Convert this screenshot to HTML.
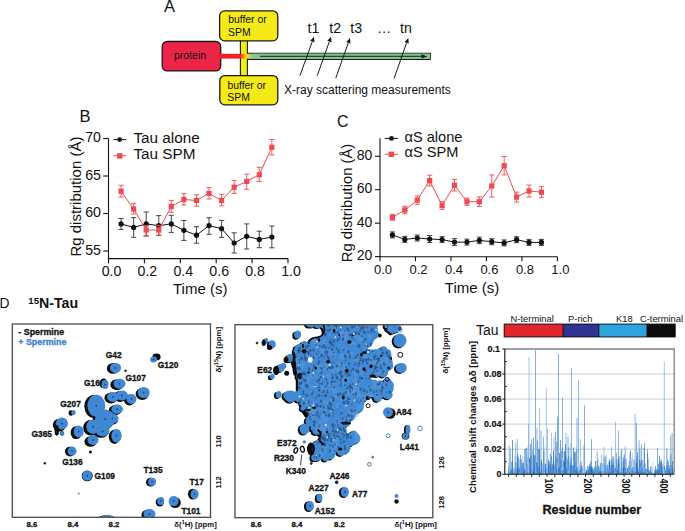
<!DOCTYPE html>
<html><head><meta charset="utf-8"><style>
html,body{margin:0;padding:0;background:#fff;}
svg{display:block;}
text{font-family:"Liberation Sans",sans-serif;}
</style></head><body>
<svg width="685" height="531" viewBox="0 0 685 531">
<rect width="685" height="531" fill="#fff"/>
<text x="164.00" y="11.70" font-size="16.5" fill="#111" text-anchor="start" >A</text>
<rect x="240.4" y="39" width="7" height="38" fill="#f3ea17" stroke="#1a1a1a" stroke-width="1.1"/>
<rect x="219.6" y="10.9" width="58.2" height="29.9" rx="5" fill="#f3ea17" stroke="#1a1a1a" stroke-width="1.3"/>
<rect x="219.8" y="75.6" width="58" height="29.2" rx="5" fill="#f3ea17" stroke="#1a1a1a" stroke-width="1.3"/>
<rect x="162.2" y="41.5" width="58.5" height="29.4" rx="5" fill="#ec2548" stroke="#1a1a1a" stroke-width="1.3"/>
<rect x="218.0" y="53.8" width="23.0" height="4.8" fill="#ee2222"/>
<defs><linearGradient id="gr" x1="0" x2="1" y1="0" y2="0"><stop offset="0" stop-color="#ee3322"/><stop offset="0.25" stop-color="#f59a1e"/><stop offset="0.5" stop-color="#f0e31a"/><stop offset="0.75" stop-color="#b8d640"/><stop offset="1" stop-color="#7cc48c"/></linearGradient></defs>
<rect x="240.8" y="53.8" width="12.5" height="4.8" fill="url(#gr)"/>
<path d="M247.6 53.2 H430.3 V59.4 H247.6" fill="none" stroke="#1a1a1a" stroke-width="1.1"/>
<rect x="253.3" y="53.8" width="176.5" height="5.1" fill="#7cc48c"/>
<line x1="260" y1="56.4" x2="423" y2="56.4" stroke="#2b4a33" stroke-width="1.1"/>
<path d="M421.5 54.2 L427.2 56.4 L421.5 58.6 Z" fill="#1a1a1a"/>
<text x="228.20" y="23.20" font-size="10.4" fill="#111" text-anchor="start" >buffer or</text>
<text x="228.10" y="35.90" font-size="10.4" fill="#111" text-anchor="start" >SPM</text>
<text x="227.40" y="88.60" font-size="10.4" fill="#111" text-anchor="start" >buffer or</text>
<text x="227.30" y="101.00" font-size="10.4" fill="#111" text-anchor="start" >SPM</text>
<text x="174.00" y="58.80" font-size="10.5" fill="#111" text-anchor="start" >protein</text>
<text x="307.60" y="33.40" font-size="14.2" fill="#111" text-anchor="start" >t1</text>
<text x="329.20" y="33.40" font-size="14.2" fill="#111" text-anchor="start" >t2</text>
<text x="350.30" y="33.40" font-size="14.2" fill="#111" text-anchor="start" >t3</text>
<text x="400.00" y="33.40" font-size="14.2" fill="#111" text-anchor="start" >tn</text>
<text x="377.00" y="33.40" font-size="14.2" fill="#111" text-anchor="start" >…</text>
<line x1="299.9" y1="75.7" x2="312.30" y2="41.50" stroke="#1a1a1a" stroke-width="1"/>
<path d="M314.00 36.80 L314.46 42.28 L310.13 40.72 Z" fill="#1a1a1a"/>
<line x1="317.2" y1="75.7" x2="329.42" y2="41.51" stroke="#1a1a1a" stroke-width="1"/>
<path d="M331.10 36.80 L331.58 42.28 L327.25 40.73 Z" fill="#1a1a1a"/>
<line x1="335.8" y1="78" x2="348.33" y2="42.71" stroke="#1a1a1a" stroke-width="1"/>
<path d="M350.00 38.00 L350.49 43.48 L346.16 41.94 Z" fill="#1a1a1a"/>
<line x1="394.1" y1="78.4" x2="406.64" y2="42.72" stroke="#1a1a1a" stroke-width="1"/>
<path d="M408.30 38.00 L408.81 43.48 L404.47 41.95 Z" fill="#1a1a1a"/>
<text x="284.00" y="94.40" font-size="12.0" fill="#111" text-anchor="start" >X-ray scattering measurements</text>
<text x="79.60" y="122.30" font-size="16.5" fill="#111" text-anchor="start" >B</text>
<path d="M108.5 138.5 V258.6 H288.0" fill="none" stroke="#111" stroke-width="1.1"/>
<line x1="103.2" y1="251.00" x2="108.5" y2="251.00" stroke="#111" stroke-width="1.1"/>
<text x="101.00" y="254.50" font-size="14.2" fill="#111" text-anchor="end" >55</text>
<line x1="103.2" y1="213.50" x2="108.5" y2="213.50" stroke="#111" stroke-width="1.1"/>
<text x="101.00" y="217.00" font-size="14.2" fill="#111" text-anchor="end" >60</text>
<line x1="103.2" y1="176.00" x2="108.5" y2="176.00" stroke="#111" stroke-width="1.1"/>
<text x="101.00" y="179.50" font-size="14.2" fill="#111" text-anchor="end" >65</text>
<line x1="103.2" y1="138.50" x2="108.5" y2="138.50" stroke="#111" stroke-width="1.1"/>
<text x="101.00" y="142.00" font-size="14.2" fill="#111" text-anchor="end" >70</text>
<line x1="108.50" y1="258.6" x2="108.50" y2="263.3" stroke="#111" stroke-width="1.1"/>
<text x="111.50" y="275.50" font-size="14.2" fill="#111" text-anchor="middle" >0.0</text>
<line x1="144.40" y1="258.6" x2="144.40" y2="263.3" stroke="#111" stroke-width="1.1"/>
<text x="147.40" y="275.50" font-size="14.2" fill="#111" text-anchor="middle" >0.2</text>
<line x1="180.30" y1="258.6" x2="180.30" y2="263.3" stroke="#111" stroke-width="1.1"/>
<text x="183.30" y="275.50" font-size="14.2" fill="#111" text-anchor="middle" >0.4</text>
<line x1="216.20" y1="258.6" x2="216.20" y2="263.3" stroke="#111" stroke-width="1.1"/>
<text x="219.20" y="275.50" font-size="14.2" fill="#111" text-anchor="middle" >0.6</text>
<line x1="252.10" y1="258.6" x2="252.10" y2="263.3" stroke="#111" stroke-width="1.1"/>
<text x="255.10" y="275.50" font-size="14.2" fill="#111" text-anchor="middle" >0.8</text>
<line x1="288.00" y1="258.6" x2="288.00" y2="263.3" stroke="#111" stroke-width="1.1"/>
<text x="291.00" y="275.50" font-size="14.2" fill="#111" text-anchor="middle" >1.0</text>
<text x="173.00" y="294.00" font-size="15" fill="#111" text-anchor="start" >Time (s)</text>
<text transform="translate(81.0,256.6) rotate(-90)" font-size="15" fill="#111">Rg distribution (Å)</text>
<polyline points="121.06,223.90 133.63,227.40 146.19,223.90 158.76,225.70 171.32,223.90 183.89,230.30 196.46,235.20 209.02,225.60 221.59,228.70 234.15,243.00 246.72,236.30 259.28,239.40 271.85,237.00" fill="none" stroke="#111" stroke-width="1.0"/>
<path d="M121.06 218.50 V229.40 M118.47 218.50 H123.66 M118.47 229.40 H123.66" stroke="#333" stroke-width="0.9" fill="none"/>
<path d="M133.63 217.60 V237.30 M131.03 217.60 H136.23 M131.03 237.30 H136.23" stroke="#333" stroke-width="0.9" fill="none"/>
<path d="M146.19 212.00 V236.00 M143.59 212.00 H148.79 M143.59 236.00 H148.79" stroke="#333" stroke-width="0.9" fill="none"/>
<path d="M158.76 215.60 V235.30 M156.16 215.60 H161.36 M156.16 235.30 H161.36" stroke="#333" stroke-width="0.9" fill="none"/>
<path d="M171.32 215.30 V232.40 M168.72 215.30 H173.92 M168.72 232.40 H173.92" stroke="#333" stroke-width="0.9" fill="none"/>
<path d="M183.89 220.50 V240.40 M181.29 220.50 H186.49 M181.29 240.40 H186.49" stroke="#333" stroke-width="0.9" fill="none"/>
<path d="M196.46 226.70 V243.20 M193.86 226.70 H199.06 M193.86 243.20 H199.06" stroke="#333" stroke-width="0.9" fill="none"/>
<path d="M209.02 217.70 V234.30 M206.42 217.70 H211.62 M206.42 234.30 H211.62" stroke="#333" stroke-width="0.9" fill="none"/>
<path d="M221.59 220.40 V237.40 M218.99 220.40 H224.19 M218.99 237.40 H224.19" stroke="#333" stroke-width="0.9" fill="none"/>
<path d="M234.15 232.80 V253.00 M231.55 232.80 H236.75 M231.55 253.00 H236.75" stroke="#333" stroke-width="0.9" fill="none"/>
<path d="M246.72 223.90 V249.00 M244.12 223.90 H249.31 M244.12 249.00 H249.31" stroke="#333" stroke-width="0.9" fill="none"/>
<path d="M259.28 231.20 V247.70 M256.68 231.20 H261.88 M256.68 247.70 H261.88" stroke="#333" stroke-width="0.9" fill="none"/>
<path d="M271.85 226.00 V247.80 M269.25 226.00 H274.45 M269.25 247.80 H274.45" stroke="#333" stroke-width="0.9" fill="none"/>
<circle cx="121.06" cy="223.90" r="2.6" fill="#111"/>
<circle cx="133.63" cy="227.40" r="2.6" fill="#111"/>
<circle cx="146.19" cy="223.90" r="2.6" fill="#111"/>
<circle cx="158.76" cy="225.70" r="2.6" fill="#111"/>
<circle cx="171.32" cy="223.90" r="2.6" fill="#111"/>
<circle cx="183.89" cy="230.30" r="2.6" fill="#111"/>
<circle cx="196.46" cy="235.20" r="2.6" fill="#111"/>
<circle cx="209.02" cy="225.60" r="2.6" fill="#111"/>
<circle cx="221.59" cy="228.70" r="2.6" fill="#111"/>
<circle cx="234.15" cy="243.00" r="2.6" fill="#111"/>
<circle cx="246.72" cy="236.30" r="2.6" fill="#111"/>
<circle cx="259.28" cy="239.40" r="2.6" fill="#111"/>
<circle cx="271.85" cy="237.00" r="2.6" fill="#111"/>
<polyline points="121.06,191.20 133.63,209.00 146.19,230.00 158.76,230.00 171.32,206.40 183.89,199.50 196.46,200.50 209.02,193.40 221.59,200.50 234.15,187.20 246.72,181.40 259.28,174.80 271.85,147.30" fill="none" stroke="#ef4a50" stroke-width="1.0"/>
<path d="M121.06 185.30 V197.10 M118.47 185.30 H123.66 M118.47 197.10 H123.66" stroke="#ef4a50" stroke-width="0.9" fill="none"/>
<path d="M133.63 203.70 V214.00 M131.03 203.70 H136.23 M131.03 214.00 H136.23" stroke="#ef4a50" stroke-width="0.9" fill="none"/>
<path d="M146.19 225.50 V236.00 M143.59 225.50 H148.79 M143.59 236.00 H148.79" stroke="#ef4a50" stroke-width="0.9" fill="none"/>
<path d="M158.76 225.50 V235.30 M156.16 225.50 H161.36 M156.16 235.30 H161.36" stroke="#ef4a50" stroke-width="0.9" fill="none"/>
<path d="M171.32 200.40 V212.30 M168.72 200.40 H173.92 M168.72 212.30 H173.92" stroke="#ef4a50" stroke-width="0.9" fill="none"/>
<path d="M183.89 193.60 V205.00 M181.29 193.60 H186.49 M181.29 205.00 H186.49" stroke="#ef4a50" stroke-width="0.9" fill="none"/>
<path d="M196.46 194.70 V206.30 M193.86 194.70 H199.06 M193.86 206.30 H199.06" stroke="#ef4a50" stroke-width="0.9" fill="none"/>
<path d="M209.02 187.60 V199.00 M206.42 187.60 H211.62 M206.42 199.00 H211.62" stroke="#ef4a50" stroke-width="0.9" fill="none"/>
<path d="M221.59 194.30 V205.90 M218.99 194.30 H224.19 M218.99 205.90 H224.19" stroke="#ef4a50" stroke-width="0.9" fill="none"/>
<path d="M234.15 180.40 V193.40 M231.55 180.40 H236.75 M231.55 193.40 H236.75" stroke="#ef4a50" stroke-width="0.9" fill="none"/>
<path d="M246.72 174.20 V189.30 M244.12 174.20 H249.31 M244.12 189.30 H249.31" stroke="#ef4a50" stroke-width="0.9" fill="none"/>
<path d="M259.28 167.30 V181.40 M256.68 167.30 H261.88 M256.68 181.40 H261.88" stroke="#ef4a50" stroke-width="0.9" fill="none"/>
<path d="M271.85 139.50 V154.90 M269.25 139.50 H274.45 M269.25 154.90 H274.45" stroke="#ef4a50" stroke-width="0.9" fill="none"/>
<rect x="118.47" y="188.60" width="5.2" height="5.2" fill="#ef4a50"/>
<rect x="131.03" y="206.40" width="5.2" height="5.2" fill="#ef4a50"/>
<rect x="143.59" y="227.40" width="5.2" height="5.2" fill="#ef4a50"/>
<rect x="156.16" y="227.40" width="5.2" height="5.2" fill="#ef4a50"/>
<rect x="168.72" y="203.80" width="5.2" height="5.2" fill="#ef4a50"/>
<rect x="181.29" y="196.90" width="5.2" height="5.2" fill="#ef4a50"/>
<rect x="193.86" y="197.90" width="5.2" height="5.2" fill="#ef4a50"/>
<rect x="206.42" y="190.80" width="5.2" height="5.2" fill="#ef4a50"/>
<rect x="218.99" y="197.90" width="5.2" height="5.2" fill="#ef4a50"/>
<rect x="231.55" y="184.60" width="5.2" height="5.2" fill="#ef4a50"/>
<rect x="244.12" y="178.80" width="5.2" height="5.2" fill="#ef4a50"/>
<rect x="256.68" y="172.20" width="5.2" height="5.2" fill="#ef4a50"/>
<rect x="269.25" y="144.70" width="5.2" height="5.2" fill="#ef4a50"/>
<line x1="113.5" y1="139.6" x2="126.2" y2="139.6" stroke="#111" stroke-width="1"/>
<circle cx="119.7" cy="139.6" r="2.4" fill="#111"/>
<line x1="113.5" y1="155.8" x2="126.2" y2="155.8" stroke="#ef4a50" stroke-width="1"/>
<rect x="117.1" y="153.2" width="5.4" height="5.4" fill="#ef4a50"/>
<text x="133.40" y="142.80" font-size="15.3" fill="#111" text-anchor="start" >Tau alone</text>
<text x="133.40" y="158.60" font-size="15.3" fill="#111" text-anchor="start" >Tau SPM</text>
<text x="337.00" y="126.90" font-size="16" fill="#111" text-anchor="start" >C</text>
<path d="M380.0 138.3 V256.8 H557.3" fill="none" stroke="#111" stroke-width="1.1"/>
<line x1="375.0" y1="256.60" x2="380.0" y2="256.60" stroke="#111" stroke-width="1.1"/>
<text x="372.40" y="260.20" font-size="14.0" fill="#111" text-anchor="end" >20</text>
<line x1="375.0" y1="223.15" x2="380.0" y2="223.15" stroke="#111" stroke-width="1.1"/>
<text x="372.40" y="226.75" font-size="14.0" fill="#111" text-anchor="end" >40</text>
<line x1="375.0" y1="189.70" x2="380.0" y2="189.70" stroke="#111" stroke-width="1.1"/>
<text x="372.40" y="193.30" font-size="14.0" fill="#111" text-anchor="end" >60</text>
<line x1="375.0" y1="156.25" x2="380.0" y2="156.25" stroke="#111" stroke-width="1.1"/>
<text x="372.40" y="159.85" font-size="14.0" fill="#111" text-anchor="end" >80</text>
<line x1="380.00" y1="256.8" x2="380.00" y2="261.3" stroke="#111" stroke-width="1.1"/>
<text x="383.00" y="274.00" font-size="13.0" fill="#111" text-anchor="middle" >0.0</text>
<line x1="415.48" y1="256.8" x2="415.48" y2="261.3" stroke="#111" stroke-width="1.1"/>
<text x="418.48" y="274.00" font-size="13.0" fill="#111" text-anchor="middle" >0.2</text>
<line x1="450.96" y1="256.8" x2="450.96" y2="261.3" stroke="#111" stroke-width="1.1"/>
<text x="453.96" y="274.00" font-size="13.0" fill="#111" text-anchor="middle" >0.4</text>
<line x1="486.44" y1="256.8" x2="486.44" y2="261.3" stroke="#111" stroke-width="1.1"/>
<text x="489.44" y="274.00" font-size="13.0" fill="#111" text-anchor="middle" >0.6</text>
<line x1="521.92" y1="256.8" x2="521.92" y2="261.3" stroke="#111" stroke-width="1.1"/>
<text x="524.92" y="274.00" font-size="13.0" fill="#111" text-anchor="middle" >0.8</text>
<line x1="557.40" y1="256.8" x2="557.40" y2="261.3" stroke="#111" stroke-width="1.1"/>
<text x="560.40" y="274.00" font-size="13.0" fill="#111" text-anchor="middle" >1.0</text>
<text x="444.80" y="292.50" font-size="15" fill="#111" text-anchor="start" >Time (s)</text>
<text transform="translate(351.6,262.2) rotate(-90)" font-size="14.8" fill="#111">Rg distribution (Å)</text>
<polyline points="392.42,234.90 404.84,239.40 417.25,238.00 429.67,239.00 442.09,239.60 454.51,242.10 466.93,242.10 479.34,240.40 491.76,241.70 504.18,242.90 516.60,239.70 529.02,242.40 541.43,242.40" fill="none" stroke="#111" stroke-width="1.0"/>
<path d="M392.42 231.90 V237.90 M389.82 231.90 H395.02 M389.82 237.90 H395.02" stroke="#333" stroke-width="0.9" fill="none"/>
<path d="M404.84 236.40 V242.40 M402.24 236.40 H407.44 M402.24 242.40 H407.44" stroke="#333" stroke-width="0.9" fill="none"/>
<path d="M417.25 235.00 V241.00 M414.65 235.00 H419.85 M414.65 241.00 H419.85" stroke="#333" stroke-width="0.9" fill="none"/>
<path d="M429.67 235.50 V242.50 M427.07 235.50 H432.27 M427.07 242.50 H432.27" stroke="#333" stroke-width="0.9" fill="none"/>
<path d="M442.09 236.60 V242.60 M439.49 236.60 H444.69 M439.49 242.60 H444.69" stroke="#333" stroke-width="0.9" fill="none"/>
<path d="M454.51 238.60 V245.60 M451.91 238.60 H457.11 M451.91 245.60 H457.11" stroke="#333" stroke-width="0.9" fill="none"/>
<path d="M466.93 239.10 V245.10 M464.33 239.10 H469.53 M464.33 245.10 H469.53" stroke="#333" stroke-width="0.9" fill="none"/>
<path d="M479.34 237.10 V243.70 M476.74 237.10 H481.94 M476.74 243.70 H481.94" stroke="#333" stroke-width="0.9" fill="none"/>
<path d="M491.76 238.70 V244.70 M489.16 238.70 H494.36 M489.16 244.70 H494.36" stroke="#333" stroke-width="0.9" fill="none"/>
<path d="M504.18 239.90 V245.90 M501.58 239.90 H506.78 M501.58 245.90 H506.78" stroke="#333" stroke-width="0.9" fill="none"/>
<path d="M516.60 236.70 V242.70 M514.00 236.70 H519.20 M514.00 242.70 H519.20" stroke="#333" stroke-width="0.9" fill="none"/>
<path d="M529.02 239.40 V245.40 M526.42 239.40 H531.62 M526.42 245.40 H531.62" stroke="#333" stroke-width="0.9" fill="none"/>
<path d="M541.43 239.40 V245.40 M538.83 239.40 H544.03 M538.83 245.40 H544.03" stroke="#333" stroke-width="0.9" fill="none"/>
<circle cx="392.42" cy="234.90" r="2.6" fill="#111"/>
<circle cx="404.84" cy="239.40" r="2.6" fill="#111"/>
<circle cx="417.25" cy="238.00" r="2.6" fill="#111"/>
<circle cx="429.67" cy="239.00" r="2.6" fill="#111"/>
<circle cx="442.09" cy="239.60" r="2.6" fill="#111"/>
<circle cx="454.51" cy="242.10" r="2.6" fill="#111"/>
<circle cx="466.93" cy="242.10" r="2.6" fill="#111"/>
<circle cx="479.34" cy="240.40" r="2.6" fill="#111"/>
<circle cx="491.76" cy="241.70" r="2.6" fill="#111"/>
<circle cx="504.18" cy="242.90" r="2.6" fill="#111"/>
<circle cx="516.60" cy="239.70" r="2.6" fill="#111"/>
<circle cx="529.02" cy="242.40" r="2.6" fill="#111"/>
<circle cx="541.43" cy="242.40" r="2.6" fill="#111"/>
<polyline points="392.42,217.30 404.84,210.00 417.25,200.10 429.67,180.60 442.09,205.50 454.51,185.20 466.93,201.70 479.34,201.70 491.76,186.00 504.18,165.70 516.60,197.10 529.02,191.00 541.43,192.20" fill="none" stroke="#ef4a50" stroke-width="1.0"/>
<path d="M392.42 214.30 V220.30 M389.82 214.30 H395.02 M389.82 220.30 H395.02" stroke="#ef4a50" stroke-width="0.9" fill="none"/>
<path d="M404.84 206.30 V213.70 M402.24 206.30 H407.44 M402.24 213.70 H407.44" stroke="#ef4a50" stroke-width="0.9" fill="none"/>
<path d="M417.25 195.90 V204.30 M414.65 195.90 H419.85 M414.65 204.30 H419.85" stroke="#ef4a50" stroke-width="0.9" fill="none"/>
<path d="M429.67 175.20 V186.00 M427.07 175.20 H432.27 M427.07 186.00 H432.27" stroke="#ef4a50" stroke-width="0.9" fill="none"/>
<path d="M442.09 201.70 V209.30 M439.49 201.70 H444.69 M439.49 209.30 H444.69" stroke="#ef4a50" stroke-width="0.9" fill="none"/>
<path d="M454.51 179.40 V191.00 M451.91 179.40 H457.11 M451.91 191.00 H457.11" stroke="#ef4a50" stroke-width="0.9" fill="none"/>
<path d="M466.93 198.10 V205.30 M464.33 198.10 H469.53 M464.33 205.30 H469.53" stroke="#ef4a50" stroke-width="0.9" fill="none"/>
<path d="M479.34 196.90 V206.50 M476.74 196.90 H481.94 M476.74 206.50 H481.94" stroke="#ef4a50" stroke-width="0.9" fill="none"/>
<path d="M491.76 175.00 V197.00 M489.16 175.00 H494.36 M489.16 197.00 H494.36" stroke="#ef4a50" stroke-width="0.9" fill="none"/>
<path d="M504.18 156.50 V174.90 M501.58 156.50 H506.78 M501.58 174.90 H506.78" stroke="#ef4a50" stroke-width="0.9" fill="none"/>
<path d="M516.60 192.10 V202.10 M514.00 192.10 H519.20 M514.00 202.10 H519.20" stroke="#ef4a50" stroke-width="0.9" fill="none"/>
<path d="M529.02 185.00 V197.00 M526.42 185.00 H531.62 M526.42 197.00 H531.62" stroke="#ef4a50" stroke-width="0.9" fill="none"/>
<path d="M541.43 186.70 V197.70 M538.83 186.70 H544.03 M538.83 197.70 H544.03" stroke="#ef4a50" stroke-width="0.9" fill="none"/>
<rect x="389.82" y="214.70" width="5.2" height="5.2" fill="#ef4a50"/>
<rect x="402.24" y="207.40" width="5.2" height="5.2" fill="#ef4a50"/>
<rect x="414.65" y="197.50" width="5.2" height="5.2" fill="#ef4a50"/>
<rect x="427.07" y="178.00" width="5.2" height="5.2" fill="#ef4a50"/>
<rect x="439.49" y="202.90" width="5.2" height="5.2" fill="#ef4a50"/>
<rect x="451.91" y="182.60" width="5.2" height="5.2" fill="#ef4a50"/>
<rect x="464.33" y="199.10" width="5.2" height="5.2" fill="#ef4a50"/>
<rect x="476.74" y="199.10" width="5.2" height="5.2" fill="#ef4a50"/>
<rect x="489.16" y="183.40" width="5.2" height="5.2" fill="#ef4a50"/>
<rect x="501.58" y="163.10" width="5.2" height="5.2" fill="#ef4a50"/>
<rect x="514.00" y="194.50" width="5.2" height="5.2" fill="#ef4a50"/>
<rect x="526.42" y="188.40" width="5.2" height="5.2" fill="#ef4a50"/>
<rect x="538.83" y="189.60" width="5.2" height="5.2" fill="#ef4a50"/>
<line x1="384.7" y1="138.4" x2="397.9" y2="138.4" stroke="#111" stroke-width="1"/>
<circle cx="391.5" cy="138.4" r="2.4" fill="#111"/>
<line x1="384.7" y1="154.3" x2="397.9" y2="154.3" stroke="#ef4a50" stroke-width="1"/>
<rect x="388.6" y="151.6" width="5.4" height="5.4" fill="#ef4a50"/>
<text x="404.50" y="141.60" font-size="14.6" fill="#111" text-anchor="start" >αS alone</text>
<text x="404.50" y="157.00" font-size="14.6" fill="#111" text-anchor="start" >αS SPM</text>
<text x="-0.60" y="307.70" font-size="13.8" fill="#111" text-anchor="start" >D</text>
<text x="28.3" y="307.7" font-size="14.2" font-weight="bold" fill="#111"><tspan font-size="9.6" dy="-4.2">15</tspan><tspan dy="4.2">N-Tau</tspan></text>
<defs><clipPath id="cl1"><rect x="12.3" y="324" width="198.2" height="193.3"/></clipPath><clipPath id="cl2"><rect x="235" y="324.7" width="197.8" height="193"/></clipPath><clipPath id="cl3"><rect x="505" y="349" width="169" height="125"/></clipPath></defs>
<g clip-path="url(#cl1)"><g fill="#0d0d0d"><ellipse cx="113.00" cy="368.40" rx="6.10" ry="5.42"/><ellipse cx="156.50" cy="356.90" rx="4.10" ry="3.42"/><ellipse cx="103.50" cy="383.40" rx="4.10" ry="4.92"/><ellipse cx="117.00" cy="384.70" rx="6.60" ry="5.42"/><ellipse cx="142.20" cy="394.00" rx="6.60" ry="5.92"/><ellipse cx="111.00" cy="398.00" rx="6.60" ry="5.42"/><ellipse cx="120.00" cy="396.50" rx="6.60" ry="5.42"/><ellipse cx="129.50" cy="400.00" rx="5.60" ry="5.42"/><ellipse cx="115.20" cy="410.20" rx="6.40" ry="5.02"/><ellipse cx="93.80" cy="406.30" rx="9.50" ry="11.42"/><ellipse cx="103.00" cy="420.30" rx="10.60" ry="10.22"/><ellipse cx="111.50" cy="419.50" rx="6.60" ry="5.42"/><ellipse cx="90.50" cy="427.70" rx="7.30" ry="7.72"/><ellipse cx="100.80" cy="432.50" rx="7.30" ry="5.32"/><ellipse cx="114.50" cy="436.80" rx="5.80" ry="7.12"/><ellipse cx="90.50" cy="441.50" rx="6.10" ry="5.32"/><ellipse cx="59.40" cy="425.10" rx="6.60" ry="6.42"/><ellipse cx="76.20" cy="432.60" rx="5.60" ry="6.42"/><ellipse cx="71.00" cy="413.10" rx="2.40" ry="2.74"/><ellipse cx="62.00" cy="433.50" rx="2.20" ry="2.14"/><ellipse cx="70.10" cy="451.60" rx="5.10" ry="4.92"/><ellipse cx="87.20" cy="475.80" rx="5.50" ry="5.42"/><ellipse cx="150.60" cy="482.20" rx="4.60" ry="4.42"/><ellipse cx="192.60" cy="494.20" rx="4.60" ry="5.42"/><ellipse cx="159.80" cy="502.10" rx="4.10" ry="4.42"/><ellipse cx="175.20" cy="502.60" rx="5.60" ry="5.42"/><ellipse cx="148.00" cy="515.00" rx="6.60" ry="5.42"/><ellipse cx="106.50" cy="518.80" rx="8.60" ry="3.62"/></g><g fill="#4289d4"><ellipse cx="115.50" cy="367.90" rx="5.5" ry="5.0"/><ellipse cx="153.50" cy="359.40" rx="3.5" ry="3.0"/><ellipse cx="105.00" cy="384.40" rx="3.5" ry="4.5"/><ellipse cx="119.50" cy="383.70" rx="6.0" ry="5.0"/><ellipse cx="143.70" cy="392.50" rx="6.0" ry="5.5"/><ellipse cx="113.00" cy="397.00" rx="6.0" ry="5.0"/><ellipse cx="122.00" cy="395.50" rx="6.0" ry="5.0"/><ellipse cx="131.50" cy="399.00" rx="5.0" ry="5.0"/><ellipse cx="117.20" cy="409.20" rx="5.8" ry="4.6"/><ellipse cx="96.30" cy="405.80" rx="8.9" ry="11.0"/><ellipse cx="105.00" cy="419.30" rx="10.0" ry="9.8"/><ellipse cx="112.50" cy="418.50" rx="6.0" ry="5.0"/><ellipse cx="93.00" cy="426.70" rx="6.7" ry="7.3"/><ellipse cx="102.80" cy="431.50" rx="6.7" ry="4.9"/><ellipse cx="116.50" cy="435.80" rx="5.2" ry="6.7"/><ellipse cx="93.00" cy="440.00" rx="5.5" ry="4.9"/><ellipse cx="61.90" cy="423.60" rx="6.0" ry="6.0"/><ellipse cx="78.70" cy="431.60" rx="5.0" ry="6.0"/><ellipse cx="73.50" cy="412.60" rx="2.2" ry="2.6"/><ellipse cx="62.00" cy="433.50" rx="2.0" ry="2.0"/><ellipse cx="72.10" cy="451.10" rx="4.5" ry="4.5"/><ellipse cx="87.20" cy="475.80" rx="4.9" ry="5.0"/><ellipse cx="152.10" cy="481.70" rx="4.0" ry="4.0"/><ellipse cx="194.60" cy="494.20" rx="4.0" ry="5.0"/><ellipse cx="160.80" cy="501.10" rx="3.5" ry="4.0"/><ellipse cx="173.70" cy="501.10" rx="5.0" ry="5.0"/><ellipse cx="149.50" cy="514.00" rx="6.0" ry="5.0"/><ellipse cx="107.50" cy="518.50" rx="8.0" ry="3.2"/></g><g fill="#1c2f4e" opacity="0.8"><ellipse cx="115.50" cy="367.90" rx="0.8" ry="1.0"/><ellipse cx="153.50" cy="359.40" rx="0.8" ry="1.0"/><ellipse cx="105.00" cy="384.40" rx="0.8" ry="1.0"/><ellipse cx="119.50" cy="383.70" rx="0.8" ry="1.0"/><ellipse cx="143.70" cy="392.50" rx="0.8" ry="1.0"/><ellipse cx="113.00" cy="397.00" rx="0.8" ry="1.0"/><ellipse cx="122.00" cy="395.50" rx="0.8" ry="1.0"/><ellipse cx="131.50" cy="399.00" rx="0.8" ry="1.0"/><ellipse cx="117.20" cy="409.20" rx="0.8" ry="1.0"/><ellipse cx="96.30" cy="405.80" rx="0.8" ry="1.0"/><ellipse cx="105.00" cy="419.30" rx="0.8" ry="1.0"/><ellipse cx="112.50" cy="418.50" rx="0.8" ry="1.0"/><ellipse cx="93.00" cy="426.70" rx="0.8" ry="1.0"/><ellipse cx="102.80" cy="431.50" rx="0.8" ry="1.0"/><ellipse cx="116.50" cy="435.80" rx="0.8" ry="1.0"/><ellipse cx="93.00" cy="440.00" rx="0.8" ry="1.0"/><ellipse cx="61.90" cy="423.60" rx="0.8" ry="1.0"/><ellipse cx="78.70" cy="431.60" rx="0.8" ry="1.0"/><ellipse cx="72.10" cy="451.10" rx="0.8" ry="1.0"/><ellipse cx="87.20" cy="475.80" rx="0.8" ry="1.0"/><ellipse cx="152.10" cy="481.70" rx="0.8" ry="1.0"/><ellipse cx="194.60" cy="494.20" rx="0.8" ry="1.0"/><ellipse cx="160.80" cy="501.10" rx="0.8" ry="1.0"/><ellipse cx="173.70" cy="501.10" rx="0.8" ry="1.0"/><ellipse cx="149.50" cy="514.00" rx="0.8" ry="1.0"/><ellipse cx="107.50" cy="518.50" rx="0.8" ry="1.0"/></g></g>
<ellipse cx="56.8" cy="430.5" rx="2.2" ry="5.2" fill="#0d0d0d"/>
<circle cx="125.5" cy="370.8" r="1.4" fill="#444"/>
<circle cx="90.4" cy="452.0" r="1.5" fill="#111"/>
<circle cx="44.8" cy="463.3" r="1.2" fill="#222"/>
<circle cx="78.7" cy="493.4" r="1.0" fill="#888"/>
<rect x="12.3" y="324" width="198.2" height="193.3" fill="none" stroke="#4a4a4a" stroke-width="1.3"/>
<text x="18.30" y="334.70" font-size="8.9" font-weight="bold" fill="#111" stroke="#111" stroke-width="0.3" text-anchor="start" >- Spermine</text>
<text x="18.30" y="345.00" font-size="8.9" font-weight="bold" fill="#3b82d0" stroke="#3b82d0" stroke-width="0.3" text-anchor="start" >+ Spermine</text>
<text x="105.80" y="357.80" font-size="8.4" font-weight="bold" fill="#111" stroke="#111" stroke-width="0.3" text-anchor="start" >G42</text>
<text x="157.80" y="368.40" font-size="8.4" font-weight="bold" fill="#111" stroke="#111" stroke-width="0.3" text-anchor="start" >G120</text>
<text x="84.00" y="385.70" font-size="8.4" font-weight="bold" fill="#111" stroke="#111" stroke-width="0.3" text-anchor="start" >G16</text>
<text x="125.40" y="381.20" font-size="8.4" font-weight="bold" fill="#111" stroke="#111" stroke-width="0.3" text-anchor="start" >G107</text>
<text x="60.30" y="406.70" font-size="8.4" font-weight="bold" fill="#111" stroke="#111" stroke-width="0.3" text-anchor="start" >G207</text>
<text x="31.50" y="436.50" font-size="8.4" font-weight="bold" fill="#111" stroke="#111" stroke-width="0.3" text-anchor="start" >G365</text>
<text x="62.20" y="464.60" font-size="8.4" font-weight="bold" fill="#111" stroke="#111" stroke-width="0.3" text-anchor="start" >G136</text>
<text x="94.50" y="478.80" font-size="8.4" font-weight="bold" fill="#111" stroke="#111" stroke-width="0.3" text-anchor="start" >G109</text>
<text x="143.50" y="473.00" font-size="8.4" font-weight="bold" fill="#111" stroke="#111" stroke-width="0.3" text-anchor="start" >T135</text>
<text x="189.40" y="484.90" font-size="8.4" font-weight="bold" fill="#111" stroke="#111" stroke-width="0.3" text-anchor="start" >T17</text>
<text x="181.40" y="513.90" font-size="8.4" font-weight="bold" fill="#111" stroke="#111" stroke-width="0.3" text-anchor="start" >T101</text>
<text x="31.80" y="527.00" font-size="7.8" font-weight="bold" fill="#111" stroke="#111" stroke-width="0.3" text-anchor="middle" >8.6</text>
<text x="73.00" y="527.00" font-size="7.8" font-weight="bold" fill="#111" stroke="#111" stroke-width="0.3" text-anchor="middle" >8.4</text>
<text x="114.00" y="527.00" font-size="7.8" font-weight="bold" fill="#111" stroke="#111" stroke-width="0.3" text-anchor="middle" >8.2</text>
<text x="174.3" y="527.0" font-size="7.8" font-weight="bold" fill="#111">δ(<tspan font-size="5.5" dy="-2.6">1</tspan><tspan dy="2.6">H) [ppm]</tspan></text>
<text transform="translate(221.0,372.5) rotate(-90)" font-size="7.8" font-weight="bold" fill="#111">δ(<tspan font-size="5.5" dy="-2.6">15</tspan><tspan dy="2.6">N) [ppm]</tspan></text>
<text transform="translate(221.0,441.3) rotate(-90)" font-size="7.6" font-weight="bold" fill="#111" text-anchor="middle">110</text>
<text transform="translate(221.0,482.3) rotate(-90)" font-size="7.6" font-weight="bold" fill="#111" text-anchor="middle">112</text>
<g clip-path="url(#cl2)"><polygon points="319.8,323.2 373.8,323.2 375.8,334.2 369.8,346.2 363.8,351.2 377.8,350.2 388.8,354.2 390.8,365.2 385.8,373.2 371.8,375.2 359.8,376.2 355.8,384.2 369.8,384.2 385.8,384.2 391.8,390.2 387.8,397.2 369.8,398.2 359.8,400.2 359.8,406.2 355.8,413.2 348.8,422.2 343.8,427.2 344.8,434.2 354.8,435.2 355.8,442.2 345.8,443.2 344.8,451.2 333.8,453.2 323.8,459.2 310.8,459.2 308.8,447.2 315.8,442.2 318.8,437.2 313.8,433.2 308.8,431.2 306.8,419.2 300.8,411.2 295.8,398.2 295.8,381.2 293.8,367.2 292.8,359.2 292.8,347.2 306.8,345.2 312.8,339.7 319.8,339.2 321.8,333.2" fill="#0d0d0d"/><polygon points="384.0,323.5 399.0,323.5 398.0,332.5 390.0,335.5 385.0,331.5" fill="#0d0d0d"/><ellipse cx="398.2" cy="341.6" rx="6.5" ry="6.8" fill="#0d0d0d"/><ellipse cx="399.4" cy="369.0" rx="5.5" ry="5.0" fill="#0d0d0d"/><ellipse cx="289.2" cy="397.7" rx="6.0" ry="6.0" fill="#0d0d0d"/><ellipse cx="302.7" cy="430.1" rx="5.0" ry="5.5" fill="#0d0d0d"/><ellipse cx="317.8" cy="450.1" rx="7.0" ry="8.0" fill="#0d0d0d"/><ellipse cx="341.2" cy="446.1" rx="4.0" ry="4.0" fill="#0d0d0d"/><ellipse cx="328.4" cy="452.1" rx="5.0" ry="5.0" fill="#0d0d0d"/><ellipse cx="295.8" cy="335.7" rx="3.5" ry="4.0" fill="#0d0d0d"/><ellipse cx="309.2" cy="325.6" rx="5.0" ry="3.0" fill="#0d0d0d"/><ellipse cx="316.2" cy="326.1" rx="4.0" ry="3.0" fill="#0d0d0d"/><ellipse cx="278.9" cy="369.1" rx="3.5" ry="4.0" fill="#0d0d0d"/><ellipse cx="288.2" cy="359.2" rx="3.5" ry="4.0" fill="#0d0d0d"/><ellipse cx="281.6" cy="367.1" rx="3.0" ry="3.0" fill="#0d0d0d"/><ellipse cx="270.4" cy="377.7" rx="2.5" ry="2.5" fill="#0d0d0d"/><ellipse cx="270.4" cy="345.3" rx="3.5" ry="4.0" fill="#0d0d0d"/><ellipse cx="264.4" cy="342.0" rx="2.0" ry="3.0" fill="#0d0d0d"/><ellipse cx="276.9" cy="395.5" rx="3.0" ry="3.5" fill="#0d0d0d"/><ellipse cx="287.5" cy="396.8" rx="6.0" ry="5.0" fill="#0d0d0d"/><ellipse cx="387.7" cy="386.8" rx="4.4" ry="4.8" fill="#0d0d0d"/><ellipse cx="374.1" cy="387.2" rx="4.2" ry="5.2" fill="#0d0d0d"/><ellipse cx="329.9" cy="453.8" rx="4.5" ry="4.2" fill="#0d0d0d"/><ellipse cx="297.5" cy="350.3" rx="4.7" ry="5.1" fill="#0d0d0d"/><ellipse cx="344.5" cy="449.3" rx="4.1" ry="5.2" fill="#0d0d0d"/><ellipse cx="314.1" cy="429.8" rx="4.5" ry="4.1" fill="#0d0d0d"/><ellipse cx="347.7" cy="325.6" rx="4.2" ry="4.3" fill="#0d0d0d"/><ellipse cx="346.2" cy="323.6" rx="3.0" ry="3.1" fill="#0d0d0d"/><ellipse cx="316.2" cy="457.1" rx="4.6" ry="4.8" fill="#0d0d0d"/><ellipse cx="385.9" cy="394.1" rx="3.8" ry="3.4" fill="#0d0d0d"/><ellipse cx="343.0" cy="425.0" rx="3.2" ry="3.2" fill="#0d0d0d"/><ellipse cx="367.6" cy="353.5" rx="2.9" ry="3.1" fill="#0d0d0d"/><ellipse cx="296.8" cy="361.1" rx="4.3" ry="4.4" fill="#0d0d0d"/><ellipse cx="328.8" cy="455.9" rx="4.6" ry="4.6" fill="#0d0d0d"/><ellipse cx="368.3" cy="325.6" rx="4.6" ry="5.4" fill="#0d0d0d"/><ellipse cx="326.6" cy="454.3" rx="3.9" ry="4.1" fill="#0d0d0d"/><ellipse cx="358.4" cy="373.9" rx="2.7" ry="2.6" fill="#0d0d0d"/><ellipse cx="365.4" cy="373.9" rx="4.3" ry="5.0" fill="#0d0d0d"/><ellipse cx="381.5" cy="373.0" rx="4.6" ry="5.6" fill="#0d0d0d"/><ellipse cx="364.5" cy="325.5" rx="2.7" ry="2.5" fill="#0d0d0d"/><ellipse cx="353.9" cy="439.5" rx="4.7" ry="5.3" fill="#0d0d0d"/><ellipse cx="367.1" cy="324.3" rx="4.3" ry="4.7" fill="#0d0d0d"/><ellipse cx="308.6" cy="345.0" rx="3.1" ry="3.5" fill="#0d0d0d"/><ellipse cx="362.3" cy="375.8" rx="3.3" ry="3.5" fill="#0d0d0d"/><ellipse cx="379.4" cy="393.6" rx="3.5" ry="4.2" fill="#0d0d0d"/><ellipse cx="317.0" cy="430.6" rx="2.8" ry="3.7" fill="#0d0d0d"/><ellipse cx="307.9" cy="422.4" rx="4.1" ry="5.2" fill="#0d0d0d"/><ellipse cx="372.9" cy="354.0" rx="2.9" ry="2.9" fill="#0d0d0d"/><ellipse cx="382.0" cy="373.0" rx="4.3" ry="5.1" fill="#0d0d0d"/><ellipse cx="351.9" cy="435.2" rx="3.1" ry="3.7" fill="#0d0d0d"/><ellipse cx="362.4" cy="397.3" rx="4.2" ry="4.4" fill="#0d0d0d"/><ellipse cx="320.3" cy="441.1" rx="2.8" ry="2.8" fill="#0d0d0d"/><ellipse cx="302.6" cy="346.3" rx="3.5" ry="4.1" fill="#0d0d0d"/><ellipse cx="365.3" cy="323.4" rx="4.3" ry="5.5" fill="#0d0d0d"/><ellipse cx="346.3" cy="423.8" rx="2.5" ry="3.0" fill="#0d0d0d"/><ellipse cx="317.1" cy="444.5" rx="4.1" ry="3.9" fill="#0d0d0d"/><ellipse cx="300.1" cy="390.7" rx="4.1" ry="4.6" fill="#0d0d0d"/><ellipse cx="357.1" cy="326.5" rx="3.4" ry="3.6" fill="#0d0d0d"/><ellipse cx="365.9" cy="386.1" rx="4.6" ry="4.7" fill="#0d0d0d"/><ellipse cx="385.5" cy="387.8" rx="4.3" ry="5.5" fill="#0d0d0d"/><ellipse cx="380.2" cy="371.3" rx="3.5" ry="3.4" fill="#0d0d0d"/><ellipse cx="311.5" cy="343.5" rx="4.2" ry="4.7" fill="#0d0d0d"/><ellipse cx="357.8" cy="374.8" rx="3.6" ry="3.5" fill="#0d0d0d"/><ellipse cx="387.8" cy="367.4" rx="3.5" ry="3.3" fill="#0d0d0d"/><ellipse cx="313.9" cy="453.6" rx="2.9" ry="2.7" fill="#0d0d0d"/><ellipse cx="294.1" cy="362.2" rx="3.4" ry="3.2" fill="#0d0d0d"/><ellipse cx="322.3" cy="342.3" rx="3.2" ry="3.5" fill="#0d0d0d"/><ellipse cx="321.0" cy="441.9" rx="3.2" ry="3.4" fill="#0d0d0d"/><ellipse cx="297.0" cy="395.5" rx="3.7" ry="3.6" fill="#0d0d0d"/><ellipse cx="364.0" cy="386.2" rx="4.8" ry="5.8" fill="#0d0d0d"/><ellipse cx="386.0" cy="324.2" rx="2.9" ry="2.6" fill="#0d0d0d"/><ellipse cx="349.1" cy="416.3" rx="4.6" ry="5.6" fill="#0d0d0d"/><ellipse cx="378.3" cy="386.4" rx="4.0" ry="5.1" fill="#0d0d0d"/><ellipse cx="367.5" cy="384.3" rx="4.7" ry="4.5" fill="#0d0d0d"/><ellipse cx="347.5" cy="323.5" rx="3.8" ry="4.3" fill="#0d0d0d"/><ellipse cx="312.8" cy="457.5" rx="2.7" ry="2.7" fill="#0d0d0d"/><ellipse cx="340.5" cy="325.9" rx="3.0" ry="3.9" fill="#0d0d0d"/><ellipse cx="354.0" cy="412.3" rx="2.8" ry="2.6" fill="#0d0d0d"/><ellipse cx="384.1" cy="396.1" rx="3.4" ry="3.2" fill="#0d0d0d"/><ellipse cx="386.1" cy="354.5" rx="3.3" ry="4.2" fill="#0d0d0d"/><ellipse cx="374.8" cy="335.6" rx="2.5" ry="3.2" fill="#0d0d0d"/><ellipse cx="312.9" cy="458.3" rx="3.5" ry="3.9" fill="#0d0d0d"/><ellipse cx="386.8" cy="395.2" rx="3.5" ry="4.0" fill="#0d0d0d"/><ellipse cx="339.8" cy="451.8" rx="3.7" ry="4.5" fill="#0d0d0d"/><ellipse cx="375.6" cy="373.6" rx="3.6" ry="4.5" fill="#0d0d0d"/><ellipse cx="344.4" cy="446.4" rx="3.0" ry="3.1" fill="#0d0d0d"/><ellipse cx="297.2" cy="395.6" rx="3.9" ry="4.1" fill="#0d0d0d"/><ellipse cx="305.5" cy="346.0" rx="2.6" ry="2.8" fill="#0d0d0d"/><ellipse cx="310.9" cy="419.1" rx="3.3" ry="3.1" fill="#0d0d0d"/><ellipse cx="311.4" cy="448.5" rx="4.1" ry="4.0" fill="#0d0d0d"/><ellipse cx="360.1" cy="403.1" rx="2.7" ry="3.1" fill="#0d0d0d"/><ellipse cx="372.5" cy="387.9" rx="3.7" ry="4.7" fill="#0d0d0d"/><ellipse cx="344.4" cy="437.7" rx="3.0" ry="2.8" fill="#0d0d0d"/><ellipse cx="363.1" cy="398.7" rx="3.2" ry="4.0" fill="#0d0d0d"/><ellipse cx="376.1" cy="397.1" rx="4.8" ry="5.9" fill="#0d0d0d"/><ellipse cx="309.4" cy="419.6" rx="3.8" ry="4.0" fill="#0d0d0d"/><ellipse cx="339.6" cy="452.0" rx="4.5" ry="5.0" fill="#0d0d0d"/><ellipse cx="324.9" cy="328.6" rx="3.1" ry="3.2" fill="#0d0d0d"/><ellipse cx="382.7" cy="387.7" rx="3.5" ry="3.5" fill="#0d0d0d"/><ellipse cx="362.0" cy="351.6" rx="3.6" ry="4.6" fill="#0d0d0d"/><ellipse cx="355.4" cy="380.7" rx="4.3" ry="4.4" fill="#0d0d0d"/><ellipse cx="323.9" cy="325.8" rx="2.9" ry="3.3" fill="#0d0d0d"/><ellipse cx="322.3" cy="325.4" rx="3.8" ry="4.5" fill="#0d0d0d"/><ellipse cx="365.6" cy="375.4" rx="3.5" ry="4.6" fill="#0d0d0d"/><ellipse cx="367.4" cy="375.0" rx="4.4" ry="4.7" fill="#0d0d0d"/><ellipse cx="357.8" cy="399.8" rx="3.4" ry="3.7" fill="#0d0d0d"/><ellipse cx="346.4" cy="323.3" rx="3.2" ry="3.8" fill="#0d0d0d"/><ellipse cx="383.7" cy="387.8" rx="3.0" ry="3.1" fill="#0d0d0d"/><ellipse cx="308.6" cy="345.2" rx="2.7" ry="2.6" fill="#0d0d0d"/><ellipse cx="298.4" cy="350.1" rx="4.4" ry="4.7" fill="#0d0d0d"/><ellipse cx="381.7" cy="352.1" rx="4.6" ry="4.7" fill="#0d0d0d"/><ellipse cx="313.5" cy="455.3" rx="3.0" ry="3.8" fill="#0d0d0d"/><ellipse cx="295.1" cy="364.7" rx="3.7" ry="4.0" fill="#0d0d0d"/><ellipse cx="386.1" cy="326.8" rx="3.4" ry="3.2" fill="#0d0d0d"/><ellipse cx="362.5" cy="384.1" rx="4.2" ry="5.1" fill="#0d0d0d"/><ellipse cx="352.8" cy="323.2" rx="3.0" ry="3.5" fill="#0d0d0d"/><ellipse cx="321.5" cy="455.5" rx="4.0" ry="4.3" fill="#0d0d0d"/><ellipse cx="372.3" cy="329.6" rx="3.6" ry="3.9" fill="#0d0d0d"/><ellipse cx="334.5" cy="325.5" rx="4.3" ry="4.4" fill="#0d0d0d"/><ellipse cx="308.2" cy="421.4" rx="4.0" ry="3.7" fill="#0d0d0d"/><ellipse cx="362.1" cy="352.1" rx="4.8" ry="4.6" fill="#0d0d0d"/><ellipse cx="356.6" cy="408.0" rx="4.7" ry="4.8" fill="#0d0d0d"/><ellipse cx="371.9" cy="325.2" rx="3.1" ry="3.3" fill="#0d0d0d"/><ellipse cx="363.0" cy="375.6" rx="3.0" ry="3.5" fill="#0d0d0d"/><ellipse cx="372.8" cy="323.6" rx="4.3" ry="5.0" fill="#0d0d0d"/><ellipse cx="385.8" cy="384.7" rx="4.6" ry="5.6" fill="#0d0d0d"/><ellipse cx="312.4" cy="446.9" rx="2.6" ry="3.3" fill="#0d0d0d"/><ellipse cx="348.5" cy="437.5" rx="3.3" ry="3.1" fill="#0d0d0d"/><ellipse cx="301.3" cy="409.4" rx="2.6" ry="2.4" fill="#0d0d0d"/><ellipse cx="356.4" cy="399.4" rx="3.5" ry="3.2" fill="#0d0d0d"/><ellipse cx="295.2" cy="352.9" rx="3.5" ry="4.1" fill="#0d0d0d"/><ellipse cx="349.5" cy="442.1" rx="4.4" ry="5.2" fill="#0d0d0d"/><ellipse cx="299.6" cy="397.9" rx="3.0" ry="3.6" fill="#0d0d0d"/><ellipse cx="324.1" cy="457.6" rx="3.9" ry="5.0" fill="#0d0d0d"/><ellipse cx="357.0" cy="409.4" rx="4.7" ry="4.2" fill="#0d0d0d"/><ellipse cx="386.6" cy="395.9" rx="4.3" ry="4.4" fill="#0d0d0d"/><ellipse cx="357.9" cy="406.2" rx="4.2" ry="5.3" fill="#0d0d0d"/><ellipse cx="313.5" cy="432.5" rx="2.7" ry="3.0" fill="#0d0d0d"/><ellipse cx="385.9" cy="324.3" rx="3.1" ry="4.0" fill="#0d0d0d"/><ellipse cx="297.5" cy="377.1" rx="2.9" ry="3.4" fill="#0d0d0d"/><ellipse cx="326.6" cy="455.5" rx="3.3" ry="3.6" fill="#0d0d0d"/><ellipse cx="373.7" cy="354.2" rx="2.9" ry="3.6" fill="#0d0d0d"/><ellipse cx="369.5" cy="372.8" rx="3.3" ry="3.1" fill="#0d0d0d"/><ellipse cx="296.9" cy="399.0" rx="3.9" ry="4.4" fill="#0d0d0d"/><ellipse cx="348.9" cy="438.8" rx="3.8" ry="3.6" fill="#0d0d0d"/><ellipse cx="315.0" cy="431.3" rx="3.5" ry="4.6" fill="#0d0d0d"/><ellipse cx="379.0" cy="371.9" rx="2.7" ry="3.5" fill="#0d0d0d"/><ellipse cx="318.8" cy="340.5" rx="3.3" ry="4.0" fill="#0d0d0d"/><ellipse cx="312.0" cy="450.5" rx="3.2" ry="4.0" fill="#0d0d0d"/><ellipse cx="372.6" cy="384.3" rx="3.1" ry="3.6" fill="#0d0d0d"/><polygon points="322,322 376,322 378,333 372,345 366,350 380,349 391,353 393,364 388,372 374,374 362,375 358,383 372,383 388,383 394,389 390,396 372,397 362,399 362,405 358,412 351,421 346,426 347,433 357,434 358,441 348,442 347,450 336,452 326,458 313,458 311,446 318,441 321,436 316,432 311,430 309,418 303,410 298,397 298,380 296,366 295,358 295,346 309,344 315,338.5 322,338 324,332" fill="#4289d4"/><polygon points="386,322 401,322 400,331 392,334 387,330" fill="#4289d4"/><ellipse cx="400.0" cy="340.5" rx="6.5" ry="6.8" fill="#4289d4"/><ellipse cx="401.2" cy="367.9" rx="5.5" ry="5.0" fill="#4289d4"/><ellipse cx="291.0" cy="396.6" rx="6.0" ry="6.0" fill="#4289d4"/><ellipse cx="304.5" cy="429.0" rx="5.0" ry="5.5" fill="#4289d4"/><ellipse cx="319.6" cy="449.0" rx="7.0" ry="8.0" fill="#4289d4"/><ellipse cx="343.0" cy="445.0" rx="4.0" ry="4.0" fill="#4289d4"/><ellipse cx="330.2" cy="451.0" rx="5.0" ry="5.0" fill="#4289d4"/><ellipse cx="297.6" cy="334.6" rx="3.5" ry="4.0" fill="#4289d4"/><ellipse cx="311.0" cy="324.5" rx="5.0" ry="3.0" fill="#4289d4"/><ellipse cx="318.0" cy="325.0" rx="4.0" ry="3.0" fill="#4289d4"/><ellipse cx="280.7" cy="368.0" rx="3.5" ry="4.0" fill="#4289d4"/><ellipse cx="290.0" cy="358.1" rx="3.5" ry="4.0" fill="#4289d4"/><ellipse cx="283.4" cy="366.0" rx="3.0" ry="3.0" fill="#4289d4"/><ellipse cx="272.2" cy="376.6" rx="2.5" ry="2.5" fill="#4289d4"/><ellipse cx="272.2" cy="344.2" rx="3.5" ry="4.0" fill="#4289d4"/><ellipse cx="266.2" cy="340.9" rx="2.0" ry="3.0" fill="#4289d4"/><ellipse cx="278.7" cy="394.4" rx="3.0" ry="3.5" fill="#4289d4"/><ellipse cx="289.3" cy="395.7" rx="6.0" ry="5.0" fill="#4289d4"/><ellipse cx="389.5" cy="385.7" rx="4.4" ry="4.8" fill="#4289d4"/><ellipse cx="375.9" cy="386.1" rx="4.2" ry="5.2" fill="#4289d4"/><ellipse cx="331.7" cy="452.7" rx="4.5" ry="4.2" fill="#4289d4"/><ellipse cx="299.3" cy="349.2" rx="4.7" ry="5.1" fill="#4289d4"/><ellipse cx="346.3" cy="448.2" rx="4.1" ry="5.2" fill="#4289d4"/><ellipse cx="315.9" cy="428.7" rx="4.5" ry="4.1" fill="#4289d4"/><ellipse cx="349.5" cy="324.5" rx="4.2" ry="4.3" fill="#4289d4"/><ellipse cx="348.0" cy="322.5" rx="3.0" ry="3.1" fill="#4289d4"/><ellipse cx="318.0" cy="456.0" rx="4.6" ry="4.8" fill="#4289d4"/><ellipse cx="387.7" cy="393.0" rx="3.8" ry="3.4" fill="#4289d4"/><ellipse cx="344.8" cy="423.9" rx="3.2" ry="3.2" fill="#4289d4"/><ellipse cx="369.4" cy="352.4" rx="2.9" ry="3.1" fill="#4289d4"/><ellipse cx="298.6" cy="360.0" rx="4.3" ry="4.4" fill="#4289d4"/><ellipse cx="330.6" cy="454.8" rx="4.6" ry="4.6" fill="#4289d4"/><ellipse cx="370.1" cy="324.5" rx="4.6" ry="5.4" fill="#4289d4"/><ellipse cx="328.4" cy="453.2" rx="3.9" ry="4.1" fill="#4289d4"/><ellipse cx="360.2" cy="372.8" rx="2.7" ry="2.6" fill="#4289d4"/><ellipse cx="367.2" cy="372.8" rx="4.3" ry="5.0" fill="#4289d4"/><ellipse cx="383.3" cy="371.9" rx="4.6" ry="5.6" fill="#4289d4"/><ellipse cx="366.3" cy="324.4" rx="2.7" ry="2.5" fill="#4289d4"/><ellipse cx="355.7" cy="438.4" rx="4.7" ry="5.3" fill="#4289d4"/><ellipse cx="368.9" cy="323.2" rx="4.3" ry="4.7" fill="#4289d4"/><ellipse cx="310.4" cy="343.9" rx="3.1" ry="3.5" fill="#4289d4"/><ellipse cx="364.1" cy="374.7" rx="3.3" ry="3.5" fill="#4289d4"/><ellipse cx="381.2" cy="392.5" rx="3.5" ry="4.2" fill="#4289d4"/><ellipse cx="318.8" cy="429.5" rx="2.8" ry="3.7" fill="#4289d4"/><ellipse cx="309.7" cy="421.3" rx="4.1" ry="5.2" fill="#4289d4"/><ellipse cx="374.7" cy="352.9" rx="2.9" ry="2.9" fill="#4289d4"/><ellipse cx="383.8" cy="371.9" rx="4.3" ry="5.1" fill="#4289d4"/><ellipse cx="353.7" cy="434.1" rx="3.1" ry="3.7" fill="#4289d4"/><ellipse cx="364.2" cy="396.2" rx="4.2" ry="4.4" fill="#4289d4"/><ellipse cx="322.1" cy="440.0" rx="2.8" ry="2.8" fill="#4289d4"/><ellipse cx="304.4" cy="345.2" rx="3.5" ry="4.1" fill="#4289d4"/><ellipse cx="367.1" cy="322.3" rx="4.3" ry="5.5" fill="#4289d4"/><ellipse cx="348.1" cy="422.7" rx="2.5" ry="3.0" fill="#4289d4"/><ellipse cx="318.9" cy="443.4" rx="4.1" ry="3.9" fill="#4289d4"/><ellipse cx="301.9" cy="389.6" rx="4.1" ry="4.6" fill="#4289d4"/><ellipse cx="358.9" cy="325.4" rx="3.4" ry="3.6" fill="#4289d4"/><ellipse cx="367.7" cy="385.0" rx="4.6" ry="4.7" fill="#4289d4"/><ellipse cx="387.3" cy="386.7" rx="4.3" ry="5.5" fill="#4289d4"/><ellipse cx="382.0" cy="370.2" rx="3.5" ry="3.4" fill="#4289d4"/><ellipse cx="313.3" cy="342.4" rx="4.2" ry="4.7" fill="#4289d4"/><ellipse cx="359.6" cy="373.7" rx="3.6" ry="3.5" fill="#4289d4"/><ellipse cx="389.6" cy="366.3" rx="3.5" ry="3.3" fill="#4289d4"/><ellipse cx="315.7" cy="452.5" rx="2.9" ry="2.7" fill="#4289d4"/><ellipse cx="295.9" cy="361.1" rx="3.4" ry="3.2" fill="#4289d4"/><ellipse cx="324.1" cy="341.2" rx="3.2" ry="3.5" fill="#4289d4"/><ellipse cx="322.8" cy="440.8" rx="3.2" ry="3.4" fill="#4289d4"/><ellipse cx="298.8" cy="394.4" rx="3.7" ry="3.6" fill="#4289d4"/><ellipse cx="365.8" cy="385.1" rx="4.8" ry="5.8" fill="#4289d4"/><ellipse cx="387.8" cy="323.1" rx="2.9" ry="2.6" fill="#4289d4"/><ellipse cx="350.9" cy="415.2" rx="4.6" ry="5.6" fill="#4289d4"/><ellipse cx="380.1" cy="385.3" rx="4.0" ry="5.1" fill="#4289d4"/><ellipse cx="369.3" cy="383.2" rx="4.7" ry="4.5" fill="#4289d4"/><ellipse cx="349.3" cy="322.4" rx="3.8" ry="4.3" fill="#4289d4"/><ellipse cx="314.6" cy="456.4" rx="2.7" ry="2.7" fill="#4289d4"/><ellipse cx="342.3" cy="324.8" rx="3.0" ry="3.9" fill="#4289d4"/><ellipse cx="355.8" cy="411.2" rx="2.8" ry="2.6" fill="#4289d4"/><ellipse cx="385.9" cy="395.0" rx="3.4" ry="3.2" fill="#4289d4"/><ellipse cx="387.9" cy="353.4" rx="3.3" ry="4.2" fill="#4289d4"/><ellipse cx="376.6" cy="334.5" rx="2.5" ry="3.2" fill="#4289d4"/><ellipse cx="314.7" cy="457.2" rx="3.5" ry="3.9" fill="#4289d4"/><ellipse cx="388.6" cy="394.1" rx="3.5" ry="4.0" fill="#4289d4"/><ellipse cx="341.6" cy="450.7" rx="3.7" ry="4.5" fill="#4289d4"/><ellipse cx="377.4" cy="372.5" rx="3.6" ry="4.5" fill="#4289d4"/><ellipse cx="346.2" cy="445.3" rx="3.0" ry="3.1" fill="#4289d4"/><ellipse cx="299.0" cy="394.5" rx="3.9" ry="4.1" fill="#4289d4"/><ellipse cx="307.3" cy="344.9" rx="2.6" ry="2.8" fill="#4289d4"/><ellipse cx="312.7" cy="418.0" rx="3.3" ry="3.1" fill="#4289d4"/><ellipse cx="313.2" cy="447.4" rx="4.1" ry="4.0" fill="#4289d4"/><ellipse cx="361.9" cy="402.0" rx="2.7" ry="3.1" fill="#4289d4"/><ellipse cx="374.3" cy="386.8" rx="3.7" ry="4.7" fill="#4289d4"/><ellipse cx="346.2" cy="436.6" rx="3.0" ry="2.8" fill="#4289d4"/><ellipse cx="364.9" cy="397.6" rx="3.2" ry="4.0" fill="#4289d4"/><ellipse cx="377.9" cy="396.0" rx="4.8" ry="5.9" fill="#4289d4"/><ellipse cx="311.2" cy="418.5" rx="3.8" ry="4.0" fill="#4289d4"/><ellipse cx="341.4" cy="450.9" rx="4.5" ry="5.0" fill="#4289d4"/><ellipse cx="326.7" cy="327.5" rx="3.1" ry="3.2" fill="#4289d4"/><ellipse cx="384.5" cy="386.6" rx="3.5" ry="3.5" fill="#4289d4"/><ellipse cx="363.8" cy="350.5" rx="3.6" ry="4.6" fill="#4289d4"/><ellipse cx="357.2" cy="379.6" rx="4.3" ry="4.4" fill="#4289d4"/><ellipse cx="325.7" cy="324.7" rx="2.9" ry="3.3" fill="#4289d4"/><ellipse cx="324.1" cy="324.3" rx="3.8" ry="4.5" fill="#4289d4"/><ellipse cx="367.4" cy="374.3" rx="3.5" ry="4.6" fill="#4289d4"/><ellipse cx="369.2" cy="373.9" rx="4.4" ry="4.7" fill="#4289d4"/><ellipse cx="359.6" cy="398.7" rx="3.4" ry="3.7" fill="#4289d4"/><ellipse cx="348.2" cy="322.2" rx="3.2" ry="3.8" fill="#4289d4"/><ellipse cx="385.5" cy="386.7" rx="3.0" ry="3.1" fill="#4289d4"/><ellipse cx="310.4" cy="344.1" rx="2.7" ry="2.6" fill="#4289d4"/><ellipse cx="300.2" cy="349.0" rx="4.4" ry="4.7" fill="#4289d4"/><ellipse cx="383.5" cy="351.0" rx="4.6" ry="4.7" fill="#4289d4"/><ellipse cx="315.3" cy="454.2" rx="3.0" ry="3.8" fill="#4289d4"/><ellipse cx="296.9" cy="363.6" rx="3.7" ry="4.0" fill="#4289d4"/><ellipse cx="387.9" cy="325.7" rx="3.4" ry="3.2" fill="#4289d4"/><ellipse cx="364.3" cy="383.0" rx="4.2" ry="5.1" fill="#4289d4"/><ellipse cx="354.6" cy="322.1" rx="3.0" ry="3.5" fill="#4289d4"/><ellipse cx="323.3" cy="454.4" rx="4.0" ry="4.3" fill="#4289d4"/><ellipse cx="374.1" cy="328.5" rx="3.6" ry="3.9" fill="#4289d4"/><ellipse cx="336.3" cy="324.4" rx="4.3" ry="4.4" fill="#4289d4"/><ellipse cx="310.0" cy="420.3" rx="4.0" ry="3.7" fill="#4289d4"/><ellipse cx="363.9" cy="351.0" rx="4.8" ry="4.6" fill="#4289d4"/><ellipse cx="358.4" cy="406.9" rx="4.7" ry="4.8" fill="#4289d4"/><ellipse cx="373.7" cy="324.1" rx="3.1" ry="3.3" fill="#4289d4"/><ellipse cx="364.8" cy="374.5" rx="3.0" ry="3.5" fill="#4289d4"/><ellipse cx="374.6" cy="322.5" rx="4.3" ry="5.0" fill="#4289d4"/><ellipse cx="387.6" cy="383.6" rx="4.6" ry="5.6" fill="#4289d4"/><ellipse cx="314.2" cy="445.8" rx="2.6" ry="3.3" fill="#4289d4"/><ellipse cx="350.3" cy="436.4" rx="3.3" ry="3.1" fill="#4289d4"/><ellipse cx="303.1" cy="408.3" rx="2.6" ry="2.4" fill="#4289d4"/><ellipse cx="358.2" cy="398.3" rx="3.5" ry="3.2" fill="#4289d4"/><ellipse cx="297.0" cy="351.8" rx="3.5" ry="4.1" fill="#4289d4"/><ellipse cx="351.3" cy="441.0" rx="4.4" ry="5.2" fill="#4289d4"/><ellipse cx="301.4" cy="396.8" rx="3.0" ry="3.6" fill="#4289d4"/><ellipse cx="325.9" cy="456.5" rx="3.9" ry="5.0" fill="#4289d4"/><ellipse cx="358.8" cy="408.3" rx="4.7" ry="4.2" fill="#4289d4"/><ellipse cx="388.4" cy="394.8" rx="4.3" ry="4.4" fill="#4289d4"/><ellipse cx="359.7" cy="405.1" rx="4.2" ry="5.3" fill="#4289d4"/><ellipse cx="315.3" cy="431.4" rx="2.7" ry="3.0" fill="#4289d4"/><ellipse cx="387.7" cy="323.2" rx="3.1" ry="4.0" fill="#4289d4"/><ellipse cx="299.3" cy="376.0" rx="2.9" ry="3.4" fill="#4289d4"/><ellipse cx="328.4" cy="454.4" rx="3.3" ry="3.6" fill="#4289d4"/><ellipse cx="375.5" cy="353.1" rx="2.9" ry="3.6" fill="#4289d4"/><ellipse cx="371.3" cy="371.7" rx="3.3" ry="3.1" fill="#4289d4"/><ellipse cx="298.7" cy="397.9" rx="3.9" ry="4.4" fill="#4289d4"/><ellipse cx="350.7" cy="437.7" rx="3.8" ry="3.6" fill="#4289d4"/><ellipse cx="316.8" cy="430.2" rx="3.5" ry="4.6" fill="#4289d4"/><ellipse cx="380.8" cy="370.8" rx="2.7" ry="3.5" fill="#4289d4"/><ellipse cx="320.6" cy="339.4" rx="3.3" ry="4.0" fill="#4289d4"/><ellipse cx="313.8" cy="449.4" rx="3.2" ry="4.0" fill="#4289d4"/><ellipse cx="374.4" cy="383.2" rx="3.1" ry="3.6" fill="#4289d4"/><ellipse cx="263.6" cy="342.9" rx="2" ry="3" fill="#0d0d0d"/><ellipse cx="269.5" cy="347.5" rx="2.5" ry="2.5" fill="#0d0d0d"/><ellipse cx="276.1" cy="370.6" rx="3" ry="4.5" fill="#0d0d0d"/><ellipse cx="286" cy="360" rx="2.5" ry="3" fill="#0d0d0d"/><ellipse cx="286.7" cy="373.3" rx="2.5" ry="2.5" fill="#0d0d0d"/><ellipse cx="299.9" cy="375.9" rx="3" ry="3" fill="#0d0d0d"/><ellipse cx="257" cy="342.9" rx="1" ry="1" fill="#0d0d0d"/><ellipse cx="294.2" cy="364" rx="1.8" ry="12" fill="#0d0d0d"/><ellipse cx="304.2" cy="351.3" rx="2.3" ry="2.3" fill="#0d0d0d"/><ellipse cx="399.8" cy="328.8" rx="2" ry="2" fill="#0d0d0d"/><ellipse cx="379.9" cy="335.6" rx="1.8" ry="2" fill="#0d0d0d"/><ellipse cx="386.2" cy="330" rx="2" ry="2" fill="#0d0d0d"/><ellipse cx="306" cy="413" rx="2.5" ry="4" fill="#0d0d0d"/><ellipse cx="311" cy="449" rx="4" ry="6.5" fill="#0d0d0d"/><ellipse cx="346" cy="423" rx="5" ry="1.6" fill="#0d0d0d"/><ellipse cx="368" cy="398" rx="2.5" ry="2" fill="#0d0d0d"/><ellipse cx="372.5" cy="376" rx="3" ry="1.5" fill="#0d0d0d"/></g>
<g clip-path="url(#cl2)"><g fill="#0d0d0d"><ellipse cx="390.00" cy="413.30" rx="5.60" ry="5.42"/><ellipse cx="405.50" cy="436.20" rx="3.80" ry="3.42"/><ellipse cx="406.50" cy="429.90" rx="2.60" ry="4.74"/><ellipse cx="318.40" cy="498.70" rx="3.60" ry="4.42"/><ellipse cx="343.40" cy="492.60" rx="4.60" ry="5.42"/><ellipse cx="308.50" cy="506.60" rx="4.60" ry="5.42"/><ellipse cx="396.50" cy="501.50" rx="2.20" ry="2.14"/></g><g fill="#4289d4"><ellipse cx="388.00" cy="412.30" rx="5" ry="5"/><ellipse cx="405.50" cy="436.20" rx="3.2" ry="3.0"/><ellipse cx="408.00" cy="429.40" rx="2.4" ry="4.6"/><ellipse cx="319.40" cy="497.70" rx="3" ry="4"/><ellipse cx="344.90" cy="492.10" rx="4" ry="5"/><ellipse cx="310.00" cy="506.10" rx="4" ry="5"/><ellipse cx="396.50" cy="496.00" rx="2" ry="2"/></g><g fill="#1c2f4e" opacity="0.8"><ellipse cx="388.00" cy="412.30" rx="0.8" ry="1.0"/><ellipse cx="405.50" cy="436.20" rx="0.8" ry="1.0"/><ellipse cx="344.90" cy="492.10" rx="0.8" ry="1.0"/><ellipse cx="310.00" cy="506.10" rx="0.8" ry="1.0"/></g></g>
<g clip-path="url(#cl2)"><g fill="#5d9fe2" opacity="0.45"><ellipse cx="317.4" cy="356.3" rx="2.7" ry="2.4"/><ellipse cx="345.9" cy="406.2" rx="1.5" ry="3.2"/><ellipse cx="355.1" cy="414.6" rx="3.2" ry="3.2"/><ellipse cx="369.5" cy="395.7" rx="1.9" ry="3.1"/><ellipse cx="341.2" cy="382.9" rx="2.7" ry="2.4"/><ellipse cx="352.3" cy="402.7" rx="2.1" ry="3.0"/><ellipse cx="379.5" cy="351.0" rx="3.4" ry="2.0"/><ellipse cx="379.9" cy="363.8" rx="2.5" ry="2.4"/><ellipse cx="307.7" cy="411.4" rx="2.1" ry="1.6"/><ellipse cx="324.5" cy="357.5" rx="2.4" ry="1.8"/><ellipse cx="329.1" cy="351.9" rx="1.9" ry="2.7"/><ellipse cx="342.1" cy="392.6" rx="2.3" ry="1.9"/><ellipse cx="324.2" cy="393.0" rx="3.5" ry="2.9"/><ellipse cx="308.1" cy="360.1" rx="1.9" ry="3.3"/><ellipse cx="323.2" cy="416.4" rx="2.0" ry="2.5"/><ellipse cx="324.7" cy="425.9" rx="2.7" ry="2.7"/><ellipse cx="370.0" cy="360.3" rx="2.9" ry="2.4"/><ellipse cx="315.2" cy="425.6" rx="2.2" ry="2.8"/><ellipse cx="377.3" cy="383.3" rx="2.8" ry="2.2"/><ellipse cx="312.4" cy="374.6" rx="3.0" ry="2.1"/><ellipse cx="302.7" cy="376.4" rx="2.0" ry="1.8"/><ellipse cx="348.5" cy="420.8" rx="1.8" ry="1.7"/><ellipse cx="360.7" cy="339.3" rx="2.8" ry="2.3"/><ellipse cx="312.4" cy="387.1" rx="2.0" ry="2.0"/><ellipse cx="348.1" cy="393.1" rx="2.8" ry="2.6"/><ellipse cx="307.2" cy="356.3" rx="2.9" ry="1.8"/><ellipse cx="324.6" cy="428.5" rx="2.0" ry="2.2"/><ellipse cx="322.0" cy="429.5" rx="2.3" ry="1.5"/><ellipse cx="365.0" cy="349.8" rx="2.3" ry="2.9"/><ellipse cx="298.0" cy="360.2" rx="3.5" ry="2.4"/><ellipse cx="347.1" cy="391.8" rx="1.8" ry="2.4"/><ellipse cx="351.2" cy="400.1" rx="2.0" ry="2.4"/><ellipse cx="344.7" cy="337.8" rx="3.4" ry="2.6"/><ellipse cx="374.8" cy="361.1" rx="3.3" ry="2.0"/><ellipse cx="372.0" cy="360.6" rx="2.7" ry="2.8"/><ellipse cx="341.8" cy="333.0" rx="2.5" ry="3.2"/><ellipse cx="383.0" cy="390.3" rx="1.9" ry="2.8"/><ellipse cx="325.6" cy="386.8" rx="2.8" ry="1.7"/><ellipse cx="315.3" cy="377.9" rx="1.8" ry="2.4"/><ellipse cx="380.9" cy="387.5" rx="3.0" ry="2.1"/><ellipse cx="314.3" cy="427.5" rx="2.0" ry="1.8"/><ellipse cx="347.7" cy="333.8" rx="2.3" ry="3.3"/><ellipse cx="365.2" cy="356.1" rx="2.7" ry="2.2"/><ellipse cx="302.6" cy="385.0" rx="1.5" ry="2.7"/><ellipse cx="329.6" cy="375.6" rx="3.2" ry="2.4"/><ellipse cx="350.6" cy="354.2" rx="2.9" ry="2.5"/><ellipse cx="327.8" cy="427.8" rx="1.9" ry="3.1"/><ellipse cx="342.3" cy="356.6" rx="3.5" ry="3.2"/><ellipse cx="378.9" cy="361.6" rx="2.1" ry="2.9"/><ellipse cx="389.1" cy="363.2" rx="1.9" ry="1.7"/><ellipse cx="338.8" cy="364.8" rx="3.0" ry="2.5"/><ellipse cx="361.5" cy="369.8" rx="2.7" ry="3.2"/><ellipse cx="367.1" cy="325.4" rx="2.6" ry="3.1"/><ellipse cx="352.2" cy="391.2" rx="2.5" ry="3.4"/><ellipse cx="336.8" cy="369.5" rx="3.2" ry="2.3"/><ellipse cx="345.8" cy="378.9" rx="3.3" ry="2.2"/><ellipse cx="322.1" cy="349.7" rx="1.9" ry="3.2"/><ellipse cx="352.3" cy="343.2" rx="3.5" ry="2.1"/><ellipse cx="342.8" cy="398.9" rx="3.3" ry="1.7"/><ellipse cx="334.6" cy="438.7" rx="3.3" ry="2.6"/><ellipse cx="313.1" cy="391.9" rx="2.5" ry="2.2"/><ellipse cx="302.9" cy="400.8" rx="2.9" ry="2.3"/><ellipse cx="386.7" cy="359.1" rx="2.1" ry="2.8"/><ellipse cx="318.7" cy="442.7" rx="1.9" ry="1.7"/><ellipse cx="324.0" cy="342.3" rx="1.7" ry="3.2"/><ellipse cx="376.9" cy="395.5" rx="1.9" ry="3.0"/><ellipse cx="335.0" cy="366.5" rx="1.9" ry="1.7"/><ellipse cx="347.7" cy="380.6" rx="1.5" ry="1.7"/><ellipse cx="318.3" cy="429.3" rx="3.3" ry="3.5"/><ellipse cx="383.2" cy="370.9" rx="3.1" ry="3.4"/><ellipse cx="374.3" cy="387.5" rx="2.5" ry="1.8"/><ellipse cx="356.0" cy="440.7" rx="1.8" ry="1.7"/><ellipse cx="335.5" cy="437.7" rx="3.5" ry="1.7"/><ellipse cx="310.4" cy="411.2" rx="1.9" ry="2.7"/><ellipse cx="322.7" cy="387.8" rx="2.1" ry="2.1"/><ellipse cx="375.5" cy="383.1" rx="3.2" ry="2.9"/><ellipse cx="371.1" cy="358.3" rx="1.8" ry="2.6"/><ellipse cx="320.7" cy="454.4" rx="2.1" ry="2.9"/><ellipse cx="325.8" cy="402.4" rx="2.4" ry="2.3"/><ellipse cx="345.6" cy="363.8" rx="2.0" ry="2.0"/><ellipse cx="332.4" cy="372.7" rx="2.0" ry="3.2"/><ellipse cx="355.2" cy="374.3" rx="1.8" ry="2.7"/><ellipse cx="343.3" cy="379.7" rx="2.1" ry="2.0"/><ellipse cx="357.3" cy="410.6" rx="3.2" ry="2.0"/><ellipse cx="332.2" cy="414.9" rx="1.6" ry="3.0"/><ellipse cx="318.8" cy="380.1" rx="3.1" ry="3.2"/><ellipse cx="338.0" cy="405.2" rx="2.6" ry="2.6"/><ellipse cx="310.4" cy="415.4" rx="2.1" ry="2.8"/><ellipse cx="321.6" cy="453.2" rx="2.1" ry="1.6"/><ellipse cx="369.9" cy="336.5" rx="2.5" ry="2.2"/><ellipse cx="357.7" cy="385.0" rx="2.3" ry="2.1"/><ellipse cx="349.2" cy="417.9" rx="2.3" ry="3.1"/><ellipse cx="312.1" cy="417.1" rx="2.9" ry="3.3"/><ellipse cx="364.7" cy="326.1" rx="2.2" ry="1.8"/><ellipse cx="323.8" cy="366.9" rx="3.0" ry="3.2"/><ellipse cx="373.1" cy="363.6" rx="3.4" ry="1.8"/><ellipse cx="318.0" cy="342.7" rx="3.3" ry="1.5"/><ellipse cx="325.7" cy="408.1" rx="3.0" ry="2.7"/><ellipse cx="344.5" cy="380.9" rx="1.6" ry="2.6"/><ellipse cx="356.2" cy="434.0" rx="2.3" ry="2.5"/><ellipse cx="380.3" cy="361.6" rx="3.0" ry="3.3"/><ellipse cx="319.4" cy="366.6" rx="3.2" ry="1.9"/><ellipse cx="343.4" cy="367.6" rx="2.2" ry="3.3"/><ellipse cx="325.1" cy="446.0" rx="3.1" ry="2.6"/><ellipse cx="361.8" cy="398.3" rx="2.1" ry="3.2"/><ellipse cx="333.7" cy="383.0" rx="1.8" ry="2.5"/><ellipse cx="332.8" cy="353.6" rx="2.9" ry="2.7"/><ellipse cx="329.6" cy="384.1" rx="1.8" ry="2.9"/><ellipse cx="307.5" cy="380.7" rx="1.9" ry="3.2"/><ellipse cx="348.8" cy="354.9" rx="2.4" ry="1.6"/><ellipse cx="363.3" cy="397.8" rx="2.8" ry="2.7"/><ellipse cx="360.0" cy="406.7" rx="3.3" ry="2.8"/><ellipse cx="320.5" cy="425.7" rx="2.8" ry="2.0"/><ellipse cx="367.0" cy="392.1" rx="1.7" ry="3.0"/><ellipse cx="334.8" cy="390.1" rx="3.4" ry="3.0"/><ellipse cx="356.0" cy="380.2" rx="3.0" ry="2.3"/><ellipse cx="324.0" cy="432.1" rx="1.9" ry="2.1"/><ellipse cx="337.4" cy="420.8" rx="2.1" ry="3.3"/><ellipse cx="361.7" cy="372.1" rx="1.6" ry="3.1"/><ellipse cx="332.4" cy="450.0" rx="1.7" ry="3.3"/><ellipse cx="349.0" cy="412.8" rx="1.7" ry="2.7"/><ellipse cx="300.8" cy="403.4" rx="2.4" ry="1.6"/><ellipse cx="374.4" cy="357.5" rx="1.7" ry="1.6"/><ellipse cx="327.3" cy="390.6" rx="2.8" ry="3.4"/><ellipse cx="334.9" cy="397.1" rx="3.2" ry="2.7"/><ellipse cx="307.5" cy="402.9" rx="2.3" ry="1.9"/><ellipse cx="314.3" cy="341.4" rx="1.9" ry="3.0"/><ellipse cx="356.0" cy="387.2" rx="2.6" ry="2.2"/><ellipse cx="339.0" cy="421.6" rx="1.5" ry="2.7"/><ellipse cx="317.2" cy="383.2" rx="2.1" ry="2.4"/><ellipse cx="357.8" cy="336.9" rx="3.0" ry="1.7"/><ellipse cx="357.6" cy="438.4" rx="2.8" ry="3.3"/><ellipse cx="398.5" cy="326.6" rx="1.8" ry="2.6"/><ellipse cx="320.2" cy="422.3" rx="2.5" ry="1.6"/><ellipse cx="358.2" cy="390.9" rx="2.2" ry="1.6"/><ellipse cx="356.3" cy="359.3" rx="3.4" ry="2.0"/><ellipse cx="335.4" cy="328.9" rx="2.3" ry="2.6"/><ellipse cx="318.3" cy="369.8" rx="2.0" ry="2.7"/><ellipse cx="325.4" cy="420.8" rx="2.4" ry="1.6"/><ellipse cx="328.3" cy="379.7" rx="2.6" ry="1.6"/><ellipse cx="386.1" cy="384.2" rx="2.7" ry="1.7"/><ellipse cx="325.5" cy="418.3" rx="3.2" ry="3.3"/><ellipse cx="387.7" cy="325.0" rx="3.4" ry="3.3"/><ellipse cx="308.6" cy="406.6" rx="3.0" ry="2.3"/><ellipse cx="314.7" cy="404.2" rx="1.9" ry="2.9"/><ellipse cx="377.4" cy="372.7" rx="2.3" ry="1.9"/><ellipse cx="302.2" cy="363.6" rx="3.1" ry="1.8"/><ellipse cx="399.3" cy="330.4" rx="3.4" ry="3.1"/><ellipse cx="334.7" cy="424.5" rx="2.3" ry="1.8"/><ellipse cx="333.4" cy="356.9" rx="1.7" ry="1.7"/><ellipse cx="328.1" cy="367.7" rx="2.9" ry="2.7"/><ellipse cx="339.1" cy="376.4" rx="1.6" ry="1.5"/><ellipse cx="389.2" cy="328.2" rx="2.3" ry="3.5"/><ellipse cx="310.7" cy="377.2" rx="2.6" ry="2.9"/><ellipse cx="328.2" cy="375.7" rx="2.7" ry="2.4"/><ellipse cx="322.0" cy="408.3" rx="2.8" ry="1.9"/><ellipse cx="301.7" cy="365.5" rx="2.5" ry="3.5"/><ellipse cx="332.2" cy="400.5" rx="3.2" ry="2.1"/><ellipse cx="324.2" cy="451.5" rx="2.2" ry="2.3"/><ellipse cx="331.5" cy="451.7" rx="1.5" ry="2.5"/><ellipse cx="339.7" cy="422.7" rx="1.6" ry="2.7"/><ellipse cx="357.8" cy="394.8" rx="3.2" ry="3.2"/><ellipse cx="337.2" cy="447.7" rx="3.4" ry="2.9"/><ellipse cx="337.2" cy="442.2" rx="1.6" ry="2.6"/><ellipse cx="313.4" cy="367.9" rx="2.3" ry="2.5"/><ellipse cx="312.8" cy="411.6" rx="3.2" ry="2.9"/></g><g fill="#1b2c4a" opacity="0.5"><ellipse cx="371.0" cy="331.6" rx="0.8" ry="1.3"/><ellipse cx="324.1" cy="412.2" rx="1.3" ry="1.1"/><ellipse cx="320.4" cy="367.9" rx="0.7" ry="1.1"/><ellipse cx="377.2" cy="371.0" rx="0.9" ry="1.2"/><ellipse cx="343.2" cy="335.3" rx="0.5" ry="1.2"/><ellipse cx="365.7" cy="344.7" rx="0.7" ry="1.1"/><ellipse cx="364.2" cy="327.0" rx="0.9" ry="1.5"/><ellipse cx="360.3" cy="360.4" rx="1.1" ry="0.8"/><ellipse cx="350.5" cy="391.3" rx="0.7" ry="1.7"/><ellipse cx="332.4" cy="349.8" rx="1.0" ry="1.2"/><ellipse cx="332.6" cy="367.2" rx="1.0" ry="1.4"/><ellipse cx="303.8" cy="403.1" rx="1.4" ry="1.8"/><ellipse cx="327.5" cy="351.9" rx="1.0" ry="1.1"/><ellipse cx="362.8" cy="361.2" rx="1.0" ry="1.3"/><ellipse cx="326.2" cy="386.4" rx="0.7" ry="1.7"/><ellipse cx="328.1" cy="407.8" rx="1.2" ry="1.2"/><ellipse cx="297.7" cy="365.9" rx="0.7" ry="1.4"/><ellipse cx="324.3" cy="357.2" rx="0.8" ry="1.3"/><ellipse cx="301.7" cy="358.2" rx="1.3" ry="1.5"/><ellipse cx="330.6" cy="408.2" rx="1.2" ry="1.1"/><ellipse cx="333.1" cy="400.1" rx="1.0" ry="1.7"/><ellipse cx="352.3" cy="327.1" rx="1.2" ry="1.7"/><ellipse cx="373.7" cy="392.1" rx="0.6" ry="1.4"/><ellipse cx="365.5" cy="371.0" rx="1.2" ry="1.8"/><ellipse cx="335.3" cy="425.2" rx="0.7" ry="0.7"/><ellipse cx="378.6" cy="360.5" rx="1.3" ry="1.9"/><ellipse cx="357.2" cy="325.3" rx="1.1" ry="1.2"/><ellipse cx="370.9" cy="344.3" rx="1.1" ry="1.8"/><ellipse cx="314.0" cy="422.0" rx="1.1" ry="1.7"/><ellipse cx="345.7" cy="392.0" rx="0.7" ry="0.9"/><ellipse cx="353.1" cy="394.5" rx="1.1" ry="0.8"/><ellipse cx="336.4" cy="327.5" rx="0.6" ry="1.8"/><ellipse cx="333.8" cy="435.1" rx="0.8" ry="1.7"/><ellipse cx="363.1" cy="360.1" rx="1.1" ry="1.8"/><ellipse cx="325.2" cy="347.3" rx="1.0" ry="1.3"/><ellipse cx="349.9" cy="387.2" rx="0.9" ry="1.2"/><ellipse cx="334.9" cy="451.2" rx="0.6" ry="0.8"/><ellipse cx="328.2" cy="348.0" rx="0.6" ry="1.1"/><ellipse cx="383.6" cy="371.2" rx="1.0" ry="1.6"/><ellipse cx="327.4" cy="392.7" rx="1.3" ry="1.1"/><ellipse cx="362.9" cy="341.7" rx="1.1" ry="0.8"/><ellipse cx="344.0" cy="402.6" rx="1.2" ry="1.7"/><ellipse cx="306.8" cy="395.5" rx="1.1" ry="1.7"/><ellipse cx="319.1" cy="361.2" rx="0.7" ry="1.0"/><ellipse cx="325.7" cy="395.4" rx="1.2" ry="1.8"/><ellipse cx="361.1" cy="349.4" rx="0.5" ry="1.0"/><ellipse cx="330.7" cy="347.5" rx="0.8" ry="1.0"/><ellipse cx="322.4" cy="347.1" rx="1.1" ry="1.5"/><ellipse cx="318.4" cy="363.1" rx="1.3" ry="1.6"/><ellipse cx="333.6" cy="427.7" rx="0.8" ry="1.2"/><ellipse cx="305.8" cy="347.8" rx="0.9" ry="1.7"/><ellipse cx="326.2" cy="353.8" rx="0.7" ry="1.4"/><ellipse cx="352.6" cy="389.5" rx="0.6" ry="1.8"/><ellipse cx="374.5" cy="358.7" rx="1.1" ry="1.5"/><ellipse cx="318.8" cy="357.5" rx="0.6" ry="1.7"/><ellipse cx="341.3" cy="430.1" rx="1.2" ry="1.0"/><ellipse cx="355.4" cy="325.5" rx="0.5" ry="1.2"/><ellipse cx="313.5" cy="356.8" rx="0.6" ry="1.0"/><ellipse cx="341.7" cy="327.3" rx="1.2" ry="1.5"/><ellipse cx="299.5" cy="348.0" rx="1.3" ry="1.3"/><ellipse cx="321.9" cy="355.7" rx="1.2" ry="1.1"/><ellipse cx="329.2" cy="415.3" rx="1.3" ry="1.5"/><ellipse cx="350.2" cy="390.5" rx="0.6" ry="1.1"/><ellipse cx="295.7" cy="356.6" rx="1.2" ry="1.0"/><ellipse cx="321.3" cy="355.4" rx="1.0" ry="1.5"/><ellipse cx="328.7" cy="358.4" rx="1.0" ry="1.6"/><ellipse cx="308.3" cy="352.1" rx="1.3" ry="1.4"/><ellipse cx="346.4" cy="373.4" rx="0.9" ry="1.6"/><ellipse cx="333.2" cy="400.7" rx="1.2" ry="1.1"/><ellipse cx="333.8" cy="433.5" rx="0.5" ry="1.2"/><ellipse cx="342.9" cy="339.1" rx="1.2" ry="1.8"/><ellipse cx="302.1" cy="373.0" rx="0.5" ry="1.6"/><ellipse cx="343.5" cy="350.1" rx="0.9" ry="1.0"/><ellipse cx="378.0" cy="359.3" rx="1.2" ry="1.8"/><ellipse cx="351.2" cy="370.8" rx="0.5" ry="1.8"/><ellipse cx="339.2" cy="373.5" rx="0.8" ry="1.0"/><ellipse cx="317.4" cy="412.3" rx="0.8" ry="1.4"/><ellipse cx="384.1" cy="364.6" rx="1.4" ry="0.7"/><ellipse cx="333.2" cy="356.4" rx="0.8" ry="0.9"/><ellipse cx="345.0" cy="448.8" rx="0.9" ry="1.8"/><ellipse cx="360.2" cy="331.1" rx="1.0" ry="1.1"/><ellipse cx="329.9" cy="445.1" rx="0.7" ry="1.2"/><ellipse cx="355.9" cy="357.7" rx="0.7" ry="1.1"/><ellipse cx="320.8" cy="406.5" rx="1.2" ry="1.4"/><ellipse cx="341.8" cy="433.3" rx="0.6" ry="0.8"/><ellipse cx="301.0" cy="399.8" rx="0.9" ry="1.6"/><ellipse cx="325.8" cy="351.9" rx="1.2" ry="1.1"/><ellipse cx="345.8" cy="405.0" rx="0.6" ry="1.2"/><ellipse cx="333.5" cy="413.5" rx="0.8" ry="1.1"/><ellipse cx="326.1" cy="334.0" rx="1.2" ry="1.1"/><ellipse cx="327.6" cy="439.9" rx="0.9" ry="1.4"/><ellipse cx="358.6" cy="346.4" rx="0.6" ry="1.7"/><ellipse cx="381.2" cy="368.6" rx="1.2" ry="1.3"/><ellipse cx="332.7" cy="431.3" rx="0.8" ry="1.0"/><ellipse cx="337.0" cy="420.5" rx="0.6" ry="1.7"/><ellipse cx="332.3" cy="381.5" rx="1.3" ry="0.7"/><ellipse cx="356.6" cy="332.7" rx="0.6" ry="1.8"/><ellipse cx="356.5" cy="371.3" rx="0.9" ry="1.6"/><ellipse cx="338.0" cy="425.5" rx="0.8" ry="1.3"/><ellipse cx="321.4" cy="432.1" rx="0.8" ry="1.3"/><ellipse cx="381.4" cy="393.5" rx="0.5" ry="1.5"/><ellipse cx="369.4" cy="386.5" rx="0.7" ry="1.1"/><ellipse cx="340.0" cy="406.0" rx="0.8" ry="1.0"/><ellipse cx="351.1" cy="387.6" rx="1.3" ry="1.5"/><ellipse cx="324.1" cy="366.7" rx="0.5" ry="1.4"/><ellipse cx="329.3" cy="362.3" rx="0.9" ry="0.8"/><ellipse cx="336.9" cy="365.9" rx="1.3" ry="1.5"/><ellipse cx="381.5" cy="368.2" rx="0.5" ry="1.4"/><ellipse cx="324.1" cy="345.2" rx="1.2" ry="1.0"/><ellipse cx="335.3" cy="444.2" rx="0.6" ry="0.7"/><ellipse cx="337.9" cy="395.1" rx="0.7" ry="1.3"/><ellipse cx="342.2" cy="376.0" rx="1.4" ry="1.1"/><ellipse cx="334.3" cy="387.4" rx="1.4" ry="0.9"/><ellipse cx="318.7" cy="426.9" rx="0.6" ry="1.1"/><ellipse cx="345.1" cy="384.9" rx="0.8" ry="1.0"/><ellipse cx="313.3" cy="391.9" rx="0.7" ry="1.8"/><ellipse cx="352.2" cy="337.0" rx="1.0" ry="1.8"/><ellipse cx="355.5" cy="364.4" rx="0.9" ry="1.2"/><ellipse cx="310.0" cy="416.5" rx="0.9" ry="1.3"/><ellipse cx="308.6" cy="353.5" rx="0.7" ry="1.7"/><ellipse cx="370.5" cy="345.8" rx="0.6" ry="1.8"/><ellipse cx="347.2" cy="371.7" rx="1.3" ry="1.8"/><ellipse cx="345.1" cy="424.1" rx="0.6" ry="1.6"/><ellipse cx="312.6" cy="369.8" rx="0.7" ry="1.5"/><ellipse cx="339.2" cy="338.8" rx="0.8" ry="1.7"/><ellipse cx="342.7" cy="418.5" rx="0.8" ry="1.3"/><ellipse cx="353.9" cy="340.5" rx="0.5" ry="1.1"/><ellipse cx="358.3" cy="381.2" rx="0.7" ry="1.9"/><ellipse cx="369.5" cy="354.3" rx="0.5" ry="0.7"/><ellipse cx="308.9" cy="369.1" rx="0.7" ry="1.5"/><ellipse cx="340.7" cy="385.3" rx="1.0" ry="1.2"/><ellipse cx="304.5" cy="354.9" rx="0.8" ry="1.4"/><ellipse cx="332.4" cy="410.3" rx="1.2" ry="1.2"/><ellipse cx="362.1" cy="327.5" rx="1.3" ry="1.6"/><ellipse cx="363.3" cy="329.9" rx="0.6" ry="1.7"/><ellipse cx="341.3" cy="366.3" rx="0.7" ry="1.1"/><ellipse cx="383.9" cy="363.2" rx="1.2" ry="0.8"/><ellipse cx="336.4" cy="326.0" rx="0.9" ry="0.8"/><ellipse cx="347.3" cy="435.1" rx="1.1" ry="1.3"/><ellipse cx="364.0" cy="390.6" rx="1.3" ry="1.5"/><ellipse cx="318.8" cy="380.4" rx="1.0" ry="1.3"/><ellipse cx="338.1" cy="449.8" rx="0.8" ry="1.4"/><ellipse cx="334.5" cy="400.1" rx="0.7" ry="0.7"/><ellipse cx="336.0" cy="432.2" rx="1.0" ry="1.4"/><ellipse cx="363.5" cy="324.5" rx="1.2" ry="1.3"/><ellipse cx="328.0" cy="416.9" rx="0.5" ry="0.9"/><ellipse cx="382.5" cy="388.0" rx="1.3" ry="1.8"/><ellipse cx="327.1" cy="429.3" rx="0.5" ry="1.3"/><ellipse cx="303.3" cy="391.7" rx="0.8" ry="1.8"/><ellipse cx="355.7" cy="393.7" rx="0.9" ry="1.8"/><ellipse cx="331.4" cy="438.5" rx="1.2" ry="0.9"/><ellipse cx="372.6" cy="351.3" rx="0.8" ry="1.0"/><ellipse cx="298.7" cy="352.6" rx="1.0" ry="1.1"/><ellipse cx="349.8" cy="420.9" rx="0.9" ry="1.2"/><ellipse cx="344.6" cy="441.5" rx="1.1" ry="0.8"/><ellipse cx="346.0" cy="392.6" rx="0.7" ry="1.8"/><ellipse cx="331.7" cy="344.2" rx="1.1" ry="1.8"/><ellipse cx="340.5" cy="380.1" rx="1.1" ry="1.0"/><ellipse cx="322.0" cy="368.5" rx="0.9" ry="1.4"/><ellipse cx="361.6" cy="354.4" rx="1.3" ry="0.7"/><ellipse cx="359.6" cy="345.4" rx="0.9" ry="1.7"/><ellipse cx="358.6" cy="371.5" rx="0.8" ry="1.8"/><ellipse cx="342.9" cy="434.8" rx="0.8" ry="1.0"/><ellipse cx="360.4" cy="360.1" rx="1.0" ry="0.7"/><ellipse cx="329.4" cy="434.0" rx="1.2" ry="0.8"/><ellipse cx="338.4" cy="447.0" rx="1.3" ry="1.3"/><ellipse cx="389.6" cy="358.3" rx="1.0" ry="1.2"/><ellipse cx="373.6" cy="357.0" rx="0.9" ry="1.1"/><ellipse cx="318.1" cy="351.6" rx="0.8" ry="0.8"/><ellipse cx="299.2" cy="368.7" rx="1.4" ry="0.7"/><ellipse cx="346.0" cy="427.3" rx="1.1" ry="0.7"/><ellipse cx="332.1" cy="381.9" rx="1.4" ry="1.2"/><ellipse cx="312.2" cy="448.8" rx="1.3" ry="1.2"/><ellipse cx="347.4" cy="328.7" rx="1.3" ry="1.2"/><ellipse cx="328.7" cy="409.1" rx="1.3" ry="0.8"/><ellipse cx="367.2" cy="327.4" rx="1.3" ry="1.0"/><ellipse cx="387.6" cy="327.5" rx="0.5" ry="1.6"/><ellipse cx="305.9" cy="385.4" rx="1.2" ry="1.2"/><ellipse cx="386.9" cy="352.8" rx="1.4" ry="1.9"/><ellipse cx="316.6" cy="404.7" rx="1.3" ry="1.1"/><ellipse cx="308.4" cy="414.7" rx="1.3" ry="1.3"/><ellipse cx="299.2" cy="387.8" rx="1.2" ry="1.7"/><ellipse cx="325.2" cy="334.5" rx="1.1" ry="1.8"/><ellipse cx="334.7" cy="435.8" rx="1.2" ry="0.9"/><ellipse cx="327.9" cy="363.0" rx="0.6" ry="1.2"/><ellipse cx="327.5" cy="356.4" rx="0.6" ry="1.7"/><ellipse cx="340.6" cy="329.6" rx="0.9" ry="0.9"/><ellipse cx="360.4" cy="358.5" rx="0.8" ry="1.0"/><ellipse cx="340.5" cy="384.3" rx="0.6" ry="1.8"/><ellipse cx="319.8" cy="346.2" rx="0.7" ry="0.9"/><ellipse cx="316.2" cy="346.2" rx="0.7" ry="1.9"/><ellipse cx="376.3" cy="366.8" rx="0.5" ry="1.8"/><ellipse cx="299.5" cy="383.6" rx="1.1" ry="1.2"/><ellipse cx="382.9" cy="352.7" rx="1.4" ry="1.3"/><ellipse cx="314.8" cy="425.9" rx="0.7" ry="1.7"/><ellipse cx="320.8" cy="377.2" rx="1.1" ry="1.2"/><ellipse cx="341.1" cy="413.4" rx="0.6" ry="1.3"/><ellipse cx="389.2" cy="356.0" rx="1.3" ry="0.9"/><ellipse cx="345.3" cy="360.2" rx="0.5" ry="1.5"/><ellipse cx="375.5" cy="366.2" rx="1.2" ry="1.5"/><ellipse cx="300.6" cy="383.6" rx="1.0" ry="1.6"/><ellipse cx="368.0" cy="332.1" rx="0.9" ry="0.9"/><ellipse cx="333.5" cy="352.6" rx="1.2" ry="0.8"/><ellipse cx="348.9" cy="363.8" rx="0.9" ry="1.5"/><ellipse cx="377.0" cy="367.8" rx="1.3" ry="0.7"/><ellipse cx="336.9" cy="436.3" rx="0.9" ry="1.1"/><ellipse cx="323.8" cy="391.6" rx="1.3" ry="1.3"/><ellipse cx="322.9" cy="438.3" rx="1.3" ry="1.6"/><ellipse cx="321.0" cy="401.1" rx="0.9" ry="1.8"/><ellipse cx="343.9" cy="401.9" rx="0.6" ry="1.3"/><ellipse cx="366.1" cy="350.3" rx="0.9" ry="1.8"/><ellipse cx="357.0" cy="370.6" rx="0.7" ry="1.5"/><ellipse cx="354.1" cy="358.4" rx="1.0" ry="0.7"/><ellipse cx="374.9" cy="367.8" rx="0.9" ry="1.8"/><ellipse cx="329.9" cy="330.0" rx="1.0" ry="1.4"/><ellipse cx="316.7" cy="414.5" rx="0.9" ry="1.0"/><ellipse cx="313.9" cy="429.1" rx="0.7" ry="0.8"/><ellipse cx="326.5" cy="379.5" rx="0.9" ry="1.4"/><ellipse cx="338.3" cy="350.0" rx="1.1" ry="1.0"/><ellipse cx="310.5" cy="350.5" rx="1.1" ry="1.6"/><ellipse cx="359.2" cy="363.6" rx="1.1" ry="1.8"/><ellipse cx="300.1" cy="401.6" rx="0.8" ry="1.3"/><ellipse cx="337.5" cy="340.5" rx="0.7" ry="1.8"/><ellipse cx="343.2" cy="437.5" rx="0.7" ry="0.8"/><ellipse cx="319.1" cy="390.0" rx="1.1" ry="1.6"/><ellipse cx="344.4" cy="330.7" rx="0.6" ry="0.9"/><ellipse cx="330.3" cy="367.2" rx="1.1" ry="1.0"/><ellipse cx="340.8" cy="375.1" rx="0.6" ry="1.6"/><ellipse cx="362.8" cy="362.0" rx="0.6" ry="1.8"/><ellipse cx="335.9" cy="374.8" rx="0.8" ry="0.9"/><ellipse cx="324.9" cy="387.1" rx="0.6" ry="0.8"/><ellipse cx="317.0" cy="338.5" rx="1.0" ry="1.2"/><ellipse cx="307.5" cy="387.2" rx="1.0" ry="0.9"/><ellipse cx="324.0" cy="407.6" rx="1.1" ry="1.3"/><ellipse cx="338.9" cy="437.1" rx="0.9" ry="1.3"/><ellipse cx="307.2" cy="384.9" rx="0.7" ry="0.9"/><ellipse cx="333.2" cy="445.9" rx="0.7" ry="1.3"/><ellipse cx="306.2" cy="346.2" rx="0.6" ry="0.9"/><ellipse cx="347.6" cy="343.3" rx="0.6" ry="1.1"/><ellipse cx="357.9" cy="355.0" rx="0.7" ry="1.7"/><ellipse cx="359.0" cy="334.0" rx="1.1" ry="1.4"/><ellipse cx="341.2" cy="382.3" rx="0.8" ry="1.0"/><ellipse cx="358.9" cy="347.7" rx="0.5" ry="0.9"/><ellipse cx="361.2" cy="328.3" rx="1.1" ry="1.4"/><ellipse cx="305.3" cy="380.5" rx="1.2" ry="1.7"/><ellipse cx="316.5" cy="456.9" rx="0.6" ry="1.6"/><ellipse cx="330.0" cy="451.0" rx="0.9" ry="1.8"/><ellipse cx="372.3" cy="373.8" rx="1.0" ry="1.3"/><ellipse cx="382.1" cy="391.1" rx="0.9" ry="1.7"/><ellipse cx="337.5" cy="422.2" rx="0.5" ry="1.5"/><ellipse cx="320.0" cy="441.6" rx="0.8" ry="1.7"/><ellipse cx="330.2" cy="329.4" rx="0.6" ry="1.0"/><ellipse cx="349.2" cy="399.2" rx="1.4" ry="0.9"/><ellipse cx="305.7" cy="359.9" rx="1.3" ry="0.9"/><ellipse cx="331.4" cy="340.0" rx="0.7" ry="0.8"/><ellipse cx="349.8" cy="356.0" rx="0.9" ry="1.9"/><ellipse cx="360.8" cy="400.2" rx="0.9" ry="1.0"/><ellipse cx="305.4" cy="357.6" rx="1.3" ry="1.6"/><ellipse cx="330.3" cy="339.0" rx="0.5" ry="1.2"/><ellipse cx="332.2" cy="374.5" rx="0.7" ry="1.4"/><ellipse cx="308.7" cy="403.0" rx="0.7" ry="1.8"/><ellipse cx="386.3" cy="384.7" rx="1.1" ry="1.6"/><ellipse cx="331.7" cy="411.0" rx="1.1" ry="1.4"/><ellipse cx="296.4" cy="368.2" rx="1.1" ry="1.1"/><ellipse cx="301.2" cy="358.8" rx="1.2" ry="1.8"/><ellipse cx="378.7" cy="358.7" rx="1.3" ry="1.7"/><ellipse cx="347.2" cy="401.8" rx="0.9" ry="1.7"/><ellipse cx="351.9" cy="416.2" rx="1.0" ry="1.3"/><ellipse cx="347.1" cy="388.3" rx="1.1" ry="1.1"/><ellipse cx="344.9" cy="435.6" rx="0.8" ry="1.2"/><ellipse cx="324.9" cy="395.1" rx="0.7" ry="1.9"/><ellipse cx="316.7" cy="354.4" rx="1.1" ry="0.9"/><ellipse cx="333.8" cy="340.9" rx="1.3" ry="1.5"/><ellipse cx="300.1" cy="350.1" rx="0.5" ry="1.7"/><ellipse cx="351.9" cy="411.1" rx="1.1" ry="1.0"/><ellipse cx="349.6" cy="387.2" rx="0.9" ry="0.9"/><ellipse cx="330.9" cy="440.2" rx="1.1" ry="1.9"/><ellipse cx="334.7" cy="381.9" rx="0.9" ry="1.2"/><ellipse cx="349.0" cy="415.7" rx="0.9" ry="1.7"/><ellipse cx="333.1" cy="426.5" rx="1.0" ry="0.9"/><ellipse cx="375.0" cy="368.5" rx="1.0" ry="1.6"/><ellipse cx="367.3" cy="363.1" rx="1.1" ry="1.1"/><ellipse cx="331.9" cy="342.8" rx="0.6" ry="1.1"/><ellipse cx="341.6" cy="377.6" rx="0.9" ry="1.3"/><ellipse cx="310.6" cy="355.1" rx="0.5" ry="1.3"/><ellipse cx="343.5" cy="428.7" rx="0.9" ry="1.8"/><ellipse cx="301.7" cy="383.0" rx="0.9" ry="1.4"/><ellipse cx="305.6" cy="359.3" rx="0.6" ry="0.8"/><ellipse cx="368.4" cy="359.2" rx="1.1" ry="1.7"/><ellipse cx="319.3" cy="387.3" rx="1.1" ry="0.9"/><ellipse cx="316.1" cy="398.0" rx="0.6" ry="1.4"/><ellipse cx="355.2" cy="410.3" rx="1.0" ry="1.2"/><ellipse cx="389.8" cy="392.3" rx="0.9" ry="1.7"/><ellipse cx="376.5" cy="391.5" rx="0.7" ry="1.1"/><ellipse cx="348.9" cy="375.0" rx="0.6" ry="1.2"/><ellipse cx="326.2" cy="395.8" rx="1.0" ry="0.8"/><ellipse cx="380.5" cy="365.3" rx="0.6" ry="1.9"/><ellipse cx="329.9" cy="342.2" rx="1.4" ry="1.7"/><ellipse cx="340.7" cy="372.1" rx="1.1" ry="1.7"/><ellipse cx="343.5" cy="441.4" rx="0.8" ry="1.2"/><ellipse cx="314.4" cy="456.6" rx="0.5" ry="1.5"/><ellipse cx="322.9" cy="451.2" rx="0.6" ry="1.9"/><ellipse cx="324.8" cy="439.7" rx="1.3" ry="1.9"/><ellipse cx="344.6" cy="446.2" rx="0.7" ry="1.3"/><ellipse cx="358.8" cy="325.3" rx="0.8" ry="1.7"/><ellipse cx="340.9" cy="373.0" rx="0.9" ry="1.5"/><ellipse cx="361.3" cy="388.5" rx="0.9" ry="0.7"/><ellipse cx="347.2" cy="376.1" rx="0.6" ry="1.1"/><ellipse cx="317.1" cy="381.4" rx="0.8" ry="1.9"/><ellipse cx="330.5" cy="368.5" rx="1.1" ry="0.9"/><ellipse cx="352.6" cy="334.6" rx="0.5" ry="1.4"/><ellipse cx="303.8" cy="373.0" rx="1.3" ry="1.4"/><ellipse cx="337.9" cy="332.5" rx="1.3" ry="1.6"/><ellipse cx="359.5" cy="402.6" rx="0.5" ry="0.9"/><ellipse cx="328.3" cy="325.9" rx="0.8" ry="1.2"/><ellipse cx="339.6" cy="428.5" rx="1.3" ry="1.4"/><ellipse cx="336.4" cy="348.3" rx="0.5" ry="1.5"/><ellipse cx="304.8" cy="374.4" rx="1.4" ry="1.0"/><ellipse cx="354.1" cy="326.7" rx="0.9" ry="0.7"/><ellipse cx="343.9" cy="393.8" rx="1.0" ry="1.9"/><ellipse cx="298.9" cy="359.9" rx="1.0" ry="0.9"/><ellipse cx="340.7" cy="393.5" rx="0.8" ry="1.3"/><ellipse cx="358.5" cy="366.2" rx="0.8" ry="0.9"/><ellipse cx="319.2" cy="379.9" rx="1.2" ry="1.8"/><ellipse cx="366.9" cy="391.7" rx="1.0" ry="1.6"/><ellipse cx="348.8" cy="402.7" rx="0.7" ry="1.4"/><ellipse cx="390.3" cy="361.7" rx="0.8" ry="0.8"/><ellipse cx="326.0" cy="415.5" rx="0.9" ry="1.3"/><ellipse cx="342.8" cy="395.2" rx="1.1" ry="1.4"/><ellipse cx="328.9" cy="367.4" rx="1.0" ry="1.2"/><ellipse cx="348.4" cy="414.5" rx="1.1" ry="0.8"/><ellipse cx="327.6" cy="383.3" rx="0.8" ry="1.7"/><ellipse cx="328.0" cy="406.2" rx="0.6" ry="1.7"/><ellipse cx="377.0" cy="363.1" rx="1.2" ry="1.0"/><ellipse cx="309.1" cy="368.8" rx="1.1" ry="1.6"/><ellipse cx="382.1" cy="386.3" rx="0.6" ry="1.7"/><ellipse cx="356.7" cy="393.6" rx="0.5" ry="0.9"/><ellipse cx="299.4" cy="368.2" rx="1.0" ry="1.9"/><ellipse cx="348.2" cy="435.0" rx="0.9" ry="1.9"/><ellipse cx="307.2" cy="359.0" rx="0.9" ry="1.6"/><ellipse cx="346.5" cy="434.6" rx="1.0" ry="1.1"/><ellipse cx="323.4" cy="437.8" rx="1.3" ry="1.8"/><ellipse cx="382.2" cy="355.3" rx="1.3" ry="0.7"/><ellipse cx="310.5" cy="419.0" rx="1.1" ry="1.2"/><ellipse cx="303.5" cy="394.3" rx="1.4" ry="1.0"/><ellipse cx="352.0" cy="404.1" rx="0.8" ry="1.7"/><ellipse cx="345.8" cy="356.8" rx="1.0" ry="0.8"/><ellipse cx="355.5" cy="324.8" rx="0.7" ry="1.8"/><ellipse cx="327.0" cy="362.0" rx="0.9" ry="1.5"/><ellipse cx="346.0" cy="356.7" rx="1.0" ry="0.8"/><ellipse cx="313.2" cy="349.4" rx="0.5" ry="1.3"/><ellipse cx="352.7" cy="384.0" rx="0.7" ry="1.1"/><ellipse cx="307.0" cy="407.8" rx="1.4" ry="1.1"/><ellipse cx="377.4" cy="359.2" rx="0.9" ry="1.3"/><ellipse cx="334.5" cy="325.4" rx="0.9" ry="1.8"/><ellipse cx="350.9" cy="437.4" rx="1.1" ry="1.4"/><ellipse cx="344.9" cy="356.1" rx="1.2" ry="1.7"/><ellipse cx="307.6" cy="386.3" rx="0.8" ry="1.3"/><ellipse cx="309.3" cy="346.1" rx="1.2" ry="0.8"/><ellipse cx="317.6" cy="405.9" rx="1.3" ry="1.0"/><ellipse cx="338.7" cy="394.5" rx="1.3" ry="1.6"/><ellipse cx="321.2" cy="372.7" rx="1.4" ry="0.9"/><ellipse cx="338.5" cy="352.0" rx="1.0" ry="1.0"/><ellipse cx="319.6" cy="455.4" rx="1.0" ry="1.8"/><ellipse cx="327.9" cy="324.3" rx="0.6" ry="0.8"/><ellipse cx="312.9" cy="375.7" rx="0.6" ry="1.0"/><ellipse cx="357.8" cy="345.7" rx="0.7" ry="1.3"/><ellipse cx="332.4" cy="416.0" rx="0.6" ry="1.4"/><ellipse cx="357.0" cy="401.5" rx="0.5" ry="1.1"/><ellipse cx="322.4" cy="392.2" rx="1.3" ry="0.8"/><ellipse cx="322.4" cy="383.3" rx="0.6" ry="1.7"/><ellipse cx="299.8" cy="362.4" rx="0.5" ry="1.2"/><ellipse cx="355.8" cy="324.3" rx="0.8" ry="1.9"/><ellipse cx="372.2" cy="329.4" rx="1.3" ry="1.7"/><ellipse cx="313.2" cy="415.3" rx="1.3" ry="0.9"/><ellipse cx="365.8" cy="352.7" rx="1.0" ry="1.9"/><ellipse cx="363.1" cy="398.2" rx="0.8" ry="1.1"/><ellipse cx="321.6" cy="437.2" rx="0.8" ry="0.7"/><ellipse cx="348.4" cy="352.1" rx="1.2" ry="1.8"/><ellipse cx="348.6" cy="330.5" rx="1.2" ry="1.2"/><ellipse cx="346.2" cy="417.1" rx="0.7" ry="1.0"/><ellipse cx="332.2" cy="378.0" rx="1.0" ry="1.4"/><ellipse cx="344.6" cy="431.0" rx="1.3" ry="1.4"/><ellipse cx="318.8" cy="416.7" rx="0.7" ry="1.9"/><ellipse cx="332.9" cy="430.4" rx="0.8" ry="1.2"/><ellipse cx="349.7" cy="374.5" rx="0.9" ry="1.2"/><ellipse cx="365.2" cy="339.3" rx="1.2" ry="1.5"/><ellipse cx="332.9" cy="424.8" rx="1.4" ry="1.5"/><ellipse cx="319.8" cy="425.1" rx="0.7" ry="0.9"/><ellipse cx="311.9" cy="393.6" rx="1.3" ry="1.1"/><ellipse cx="360.3" cy="389.5" rx="0.7" ry="1.7"/><ellipse cx="373.9" cy="331.6" rx="0.8" ry="0.9"/><ellipse cx="327.5" cy="390.6" rx="1.0" ry="1.4"/><ellipse cx="333.0" cy="376.9" rx="0.5" ry="1.5"/><ellipse cx="322.0" cy="395.4" rx="0.8" ry="1.3"/><ellipse cx="313.9" cy="366.7" rx="1.2" ry="1.0"/><ellipse cx="334.9" cy="438.5" rx="1.2" ry="1.0"/><ellipse cx="377.9" cy="384.3" rx="1.3" ry="1.2"/><ellipse cx="380.2" cy="390.4" rx="0.8" ry="1.0"/><ellipse cx="322.3" cy="449.0" rx="1.0" ry="0.8"/><ellipse cx="349.7" cy="334.8" rx="1.3" ry="1.7"/><ellipse cx="300.8" cy="358.8" rx="0.5" ry="1.2"/><ellipse cx="350.6" cy="419.9" rx="1.0" ry="1.4"/><ellipse cx="348.3" cy="398.7" rx="1.0" ry="1.2"/><ellipse cx="340.7" cy="439.7" rx="0.8" ry="1.1"/><ellipse cx="355.9" cy="357.1" rx="0.8" ry="1.8"/><ellipse cx="362.0" cy="336.2" rx="0.9" ry="1.0"/><ellipse cx="303.3" cy="379.5" rx="0.6" ry="1.1"/><ellipse cx="368.4" cy="350.7" rx="1.3" ry="1.0"/><ellipse cx="316.8" cy="406.3" rx="1.4" ry="0.8"/><ellipse cx="315.3" cy="422.6" rx="1.1" ry="1.1"/><ellipse cx="327.9" cy="330.4" rx="1.4" ry="1.0"/><ellipse cx="298.5" cy="377.0" rx="0.7" ry="1.1"/><ellipse cx="387.1" cy="392.1" rx="0.7" ry="0.8"/><ellipse cx="331.5" cy="396.8" rx="1.1" ry="0.7"/><ellipse cx="350.9" cy="410.5" rx="0.7" ry="1.0"/><ellipse cx="349.3" cy="386.5" rx="0.9" ry="1.6"/><ellipse cx="315.5" cy="379.1" rx="0.5" ry="0.8"/><ellipse cx="387.5" cy="325.4" rx="1.1" ry="1.8"/><ellipse cx="345.3" cy="363.1" rx="0.7" ry="0.8"/><ellipse cx="310.1" cy="405.8" rx="0.8" ry="0.9"/><ellipse cx="340.6" cy="429.2" rx="0.9" ry="1.0"/><ellipse cx="328.8" cy="436.8" rx="1.1" ry="1.7"/><ellipse cx="353.2" cy="369.1" rx="1.1" ry="1.5"/><ellipse cx="331.3" cy="409.7" rx="0.6" ry="1.1"/><ellipse cx="300.5" cy="350.9" rx="1.0" ry="1.2"/><ellipse cx="307.9" cy="345.8" rx="1.1" ry="1.6"/><ellipse cx="334.2" cy="398.4" rx="0.8" ry="1.2"/><ellipse cx="338.0" cy="432.8" rx="0.6" ry="1.6"/><ellipse cx="367.0" cy="324.3" rx="1.3" ry="1.5"/><ellipse cx="341.0" cy="442.7" rx="1.2" ry="1.0"/><ellipse cx="313.6" cy="350.6" rx="1.3" ry="0.8"/><ellipse cx="304.6" cy="373.4" rx="0.7" ry="1.7"/><ellipse cx="331.4" cy="384.3" rx="0.5" ry="1.9"/><ellipse cx="336.8" cy="325.9" rx="1.2" ry="1.2"/><ellipse cx="350.4" cy="385.4" rx="0.9" ry="1.2"/><ellipse cx="375.3" cy="356.3" rx="1.2" ry="1.6"/><ellipse cx="314.4" cy="385.4" rx="0.5" ry="0.9"/><ellipse cx="346.7" cy="420.7" rx="0.9" ry="1.7"/><ellipse cx="343.4" cy="424.3" rx="0.7" ry="1.2"/><ellipse cx="332.7" cy="382.2" rx="0.5" ry="0.9"/><ellipse cx="370.5" cy="390.2" rx="1.2" ry="1.0"/><ellipse cx="364.5" cy="332.3" rx="1.3" ry="1.6"/><ellipse cx="327.3" cy="369.2" rx="0.8" ry="1.3"/><ellipse cx="357.1" cy="385.3" rx="0.9" ry="0.8"/><ellipse cx="316.4" cy="414.9" rx="1.1" ry="0.8"/><ellipse cx="341.1" cy="423.1" rx="0.7" ry="1.5"/><ellipse cx="341.9" cy="363.5" rx="0.7" ry="1.6"/><ellipse cx="337.1" cy="377.3" rx="1.3" ry="1.9"/><ellipse cx="329.6" cy="402.8" rx="1.1" ry="1.0"/><ellipse cx="311.4" cy="413.6" rx="0.5" ry="0.8"/><ellipse cx="347.1" cy="437.7" rx="1.3" ry="1.2"/><ellipse cx="318.8" cy="395.5" rx="1.1" ry="1.4"/><ellipse cx="319.7" cy="383.7" rx="1.2" ry="0.9"/><ellipse cx="388.0" cy="356.4" rx="1.4" ry="1.0"/><ellipse cx="370.8" cy="360.1" rx="1.0" ry="1.2"/><ellipse cx="328.4" cy="435.9" rx="1.3" ry="1.6"/><ellipse cx="379.7" cy="383.7" rx="0.8" ry="1.4"/><ellipse cx="367.6" cy="345.2" rx="0.8" ry="1.9"/><ellipse cx="366.2" cy="360.1" rx="1.3" ry="1.4"/><ellipse cx="355.8" cy="396.1" rx="0.5" ry="1.3"/><ellipse cx="318.1" cy="443.1" rx="0.8" ry="1.8"/><ellipse cx="382.6" cy="372.8" rx="0.8" ry="1.7"/><ellipse cx="359.9" cy="377.4" rx="0.7" ry="1.5"/><ellipse cx="314.7" cy="404.7" rx="0.5" ry="0.8"/><ellipse cx="313.9" cy="425.1" rx="1.3" ry="1.7"/><ellipse cx="372.1" cy="365.5" rx="1.1" ry="1.2"/><ellipse cx="346.2" cy="367.1" rx="0.9" ry="1.1"/><ellipse cx="342.3" cy="412.8" rx="0.7" ry="0.8"/><ellipse cx="313.8" cy="357.7" rx="0.9" ry="1.3"/><ellipse cx="325.0" cy="444.9" rx="1.3" ry="1.8"/><ellipse cx="381.4" cy="349.7" rx="1.2" ry="1.3"/><ellipse cx="323.9" cy="435.2" rx="0.7" ry="0.8"/><ellipse cx="333.0" cy="362.6" rx="0.7" ry="1.1"/><ellipse cx="309.0" cy="401.6" rx="0.6" ry="1.5"/><ellipse cx="327.6" cy="432.3" rx="1.4" ry="0.8"/><ellipse cx="377.0" cy="394.9" rx="1.4" ry="1.2"/><ellipse cx="332.9" cy="397.8" rx="0.8" ry="1.5"/><ellipse cx="313.9" cy="365.9" rx="0.6" ry="1.8"/><ellipse cx="373.6" cy="371.8" rx="1.0" ry="0.7"/><ellipse cx="334.5" cy="332.4" rx="1.3" ry="1.6"/><ellipse cx="333.8" cy="345.6" rx="1.0" ry="1.0"/><ellipse cx="349.8" cy="357.3" rx="0.6" ry="1.6"/><ellipse cx="388.8" cy="367.7" rx="1.3" ry="1.2"/><ellipse cx="330.8" cy="404.5" rx="1.4" ry="1.9"/><ellipse cx="375.0" cy="369.6" rx="0.7" ry="0.9"/><ellipse cx="348.3" cy="415.5" rx="0.9" ry="1.1"/><ellipse cx="333.1" cy="447.2" rx="0.5" ry="1.4"/><ellipse cx="356.2" cy="333.3" rx="1.2" ry="1.0"/><ellipse cx="335.0" cy="431.0" rx="0.6" ry="1.8"/></g><g fill="#0a0a0a"><ellipse cx="371.0" cy="366.4" rx="1.6" ry="1.8"/><ellipse cx="345.7" cy="380.3" rx="1.4" ry="1.7"/><ellipse cx="349.4" cy="342.0" rx="2.1" ry="1.7"/><ellipse cx="352.8" cy="335.0" rx="1.7" ry="0.9"/><ellipse cx="364.0" cy="369.1" rx="1.6" ry="1.9"/><ellipse cx="361.5" cy="354.8" rx="1.3" ry="2.0"/><ellipse cx="346.8" cy="370.7" rx="1.9" ry="1.9"/><ellipse cx="328.3" cy="361.6" rx="2.1" ry="1.5"/><ellipse cx="340.3" cy="449.1" rx="2.0" ry="1.5"/><ellipse cx="391.2" cy="358.4" rx="0.8" ry="1.5"/><ellipse cx="388.5" cy="368.0" rx="1.2" ry="1.3"/><ellipse cx="319.1" cy="340.0" rx="1.1" ry="2.0"/><ellipse cx="298.3" cy="350.5" rx="0.8" ry="1.0"/><ellipse cx="339.2" cy="335.1" rx="0.8" ry="1.3"/><ellipse cx="327.0" cy="431.9" rx="0.8" ry="1.5"/><ellipse cx="308.5" cy="372.6" rx="1.3" ry="1.0"/><ellipse cx="334.1" cy="330.6" rx="1.3" ry="1.8"/><ellipse cx="381.0" cy="355.9" rx="0.9" ry="1.1"/><ellipse cx="343.3" cy="397.6" rx="1.4" ry="1.9"/><ellipse cx="308.8" cy="410.0" rx="2.0" ry="1.1"/><ellipse cx="315.7" cy="368.2" rx="1.2" ry="1.6"/><ellipse cx="303.0" cy="346.1" rx="1.1" ry="2.0"/><ellipse cx="314.1" cy="407.7" rx="1.9" ry="1.2"/><ellipse cx="364.4" cy="352.6" rx="2.2" ry="1.3"/><ellipse cx="322.7" cy="444.3" rx="1.8" ry="1.1"/></g><g fill="#eef3fa" opacity="0.9"><ellipse cx="335.2" cy="337.1" rx="0.7" ry="1.0"/><ellipse cx="354.0" cy="390.5" rx="0.7" ry="0.6"/><ellipse cx="354.7" cy="400.2" rx="0.6" ry="1.0"/><ellipse cx="353.6" cy="334.0" rx="0.9" ry="1.0"/><ellipse cx="366.3" cy="344.2" rx="1.0" ry="0.6"/><ellipse cx="346.0" cy="405.6" rx="1.2" ry="0.6"/><ellipse cx="313.4" cy="372.8" rx="0.8" ry="1.1"/><ellipse cx="337.6" cy="429.6" rx="0.8" ry="0.9"/><ellipse cx="316.3" cy="455.5" rx="0.7" ry="0.6"/><ellipse cx="333.7" cy="439.9" rx="0.8" ry="0.6"/><ellipse cx="325.8" cy="424.9" rx="1.0" ry="1.0"/><ellipse cx="372.0" cy="396.2" rx="0.5" ry="0.6"/><ellipse cx="299.6" cy="396.6" rx="1.0" ry="1.1"/><ellipse cx="376.0" cy="329.9" rx="0.8" ry="0.7"/><ellipse cx="316.8" cy="347.0" rx="1.1" ry="0.8"/><ellipse cx="315.0" cy="386.4" rx="1.3" ry="0.5"/><ellipse cx="323.5" cy="376.3" rx="0.7" ry="0.9"/><ellipse cx="298.4" cy="365.2" rx="0.9" ry="0.7"/><ellipse cx="309.1" cy="407.7" rx="1.1" ry="0.8"/><ellipse cx="368.1" cy="351.9" rx="1.1" ry="1.0"/><ellipse cx="341.0" cy="327.5" rx="1.2" ry="1.1"/><ellipse cx="356.1" cy="384.2" rx="0.7" ry="0.9"/><ellipse cx="327.4" cy="437.2" rx="0.6" ry="1.1"/><ellipse cx="329.6" cy="365.1" rx="1.2" ry="1.0"/><ellipse cx="303.1" cy="398.8" rx="0.8" ry="0.7"/><ellipse cx="316.9" cy="341.4" rx="0.9" ry="0.6"/><ellipse cx="313.4" cy="405.4" rx="1.0" ry="1.1"/><ellipse cx="357.0" cy="326.1" rx="0.9" ry="0.7"/><ellipse cx="331.2" cy="411.1" rx="1.2" ry="0.7"/></g></g>
<circle cx="420.1" cy="428.4" r="2.3" fill="none" stroke="#3f86d2" stroke-width="1"/>
<circle cx="388.2" cy="435.7" r="2.0" fill="none" stroke="#3f86d2" stroke-width="1"/>
<circle cx="372.7" cy="457.2" r="1.0" fill="#777" stroke="#777" stroke-width="1"/>
<circle cx="369.4" cy="464.3" r="1.8" fill="none" stroke="#666" stroke-width="1"/>
<circle cx="336.6" cy="482.3" r="1.3" fill="#111" stroke="#111" stroke-width="1"/>
<circle cx="257" cy="343" r="0.9" fill="#333" stroke="#333" stroke-width="1"/>
<circle cx="400.3" cy="354.8" r="2.5" fill="none" stroke="#111" stroke-width="1"/>
<circle cx="368.2" cy="405.7" r="2" fill="none" stroke="#111" stroke-width="1"/>
<circle cx="387" cy="379.3" r="2" fill="none" stroke="#111" stroke-width="1"/>
<circle cx="311.3" cy="463.5" r="0.9" fill="#222" stroke="#222" stroke-width="1"/>
<circle cx="304.3" cy="441.9" r="1.2" fill="#4289d4" stroke="#4289d4" stroke-width="1"/>
<path d="M308.5 344 Q309 338.5 315 337.5 Q322 337.5 323.8 333 Q325.5 328 323 324.5" fill="none" stroke="#0d0d0d" stroke-width="1.6" clip-path="url(#cl2)"/>
<ellipse cx="310.2" cy="359.8" rx="2.4" ry="2.8" fill="#f2f6fb"/>
<path d="M317.5 430 Q322 432 320 437 Q318 442 324 444" fill="none" stroke="#0d0d0d" stroke-width="2"/>
<ellipse cx="295.8" cy="450.4" rx="1.7" ry="2.7" transform="rotate(20 295.8 450.4)" fill="none" stroke="#111" stroke-width="1.4"/>
<ellipse cx="302.4" cy="449.2" rx="1.9" ry="3.0" transform="rotate(-15 302.4 449.2)" fill="none" stroke="#111" stroke-width="1.4"/>
<line x1="301.8" y1="454.6" x2="300.5" y2="465" stroke="#111" stroke-width="0.8"/>
<rect x="235" y="324.7" width="197.8" height="193" fill="none" stroke="#4a4a4a" stroke-width="1.3"/>
<text x="257.30" y="372.70" font-size="8.4" font-weight="bold" fill="#111" stroke="#111" stroke-width="0.3" text-anchor="start" >E62</text>
<text x="396.00" y="415.10" font-size="8.4" font-weight="bold" fill="#111" stroke="#111" stroke-width="0.3" text-anchor="start" >A84</text>
<text x="399.80" y="450.30" font-size="8.4" font-weight="bold" fill="#111" stroke="#111" stroke-width="0.3" text-anchor="start" >L441</text>
<text x="277.10" y="445.60" font-size="8.4" font-weight="bold" fill="#111" stroke="#111" stroke-width="0.3" text-anchor="start" >E372</text>
<text x="273.90" y="460.60" font-size="8.4" font-weight="bold" fill="#111" stroke="#111" stroke-width="0.3" text-anchor="start" >R230</text>
<text x="285.80" y="474.20" font-size="8.4" font-weight="bold" fill="#111" stroke="#111" stroke-width="0.3" text-anchor="start" >K340</text>
<text x="329.50" y="478.60" font-size="8.4" font-weight="bold" fill="#111" stroke="#111" stroke-width="0.3" text-anchor="start" >A246</text>
<text x="308.60" y="491.40" font-size="8.4" font-weight="bold" fill="#111" stroke="#111" stroke-width="0.3" text-anchor="start" >A227</text>
<text x="352.00" y="496.90" font-size="8.4" font-weight="bold" fill="#111" stroke="#111" stroke-width="0.3" text-anchor="start" >A77</text>
<text x="314.80" y="514.00" font-size="8.4" font-weight="bold" fill="#111" stroke="#111" stroke-width="0.3" text-anchor="start" >A152</text>
<text x="256.20" y="527.00" font-size="7.8" font-weight="bold" fill="#111" stroke="#111" stroke-width="0.3" text-anchor="middle" >8.6</text>
<text x="297.00" y="527.00" font-size="7.8" font-weight="bold" fill="#111" stroke="#111" stroke-width="0.3" text-anchor="middle" >8.4</text>
<text x="339.50" y="527.00" font-size="7.8" font-weight="bold" fill="#111" stroke="#111" stroke-width="0.3" text-anchor="middle" >8.2</text>
<text x="394.5" y="527.0" font-size="7.8" font-weight="bold" fill="#111">δ(<tspan font-size="5.5" dy="-2.6">1</tspan><tspan dy="2.6">H) [ppm]</tspan></text>
<text transform="translate(447.5,373.5) rotate(-90)" font-size="7.8" font-weight="bold" fill="#111">δ(<tspan font-size="5.5" dy="-2.6">15</tspan><tspan dy="2.6">N) [ppm]</tspan></text>
<text transform="translate(443.8,462.5) rotate(-90)" font-size="7.6" font-weight="bold" fill="#111" text-anchor="middle">126</text>
<text transform="translate(443.8,502.3) rotate(-90)" font-size="7.6" font-weight="bold" fill="#111" text-anchor="middle">128</text>
<text x="476.00" y="334.50" font-size="14.0" fill="#111" text-anchor="start" >Tau</text>
<rect x="503.7" y="323.6" width="172" height="13.8" fill="#0b0b0b"/>
<rect x="504.6" y="324.5" width="58.0" height="12" fill="#e0282c"/>
<rect x="563.5" y="324.5" width="35.0" height="12" fill="#2e3490"/>
<rect x="599.3" y="324.5" width="47.2" height="12" fill="#2ea3dd"/>
<text x="510.60" y="321.60" font-size="9.4" fill="#111" text-anchor="start" >N-terminal</text>
<text x="568.00" y="321.60" font-size="9.4" fill="#111" text-anchor="start" >P-rich</text>
<text x="616.10" y="321.60" font-size="9.4" fill="#111" text-anchor="start" >K18</text>
<text x="639.90" y="321.60" font-size="9.4" fill="#111" text-anchor="start" >C-terminal</text>
<line x1="504.8" y1="449.16" x2="674.2" y2="449.16" stroke="#b8b8b8" stroke-width="0.7"/>
<line x1="504.8" y1="424.12" x2="674.2" y2="424.12" stroke="#b8b8b8" stroke-width="0.7"/>
<line x1="504.8" y1="399.08" x2="674.2" y2="399.08" stroke="#b8b8b8" stroke-width="0.7"/>
<line x1="504.8" y1="374.04" x2="674.2" y2="374.04" stroke="#b8b8b8" stroke-width="0.7"/>
<g clip-path="url(#cl3)"><rect x="528.65" y="357.14" width="0.7" height="117.06" fill="#7aaee0"/><rect x="535.25" y="350.25" width="0.7" height="123.95" fill="#4a8ed4"/><rect x="539.25" y="407.84" width="0.7" height="66.36" fill="#7aaee0"/><rect x="545.85" y="387.81" width="0.7" height="86.39" fill="#7aaee0"/><rect x="558.25" y="354.01" width="0.7" height="120.19" fill="#4a8ed4"/><rect x="562.15" y="397.83" width="0.7" height="76.37" fill="#4a8ed4"/><rect x="570.95" y="367.78" width="0.7" height="106.42" fill="#5a9ad8"/><rect x="578.05" y="380.30" width="0.7" height="93.90" fill="#5a9ad8"/><rect x="584.15" y="405.34" width="0.7" height="68.86" fill="#4a8ed4"/><rect x="528.15" y="424.12" width="0.7" height="50.08" fill="#7aaee0"/><rect x="576.65" y="417.86" width="0.7" height="56.34" fill="#4a8ed4"/><rect x="557.15" y="416.61" width="0.7" height="57.59" fill="#4a8ed4"/><rect x="508.85" y="445.40" width="0.7" height="28.80" fill="#5a9ad8"/><rect x="516.85" y="439.14" width="0.7" height="35.06" fill="#5a9ad8"/><rect x="663.85" y="361.52" width="0.7" height="112.68" fill="#7aaee0"/><rect x="615.05" y="421.62" width="0.7" height="52.58" fill="#7aaee0"/><rect x="618.15" y="430.38" width="0.7" height="43.82" fill="#5a9ad8"/><rect x="634.75" y="414.10" width="0.7" height="60.10" fill="#5a9ad8"/><rect x="636.15" y="422.87" width="0.7" height="51.33" fill="#4a8ed4"/><rect x="591.25" y="439.14" width="0.7" height="35.06" fill="#4a8ed4"/><rect x="638.75" y="440.40" width="0.7" height="33.80" fill="#4a8ed4"/><rect x="671.75" y="432.88" width="0.7" height="41.32" fill="#5a9ad8"/><rect x="596.75" y="451.66" width="0.7" height="22.54" fill="#4a8ed4"/><rect x="603.65" y="446.66" width="0.7" height="27.54" fill="#7aaee0"/><rect x="611.05" y="446.66" width="0.7" height="27.54" fill="#7aaee0"/><rect x="624.75" y="446.66" width="0.7" height="27.54" fill="#4a8ed4"/><rect x="630.05" y="450.41" width="0.7" height="23.79" fill="#4a8ed4"/><rect x="641.35" y="444.15" width="0.7" height="30.05" fill="#4a8ed4"/><rect x="644.05" y="442.90" width="0.7" height="31.30" fill="#4a8ed4"/><rect x="647.15" y="449.16" width="0.7" height="25.04" fill="#5a9ad8"/><rect x="657.25" y="447.91" width="0.7" height="26.29" fill="#4a8ed4"/><rect x="670.45" y="435.39" width="0.7" height="38.81" fill="#5a9ad8"/><rect x="510.15" y="449.16" width="0.7" height="25.04" fill="#4a8ed4"/><rect x="515.45" y="442.90" width="0.7" height="31.30" fill="#5a9ad8"/><rect x="519.45" y="459.18" width="0.7" height="15.02" fill="#5a9ad8"/><rect x="524.65" y="449.16" width="0.7" height="25.04" fill="#5a9ad8"/><rect x="531.35" y="439.14" width="0.7" height="35.06" fill="#5a9ad8"/><rect x="536.65" y="427.88" width="0.7" height="46.32" fill="#5a9ad8"/><rect x="540.65" y="430.38" width="0.7" height="43.82" fill="#4a8ed4"/><rect x="543.15" y="436.64" width="0.7" height="37.56" fill="#5a9ad8"/><rect x="547.15" y="429.13" width="0.7" height="45.07" fill="#7aaee0"/><rect x="551.15" y="432.88" width="0.7" height="41.32" fill="#7aaee0"/><rect x="553.65" y="436.64" width="0.7" height="37.56" fill="#7aaee0"/><rect x="555.05" y="431.63" width="0.7" height="42.57" fill="#4a8ed4"/><rect x="565.65" y="432.88" width="0.7" height="41.32" fill="#5a9ad8"/><rect x="567.65" y="436.64" width="0.7" height="37.56" fill="#4a8ed4"/><rect x="570.65" y="442.90" width="0.7" height="31.30" fill="#5a9ad8"/><rect x="576.15" y="449.16" width="0.7" height="25.04" fill="#4a8ed4"/><rect x="580.15" y="439.14" width="0.7" height="35.06" fill="#7aaee0"/><rect x="508.25" y="467.46" width="0.7" height="6.74" fill="#a9c9ec"/><rect x="508.49" y="470.96" width="0.7" height="3.24" fill="#1f66b4"/><rect x="508.78" y="462.81" width="0.7" height="11.39" fill="#3a80cc"/><rect x="508.75" y="465.39" width="0.7" height="8.81" fill="#1f66b4"/><rect x="508.96" y="473.75" width="0.7" height="0.45" fill="#2f78c4"/><rect x="509.18" y="462.56" width="0.7" height="11.64" fill="#a9c9ec"/><rect x="509.28" y="474.09" width="0.7" height="0.11" fill="#3a80cc"/><rect x="509.45" y="472.74" width="0.7" height="1.46" fill="#2f78c4"/><rect x="509.78" y="449.79" width="0.7" height="24.41" fill="#a9c9ec"/><rect x="509.96" y="469.01" width="0.7" height="5.19" fill="#4a8fd4"/><rect x="510.26" y="472.25" width="0.7" height="1.95" fill="#2f78c4"/><rect x="510.31" y="474.11" width="0.7" height="0.09" fill="#a9c9ec"/><rect x="510.64" y="473.42" width="0.7" height="0.78" fill="#4a8fd4"/><rect x="510.81" y="474.13" width="0.7" height="0.07" fill="#a9c9ec"/><rect x="511.03" y="472.99" width="0.7" height="1.21" fill="#1f66b4"/><rect x="511.04" y="469.78" width="0.7" height="4.42" fill="#3a80cc"/><rect x="511.41" y="470.83" width="0.7" height="3.37" fill="#a9c9ec"/><rect x="511.41" y="470.81" width="0.7" height="3.39" fill="#4a8fd4"/><rect x="511.57" y="461.80" width="0.7" height="12.40" fill="#1f66b4"/><rect x="511.85" y="460.78" width="0.7" height="13.42" fill="#4a8fd4"/><rect x="512.01" y="440.16" width="0.7" height="34.04" fill="#1f66b4"/><rect x="512.34" y="473.54" width="0.7" height="0.66" fill="#4a8fd4"/><rect x="512.40" y="472.34" width="0.7" height="1.86" fill="#1f66b4"/><rect x="512.63" y="472.02" width="0.7" height="2.18" fill="#2f78c4"/><rect x="512.74" y="472.75" width="0.7" height="1.45" fill="#3a80cc"/><rect x="512.99" y="468.49" width="0.7" height="5.71" fill="#7db0e2"/><rect x="513.29" y="473.35" width="0.7" height="0.85" fill="#1f66b4"/><rect x="513.44" y="468.89" width="0.7" height="5.31" fill="#a9c9ec"/><rect x="513.54" y="473.16" width="0.7" height="1.04" fill="#4a8fd4"/><rect x="513.93" y="472.42" width="0.7" height="1.78" fill="#4a8fd4"/><rect x="513.92" y="468.04" width="0.7" height="6.16" fill="#1f66b4"/><rect x="514.13" y="455.58" width="0.7" height="18.62" fill="#a9c9ec"/><rect x="514.44" y="470.80" width="0.7" height="3.40" fill="#2f78c4"/><rect x="514.49" y="469.74" width="0.7" height="4.46" fill="#7db0e2"/><rect x="514.72" y="466.63" width="0.7" height="7.57" fill="#7db0e2"/><rect x="514.96" y="459.59" width="0.7" height="14.61" fill="#a9c9ec"/><rect x="515.12" y="473.00" width="0.7" height="1.20" fill="#3a80cc"/><rect x="515.52" y="473.36" width="0.7" height="0.84" fill="#a9c9ec"/><rect x="515.58" y="462.32" width="0.7" height="11.88" fill="#1f66b4"/><rect x="515.63" y="472.72" width="0.7" height="1.48" fill="#4a8fd4"/><rect x="516.02" y="473.75" width="0.7" height="0.45" fill="#a9c9ec"/><rect x="516.13" y="473.81" width="0.7" height="0.39" fill="#4a8fd4"/><rect x="516.27" y="469.50" width="0.7" height="4.70" fill="#4a8fd4"/><rect x="516.41" y="473.27" width="0.7" height="0.93" fill="#a9c9ec"/><rect x="516.86" y="467.56" width="0.7" height="6.64" fill="#3a80cc"/><rect x="516.92" y="455.98" width="0.7" height="18.22" fill="#1f66b4"/><rect x="516.97" y="474.09" width="0.7" height="0.11" fill="#7db0e2"/><rect x="517.36" y="453.77" width="0.7" height="20.43" fill="#2f78c4"/><rect x="517.52" y="473.72" width="0.7" height="0.48" fill="#2f78c4"/><rect x="517.75" y="471.82" width="0.7" height="2.38" fill="#2f78c4"/><rect x="517.75" y="469.29" width="0.7" height="4.91" fill="#3a80cc"/><rect x="517.93" y="457.11" width="0.7" height="17.09" fill="#3a80cc"/><rect x="518.32" y="464.41" width="0.7" height="9.79" fill="#7db0e2"/><rect x="518.41" y="467.02" width="0.7" height="7.18" fill="#2f78c4"/><rect x="518.76" y="470.85" width="0.7" height="3.35" fill="#2f78c4"/><rect x="518.95" y="468.92" width="0.7" height="5.28" fill="#1f66b4"/><rect x="519.08" y="471.24" width="0.7" height="2.96" fill="#2f78c4"/><rect x="519.26" y="473.68" width="0.7" height="0.52" fill="#3a80cc"/><rect x="519.30" y="472.35" width="0.7" height="1.85" fill="#a9c9ec"/><rect x="519.68" y="471.15" width="0.7" height="3.05" fill="#3a80cc"/><rect x="519.86" y="470.40" width="0.7" height="3.80" fill="#a9c9ec"/><rect x="520.09" y="473.66" width="0.7" height="0.54" fill="#1f66b4"/><rect x="520.04" y="468.49" width="0.7" height="5.71" fill="#a9c9ec"/><rect x="520.23" y="454.60" width="0.7" height="19.60" fill="#2f78c4"/><rect x="520.57" y="468.28" width="0.7" height="5.92" fill="#a9c9ec"/><rect x="520.69" y="474.13" width="0.7" height="0.07" fill="#7db0e2"/><rect x="520.85" y="468.32" width="0.7" height="5.88" fill="#1f66b4"/><rect x="521.05" y="459.54" width="0.7" height="14.66" fill="#3a80cc"/><rect x="521.47" y="469.92" width="0.7" height="4.28" fill="#4a8fd4"/><rect x="521.48" y="467.39" width="0.7" height="6.81" fill="#4a8fd4"/><rect x="521.77" y="464.09" width="0.7" height="10.11" fill="#4a8fd4"/><rect x="522.03" y="471.19" width="0.7" height="3.01" fill="#1f66b4"/><rect x="522.24" y="472.74" width="0.7" height="1.46" fill="#4a8fd4"/><rect x="522.30" y="462.93" width="0.7" height="11.27" fill="#2f78c4"/><rect x="522.56" y="455.60" width="0.7" height="18.60" fill="#7db0e2"/><rect x="522.78" y="473.46" width="0.7" height="0.74" fill="#a9c9ec"/><rect x="522.81" y="472.70" width="0.7" height="1.50" fill="#a9c9ec"/><rect x="523.04" y="469.64" width="0.7" height="4.56" fill="#3a80cc"/><rect x="523.21" y="462.85" width="0.7" height="11.35" fill="#1f66b4"/><rect x="523.44" y="473.72" width="0.7" height="0.48" fill="#2f78c4"/><rect x="523.58" y="468.39" width="0.7" height="5.81" fill="#3a80cc"/><rect x="523.91" y="468.95" width="0.7" height="5.25" fill="#7db0e2"/><rect x="524.08" y="469.04" width="0.7" height="5.16" fill="#3a80cc"/><rect x="524.12" y="470.43" width="0.7" height="3.77" fill="#2f78c4"/><rect x="524.50" y="472.28" width="0.7" height="1.92" fill="#4a8fd4"/><rect x="524.70" y="448.52" width="0.7" height="25.68" fill="#2f78c4"/><rect x="524.79" y="468.03" width="0.7" height="6.17" fill="#3a80cc"/><rect x="525.04" y="471.34" width="0.7" height="2.86" fill="#2f78c4"/><rect x="525.25" y="472.82" width="0.7" height="1.38" fill="#a9c9ec"/><rect x="525.31" y="466.42" width="0.7" height="7.78" fill="#a9c9ec"/><rect x="525.59" y="473.84" width="0.7" height="0.36" fill="#4a8fd4"/><rect x="525.70" y="470.08" width="0.7" height="4.12" fill="#3a80cc"/><rect x="526.09" y="467.47" width="0.7" height="6.73" fill="#4a8fd4"/><rect x="526.12" y="458.97" width="0.7" height="15.23" fill="#4a8fd4"/><rect x="526.22" y="448.03" width="0.7" height="26.17" fill="#3a80cc"/><rect x="526.50" y="468.39" width="0.7" height="5.81" fill="#4a8fd4"/><rect x="526.77" y="450.84" width="0.7" height="23.36" fill="#a9c9ec"/><rect x="526.94" y="463.94" width="0.7" height="10.26" fill="#1f66b4"/><rect x="527.20" y="446.19" width="0.7" height="28.01" fill="#a9c9ec"/><rect x="527.26" y="472.47" width="0.7" height="1.73" fill="#3a80cc"/><rect x="527.63" y="472.92" width="0.7" height="1.28" fill="#4a8fd4"/><rect x="527.81" y="457.07" width="0.7" height="17.13" fill="#1f66b4"/><rect x="528.03" y="448.08" width="0.7" height="26.12" fill="#7db0e2"/><rect x="528.20" y="455.41" width="0.7" height="18.79" fill="#7db0e2"/><rect x="528.27" y="473.83" width="0.7" height="0.37" fill="#7db0e2"/><rect x="528.48" y="460.01" width="0.7" height="14.19" fill="#a9c9ec"/><rect x="528.78" y="471.81" width="0.7" height="2.39" fill="#2f78c4"/><rect x="528.83" y="473.85" width="0.7" height="0.35" fill="#1f66b4"/><rect x="528.99" y="459.15" width="0.7" height="15.05" fill="#4a8fd4"/><rect x="529.22" y="458.41" width="0.7" height="15.79" fill="#1f66b4"/><rect x="529.53" y="462.86" width="0.7" height="11.34" fill="#a9c9ec"/><rect x="529.64" y="462.87" width="0.7" height="11.33" fill="#4a8fd4"/><rect x="529.79" y="466.26" width="0.7" height="7.94" fill="#3a80cc"/><rect x="530.02" y="472.46" width="0.7" height="1.74" fill="#1f66b4"/><rect x="530.30" y="466.23" width="0.7" height="7.97" fill="#7db0e2"/><rect x="530.44" y="444.16" width="0.7" height="30.04" fill="#1f66b4"/><rect x="530.49" y="455.74" width="0.7" height="18.46" fill="#1f66b4"/><rect x="530.78" y="465.94" width="0.7" height="8.26" fill="#4a8fd4"/><rect x="530.94" y="473.02" width="0.7" height="1.18" fill="#2f78c4"/><rect x="531.19" y="473.93" width="0.7" height="0.27" fill="#2f78c4"/><rect x="531.35" y="469.23" width="0.7" height="4.97" fill="#1f66b4"/><rect x="531.43" y="473.25" width="0.7" height="0.95" fill="#4a8fd4"/><rect x="531.60" y="466.69" width="0.7" height="7.51" fill="#a9c9ec"/><rect x="532.05" y="458.56" width="0.7" height="15.64" fill="#a9c9ec"/><rect x="532.05" y="467.98" width="0.7" height="6.22" fill="#4a8fd4"/><rect x="532.26" y="451.77" width="0.7" height="22.43" fill="#a9c9ec"/><rect x="532.51" y="473.08" width="0.7" height="1.12" fill="#a9c9ec"/><rect x="532.73" y="449.03" width="0.7" height="25.17" fill="#4a8fd4"/><rect x="532.95" y="437.48" width="0.7" height="36.72" fill="#2f78c4"/><rect x="532.99" y="471.70" width="0.7" height="2.50" fill="#3a80cc"/><rect x="533.21" y="461.72" width="0.7" height="12.48" fill="#4a8fd4"/><rect x="533.50" y="473.12" width="0.7" height="1.08" fill="#3a80cc"/><rect x="533.68" y="455.67" width="0.7" height="18.53" fill="#1f66b4"/><rect x="533.78" y="472.06" width="0.7" height="2.14" fill="#1f66b4"/><rect x="534.16" y="473.97" width="0.7" height="0.23" fill="#3a80cc"/><rect x="534.21" y="466.89" width="0.7" height="7.31" fill="#4a8fd4"/><rect x="534.44" y="454.85" width="0.7" height="19.35" fill="#1f66b4"/><rect x="534.66" y="466.88" width="0.7" height="7.32" fill="#1f66b4"/><rect x="534.85" y="455.34" width="0.7" height="18.86" fill="#4a8fd4"/><rect x="535.13" y="464.61" width="0.7" height="9.59" fill="#7db0e2"/><rect x="535.32" y="470.52" width="0.7" height="3.68" fill="#7db0e2"/><rect x="535.51" y="472.10" width="0.7" height="2.10" fill="#4a8fd4"/><rect x="535.70" y="472.80" width="0.7" height="1.40" fill="#4a8fd4"/><rect x="535.67" y="473.30" width="0.7" height="0.90" fill="#a9c9ec"/><rect x="535.85" y="456.88" width="0.7" height="17.32" fill="#a9c9ec"/><rect x="536.18" y="462.36" width="0.7" height="11.84" fill="#4a8fd4"/><rect x="536.33" y="462.98" width="0.7" height="11.22" fill="#2f78c4"/><rect x="536.43" y="466.01" width="0.7" height="8.19" fill="#7db0e2"/><rect x="536.86" y="440.69" width="0.7" height="33.51" fill="#2f78c4"/><rect x="536.99" y="464.43" width="0.7" height="9.77" fill="#7db0e2"/><rect x="537.13" y="462.97" width="0.7" height="11.23" fill="#4a8fd4"/><rect x="537.41" y="467.82" width="0.7" height="6.38" fill="#2f78c4"/><rect x="537.37" y="466.42" width="0.7" height="7.78" fill="#1f66b4"/><rect x="537.82" y="467.83" width="0.7" height="6.37" fill="#4a8fd4"/><rect x="537.80" y="471.99" width="0.7" height="2.21" fill="#4a8fd4"/><rect x="538.23" y="448.82" width="0.7" height="25.38" fill="#2f78c4"/><rect x="538.30" y="472.80" width="0.7" height="1.40" fill="#3a80cc"/><rect x="538.46" y="460.16" width="0.7" height="14.04" fill="#7db0e2"/><rect x="538.63" y="468.81" width="0.7" height="5.39" fill="#7db0e2"/><rect x="538.84" y="465.29" width="0.7" height="8.91" fill="#2f78c4"/><rect x="539.09" y="473.80" width="0.7" height="0.40" fill="#4a8fd4"/><rect x="539.15" y="468.33" width="0.7" height="5.87" fill="#3a80cc"/><rect x="539.40" y="449.46" width="0.7" height="24.74" fill="#1f66b4"/><rect x="539.53" y="467.23" width="0.7" height="6.97" fill="#2f78c4"/><rect x="539.77" y="473.34" width="0.7" height="0.86" fill="#3a80cc"/><rect x="540.13" y="450.97" width="0.7" height="23.23" fill="#a9c9ec"/><rect x="540.23" y="472.14" width="0.7" height="2.06" fill="#1f66b4"/><rect x="540.54" y="458.35" width="0.7" height="15.85" fill="#7db0e2"/><rect x="540.52" y="473.00" width="0.7" height="1.20" fill="#3a80cc"/><rect x="540.87" y="457.85" width="0.7" height="16.35" fill="#a9c9ec"/><rect x="540.86" y="470.32" width="0.7" height="3.88" fill="#1f66b4"/><rect x="541.23" y="460.05" width="0.7" height="14.15" fill="#4a8fd4"/><rect x="541.33" y="461.76" width="0.7" height="12.44" fill="#2f78c4"/><rect x="541.64" y="470.72" width="0.7" height="3.48" fill="#2f78c4"/><rect x="541.60" y="469.94" width="0.7" height="4.26" fill="#3a80cc"/><rect x="542.06" y="473.71" width="0.7" height="0.49" fill="#7db0e2"/><rect x="542.26" y="463.56" width="0.7" height="10.64" fill="#7db0e2"/><rect x="542.24" y="469.14" width="0.7" height="5.06" fill="#4a8fd4"/><rect x="542.52" y="469.41" width="0.7" height="4.79" fill="#a9c9ec"/><rect x="542.75" y="462.48" width="0.7" height="11.72" fill="#a9c9ec"/><rect x="543.04" y="473.98" width="0.7" height="0.22" fill="#1f66b4"/><rect x="542.97" y="471.57" width="0.7" height="2.63" fill="#a9c9ec"/><rect x="543.26" y="473.70" width="0.7" height="0.50" fill="#4a8fd4"/><rect x="543.52" y="474.09" width="0.7" height="0.11" fill="#7db0e2"/><rect x="543.60" y="451.29" width="0.7" height="22.91" fill="#1f66b4"/><rect x="543.87" y="468.99" width="0.7" height="5.21" fill="#1f66b4"/><rect x="544.08" y="463.02" width="0.7" height="11.18" fill="#3a80cc"/><rect x="544.12" y="465.37" width="0.7" height="8.83" fill="#2f78c4"/><rect x="544.41" y="447.12" width="0.7" height="27.08" fill="#a9c9ec"/><rect x="544.62" y="472.40" width="0.7" height="1.80" fill="#a9c9ec"/><rect x="544.84" y="465.39" width="0.7" height="8.81" fill="#a9c9ec"/><rect x="545.15" y="468.90" width="0.7" height="5.30" fill="#1f66b4"/><rect x="545.18" y="470.57" width="0.7" height="3.63" fill="#1f66b4"/><rect x="545.34" y="463.87" width="0.7" height="10.33" fill="#1f66b4"/><rect x="545.72" y="463.63" width="0.7" height="10.57" fill="#3a80cc"/><rect x="545.73" y="474.06" width="0.7" height="0.14" fill="#4a8fd4"/><rect x="546.01" y="464.47" width="0.7" height="9.73" fill="#a9c9ec"/><rect x="546.25" y="469.40" width="0.7" height="4.80" fill="#7db0e2"/><rect x="546.44" y="473.70" width="0.7" height="0.50" fill="#3a80cc"/><rect x="546.69" y="473.46" width="0.7" height="0.74" fill="#4a8fd4"/><rect x="546.73" y="467.90" width="0.7" height="6.30" fill="#4a8fd4"/><rect x="546.81" y="473.19" width="0.7" height="1.01" fill="#3a80cc"/><rect x="547.26" y="472.69" width="0.7" height="1.51" fill="#4a8fd4"/><rect x="547.36" y="473.01" width="0.7" height="1.19" fill="#1f66b4"/><rect x="547.50" y="472.98" width="0.7" height="1.22" fill="#2f78c4"/><rect x="547.67" y="472.57" width="0.7" height="1.63" fill="#7db0e2"/><rect x="547.89" y="463.50" width="0.7" height="10.70" fill="#a9c9ec"/><rect x="548.13" y="464.30" width="0.7" height="9.90" fill="#3a80cc"/><rect x="548.27" y="459.60" width="0.7" height="14.60" fill="#1f66b4"/><rect x="548.58" y="472.77" width="0.7" height="1.43" fill="#7db0e2"/><rect x="548.75" y="471.56" width="0.7" height="2.64" fill="#2f78c4"/><rect x="548.87" y="470.62" width="0.7" height="3.58" fill="#1f66b4"/><rect x="549.10" y="469.88" width="0.7" height="4.32" fill="#7db0e2"/><rect x="549.29" y="461.67" width="0.7" height="12.53" fill="#3a80cc"/><rect x="549.47" y="464.47" width="0.7" height="9.73" fill="#4a8fd4"/><rect x="549.54" y="471.42" width="0.7" height="2.78" fill="#3a80cc"/><rect x="549.95" y="453.73" width="0.7" height="20.47" fill="#2f78c4"/><rect x="550.06" y="474.11" width="0.7" height="0.09" fill="#7db0e2"/><rect x="550.19" y="464.73" width="0.7" height="9.47" fill="#2f78c4"/><rect x="550.32" y="471.04" width="0.7" height="3.16" fill="#2f78c4"/><rect x="550.72" y="472.50" width="0.7" height="1.70" fill="#4a8fd4"/><rect x="550.83" y="469.67" width="0.7" height="4.53" fill="#a9c9ec"/><rect x="550.94" y="470.19" width="0.7" height="4.01" fill="#a9c9ec"/><rect x="551.25" y="456.51" width="0.7" height="17.69" fill="#2f78c4"/><rect x="551.46" y="468.45" width="0.7" height="5.75" fill="#1f66b4"/><rect x="551.66" y="459.98" width="0.7" height="14.22" fill="#a9c9ec"/><rect x="551.73" y="471.30" width="0.7" height="2.90" fill="#4a8fd4"/><rect x="551.91" y="463.91" width="0.7" height="10.29" fill="#1f66b4"/><rect x="552.09" y="466.48" width="0.7" height="7.72" fill="#3a80cc"/><rect x="552.43" y="472.23" width="0.7" height="1.97" fill="#3a80cc"/><rect x="552.49" y="473.21" width="0.7" height="0.99" fill="#7db0e2"/><rect x="552.59" y="473.36" width="0.7" height="0.84" fill="#1f66b4"/><rect x="552.93" y="457.81" width="0.7" height="16.39" fill="#a9c9ec"/><rect x="553.04" y="459.70" width="0.7" height="14.50" fill="#2f78c4"/><rect x="553.24" y="450.76" width="0.7" height="23.44" fill="#1f66b4"/><rect x="553.36" y="470.69" width="0.7" height="3.51" fill="#3a80cc"/><rect x="553.76" y="470.34" width="0.7" height="3.86" fill="#4a8fd4"/><rect x="553.79" y="463.81" width="0.7" height="10.39" fill="#7db0e2"/><rect x="554.02" y="472.99" width="0.7" height="1.21" fill="#3a80cc"/><rect x="554.24" y="465.44" width="0.7" height="8.76" fill="#3a80cc"/><rect x="554.57" y="468.61" width="0.7" height="5.59" fill="#7db0e2"/><rect x="554.63" y="471.77" width="0.7" height="2.43" fill="#3a80cc"/><rect x="554.95" y="471.43" width="0.7" height="2.77" fill="#7db0e2"/><rect x="555.13" y="473.96" width="0.7" height="0.24" fill="#3a80cc"/><rect x="555.19" y="469.44" width="0.7" height="4.76" fill="#4a8fd4"/><rect x="555.48" y="469.74" width="0.7" height="4.46" fill="#a9c9ec"/><rect x="555.62" y="456.64" width="0.7" height="17.56" fill="#1f66b4"/><rect x="555.70" y="473.29" width="0.7" height="0.91" fill="#a9c9ec"/><rect x="556.10" y="470.99" width="0.7" height="3.21" fill="#2f78c4"/><rect x="556.10" y="473.62" width="0.7" height="0.58" fill="#4a8fd4"/><rect x="556.40" y="441.27" width="0.7" height="32.93" fill="#3a80cc"/><rect x="556.67" y="468.87" width="0.7" height="5.33" fill="#1f66b4"/><rect x="556.77" y="459.15" width="0.7" height="15.05" fill="#2f78c4"/><rect x="556.90" y="471.10" width="0.7" height="3.10" fill="#2f78c4"/><rect x="557.26" y="473.34" width="0.7" height="0.86" fill="#3a80cc"/><rect x="557.38" y="473.21" width="0.7" height="0.99" fill="#3a80cc"/><rect x="557.51" y="462.11" width="0.7" height="12.09" fill="#a9c9ec"/><rect x="557.80" y="467.05" width="0.7" height="7.15" fill="#a9c9ec"/><rect x="557.88" y="470.20" width="0.7" height="4.00" fill="#7db0e2"/><rect x="558.16" y="467.60" width="0.7" height="6.60" fill="#1f66b4"/><rect x="558.39" y="473.47" width="0.7" height="0.73" fill="#1f66b4"/><rect x="558.62" y="469.07" width="0.7" height="5.13" fill="#3a80cc"/><rect x="558.64" y="474.16" width="0.7" height="0.04" fill="#a9c9ec"/><rect x="558.98" y="452.90" width="0.7" height="21.30" fill="#1f66b4"/><rect x="559.11" y="467.00" width="0.7" height="7.20" fill="#3a80cc"/><rect x="559.12" y="473.07" width="0.7" height="1.13" fill="#a9c9ec"/><rect x="559.58" y="471.46" width="0.7" height="2.74" fill="#4a8fd4"/><rect x="559.79" y="469.63" width="0.7" height="4.57" fill="#4a8fd4"/><rect x="559.79" y="469.41" width="0.7" height="4.79" fill="#1f66b4"/><rect x="559.97" y="440.25" width="0.7" height="33.95" fill="#2f78c4"/><rect x="560.22" y="461.47" width="0.7" height="12.73" fill="#7db0e2"/><rect x="560.46" y="459.69" width="0.7" height="14.51" fill="#4a8fd4"/><rect x="560.73" y="460.63" width="0.7" height="13.57" fill="#2f78c4"/><rect x="560.83" y="450.91" width="0.7" height="23.29" fill="#2f78c4"/><rect x="560.94" y="472.06" width="0.7" height="2.14" fill="#7db0e2"/><rect x="561.10" y="471.60" width="0.7" height="2.60" fill="#3a80cc"/><rect x="561.37" y="467.31" width="0.7" height="6.89" fill="#a9c9ec"/><rect x="561.48" y="471.00" width="0.7" height="3.20" fill="#4a8fd4"/><rect x="561.89" y="447.32" width="0.7" height="26.88" fill="#3a80cc"/><rect x="561.97" y="457.71" width="0.7" height="16.49" fill="#a9c9ec"/><rect x="562.26" y="467.77" width="0.7" height="6.43" fill="#a9c9ec"/><rect x="562.47" y="470.14" width="0.7" height="4.06" fill="#1f66b4"/><rect x="562.62" y="473.26" width="0.7" height="0.94" fill="#4a8fd4"/><rect x="562.70" y="471.82" width="0.7" height="2.38" fill="#4a8fd4"/><rect x="563.01" y="469.48" width="0.7" height="4.72" fill="#1f66b4"/><rect x="563.20" y="459.76" width="0.7" height="14.44" fill="#2f78c4"/><rect x="563.35" y="471.57" width="0.7" height="2.63" fill="#2f78c4"/><rect x="563.61" y="451.34" width="0.7" height="22.86" fill="#a9c9ec"/><rect x="563.78" y="462.08" width="0.7" height="12.12" fill="#1f66b4"/><rect x="563.99" y="468.98" width="0.7" height="5.22" fill="#7db0e2"/><rect x="563.97" y="451.04" width="0.7" height="23.16" fill="#1f66b4"/><rect x="564.16" y="461.07" width="0.7" height="13.13" fill="#1f66b4"/><rect x="564.39" y="466.78" width="0.7" height="7.42" fill="#4a8fd4"/><rect x="564.67" y="472.29" width="0.7" height="1.91" fill="#4a8fd4"/><rect x="564.94" y="456.04" width="0.7" height="18.16" fill="#4a8fd4"/><rect x="564.91" y="471.15" width="0.7" height="3.05" fill="#3a80cc"/><rect x="565.24" y="452.81" width="0.7" height="21.39" fill="#3a80cc"/><rect x="565.41" y="444.00" width="0.7" height="30.20" fill="#1f66b4"/><rect x="565.63" y="467.36" width="0.7" height="6.84" fill="#2f78c4"/><rect x="565.89" y="468.97" width="0.7" height="5.23" fill="#3a80cc"/><rect x="565.88" y="457.21" width="0.7" height="16.99" fill="#4a8fd4"/><rect x="566.05" y="469.03" width="0.7" height="5.17" fill="#a9c9ec"/><rect x="566.28" y="456.89" width="0.7" height="17.31" fill="#7db0e2"/><rect x="566.52" y="469.15" width="0.7" height="5.05" fill="#1f66b4"/><rect x="566.71" y="468.09" width="0.7" height="6.11" fill="#3a80cc"/><rect x="566.83" y="473.45" width="0.7" height="0.75" fill="#4a8fd4"/><rect x="567.04" y="469.34" width="0.7" height="4.86" fill="#a9c9ec"/><rect x="567.42" y="459.31" width="0.7" height="14.89" fill="#2f78c4"/><rect x="567.59" y="474.08" width="0.7" height="0.12" fill="#a9c9ec"/><rect x="567.80" y="467.94" width="0.7" height="6.26" fill="#7db0e2"/><rect x="567.94" y="468.26" width="0.7" height="5.94" fill="#2f78c4"/><rect x="568.22" y="456.14" width="0.7" height="18.06" fill="#3a80cc"/><rect x="568.22" y="464.91" width="0.7" height="9.29" fill="#7db0e2"/><rect x="568.54" y="447.31" width="0.7" height="26.89" fill="#3a80cc"/><rect x="568.63" y="470.21" width="0.7" height="3.99" fill="#a9c9ec"/><rect x="568.90" y="473.32" width="0.7" height="0.88" fill="#4a8fd4"/><rect x="568.99" y="461.44" width="0.7" height="12.76" fill="#7db0e2"/><rect x="569.22" y="471.10" width="0.7" height="3.10" fill="#a9c9ec"/><rect x="569.53" y="470.29" width="0.7" height="3.91" fill="#a9c9ec"/><rect x="569.54" y="472.73" width="0.7" height="1.47" fill="#2f78c4"/><rect x="569.74" y="464.54" width="0.7" height="9.66" fill="#4a8fd4"/><rect x="569.95" y="469.21" width="0.7" height="4.99" fill="#a9c9ec"/><rect x="570.26" y="473.28" width="0.7" height="0.92" fill="#4a8fd4"/><rect x="570.29" y="466.60" width="0.7" height="7.60" fill="#2f78c4"/><rect x="570.57" y="457.38" width="0.7" height="16.82" fill="#1f66b4"/><rect x="570.70" y="471.97" width="0.7" height="2.23" fill="#4a8fd4"/><rect x="571.10" y="469.47" width="0.7" height="4.73" fill="#7db0e2"/><rect x="571.32" y="464.73" width="0.7" height="9.47" fill="#3a80cc"/><rect x="571.36" y="462.52" width="0.7" height="11.68" fill="#4a8fd4"/><rect x="571.63" y="465.10" width="0.7" height="9.10" fill="#2f78c4"/><rect x="571.70" y="472.17" width="0.7" height="2.03" fill="#7db0e2"/><rect x="572.01" y="473.11" width="0.7" height="1.09" fill="#a9c9ec"/><rect x="572.07" y="470.27" width="0.7" height="3.93" fill="#7db0e2"/><rect x="572.45" y="465.03" width="0.7" height="9.17" fill="#4a8fd4"/><rect x="572.47" y="466.69" width="0.7" height="7.51" fill="#7db0e2"/><rect x="572.75" y="469.98" width="0.7" height="4.22" fill="#1f66b4"/><rect x="572.93" y="465.92" width="0.7" height="8.28" fill="#4a8fd4"/><rect x="573.27" y="467.16" width="0.7" height="7.04" fill="#3a80cc"/><rect x="573.38" y="447.54" width="0.7" height="26.66" fill="#1f66b4"/><rect x="573.64" y="464.63" width="0.7" height="9.57" fill="#4a8fd4"/><rect x="573.78" y="472.78" width="0.7" height="1.42" fill="#a9c9ec"/><rect x="573.92" y="462.61" width="0.7" height="11.59" fill="#7db0e2"/><rect x="573.96" y="454.21" width="0.7" height="19.99" fill="#7db0e2"/><rect x="574.27" y="472.92" width="0.7" height="1.28" fill="#3a80cc"/><rect x="574.36" y="451.46" width="0.7" height="22.74" fill="#1f66b4"/><rect x="574.68" y="473.56" width="0.7" height="0.64" fill="#7db0e2"/><rect x="574.76" y="460.91" width="0.7" height="13.29" fill="#7db0e2"/><rect x="575.08" y="472.93" width="0.7" height="1.27" fill="#2f78c4"/><rect x="575.18" y="452.14" width="0.7" height="22.06" fill="#4a8fd4"/><rect x="575.51" y="469.82" width="0.7" height="4.38" fill="#4a8fd4"/><rect x="575.53" y="469.89" width="0.7" height="4.31" fill="#2f78c4"/><rect x="575.80" y="471.39" width="0.7" height="2.81" fill="#3a80cc"/><rect x="575.90" y="466.53" width="0.7" height="7.67" fill="#3a80cc"/><rect x="576.32" y="469.01" width="0.7" height="5.19" fill="#3a80cc"/><rect x="576.49" y="474.11" width="0.7" height="0.09" fill="#4a8fd4"/><rect x="576.56" y="474.02" width="0.7" height="0.18" fill="#1f66b4"/><rect x="576.75" y="469.62" width="0.7" height="4.58" fill="#4a8fd4"/><rect x="576.92" y="473.43" width="0.7" height="0.77" fill="#4a8fd4"/><rect x="577.19" y="472.01" width="0.7" height="2.19" fill="#3a80cc"/><rect x="577.44" y="467.25" width="0.7" height="6.95" fill="#4a8fd4"/><rect x="577.52" y="470.46" width="0.7" height="3.74" fill="#2f78c4"/><rect x="577.73" y="471.32" width="0.7" height="2.88" fill="#1f66b4"/><rect x="578.06" y="469.68" width="0.7" height="4.52" fill="#a9c9ec"/><rect x="578.20" y="470.59" width="0.7" height="3.61" fill="#a9c9ec"/><rect x="578.42" y="463.71" width="0.7" height="10.49" fill="#a9c9ec"/><rect x="578.61" y="473.52" width="0.7" height="0.68" fill="#2f78c4"/><rect x="578.83" y="470.14" width="0.7" height="4.06" fill="#1f66b4"/><rect x="578.90" y="471.24" width="0.7" height="2.96" fill="#2f78c4"/><rect x="579.04" y="473.89" width="0.7" height="0.31" fill="#3a80cc"/><rect x="579.32" y="471.11" width="0.7" height="3.09" fill="#a9c9ec"/><rect x="579.50" y="466.63" width="0.7" height="7.57" fill="#7db0e2"/><rect x="579.78" y="462.81" width="0.7" height="11.39" fill="#4a8fd4"/><rect x="579.75" y="470.98" width="0.7" height="3.22" fill="#1f66b4"/><rect x="580.16" y="454.66" width="0.7" height="19.54" fill="#a9c9ec"/><rect x="580.30" y="470.14" width="0.7" height="4.06" fill="#4a8fd4"/><rect x="580.45" y="468.39" width="0.7" height="5.81" fill="#4a8fd4"/><rect x="580.74" y="461.39" width="0.7" height="12.81" fill="#3a80cc"/><rect x="580.78" y="469.91" width="0.7" height="4.29" fill="#1f66b4"/><rect x="581.11" y="472.84" width="0.7" height="1.36" fill="#3a80cc"/><rect x="581.18" y="473.49" width="0.7" height="0.71" fill="#2f78c4"/><rect x="581.28" y="465.66" width="0.7" height="8.54" fill="#2f78c4"/><rect x="581.71" y="469.54" width="0.7" height="4.66" fill="#a9c9ec"/><rect x="581.64" y="472.68" width="0.7" height="1.52" fill="#7db0e2"/><rect x="581.83" y="473.17" width="0.7" height="1.03" fill="#a9c9ec"/><rect x="582.29" y="465.02" width="0.7" height="9.18" fill="#a9c9ec"/><rect x="582.25" y="467.80" width="0.7" height="6.40" fill="#4a8fd4"/><rect x="582.42" y="474.03" width="0.7" height="0.17" fill="#7db0e2"/><rect x="582.69" y="470.45" width="0.7" height="3.75" fill="#a9c9ec"/><rect x="583.05" y="472.97" width="0.7" height="1.23" fill="#3a80cc"/><rect x="583.25" y="473.02" width="0.7" height="1.18" fill="#7db0e2"/><rect x="583.44" y="474.11" width="0.7" height="0.09" fill="#3a80cc"/><rect x="583.63" y="444.95" width="0.7" height="29.25" fill="#4a8fd4"/><rect x="583.72" y="472.74" width="0.7" height="1.46" fill="#2f78c4"/><rect x="583.95" y="472.21" width="0.7" height="1.99" fill="#7db0e2"/><rect x="584.23" y="472.46" width="0.7" height="1.74" fill="#a9c9ec"/><rect x="584.35" y="473.41" width="0.7" height="0.79" fill="#3a80cc"/><rect x="584.62" y="466.00" width="0.7" height="8.20" fill="#a9c9ec"/><rect x="584.55" y="472.83" width="0.7" height="1.37" fill="#7db0e2"/><rect x="584.75" y="467.82" width="0.7" height="6.38" fill="#7db0e2"/><rect x="584.96" y="472.74" width="0.7" height="1.46" fill="#3a80cc"/><rect x="585.19" y="472.47" width="0.7" height="1.73" fill="#3a80cc"/><rect x="585.45" y="473.53" width="0.7" height="0.67" fill="#1f66b4"/><rect x="585.55" y="472.25" width="0.7" height="1.95" fill="#4a8fd4"/><rect x="585.88" y="472.44" width="0.7" height="1.76" fill="#3a80cc"/><rect x="586.07" y="470.82" width="0.7" height="3.38" fill="#2f78c4"/><rect x="586.19" y="470.12" width="0.7" height="4.08" fill="#1f66b4"/><rect x="586.53" y="474.16" width="0.7" height="0.04" fill="#1f66b4"/><rect x="586.53" y="472.63" width="0.7" height="1.57" fill="#1f66b4"/><rect x="586.67" y="472.38" width="0.7" height="1.82" fill="#4a8fd4"/><rect x="586.91" y="472.42" width="0.7" height="1.78" fill="#1f66b4"/><rect x="587.03" y="465.71" width="0.7" height="8.49" fill="#4a8fd4"/><rect x="587.51" y="474.01" width="0.7" height="0.19" fill="#a9c9ec"/><rect x="587.68" y="469.42" width="0.7" height="4.78" fill="#2f78c4"/><rect x="587.88" y="470.43" width="0.7" height="3.77" fill="#4a8fd4"/><rect x="587.81" y="466.05" width="0.7" height="8.15" fill="#7db0e2"/><rect x="588.08" y="470.61" width="0.7" height="3.59" fill="#2f78c4"/><rect x="588.34" y="470.37" width="0.7" height="3.83" fill="#3a80cc"/><rect x="588.58" y="470.21" width="0.7" height="3.99" fill="#1f66b4"/><rect x="588.62" y="465.98" width="0.7" height="8.22" fill="#4a8fd4"/><rect x="588.79" y="471.09" width="0.7" height="3.11" fill="#3a80cc"/><rect x="589.08" y="466.14" width="0.7" height="8.06" fill="#3a80cc"/><rect x="589.38" y="472.74" width="0.7" height="1.46" fill="#a9c9ec"/><rect x="589.50" y="463.80" width="0.7" height="10.40" fill="#1f66b4"/><rect x="589.68" y="474.00" width="0.7" height="0.20" fill="#1f66b4"/><rect x="590.01" y="473.91" width="0.7" height="0.29" fill="#a9c9ec"/><rect x="590.17" y="473.12" width="0.7" height="1.08" fill="#4a8fd4"/><rect x="590.29" y="469.10" width="0.7" height="5.10" fill="#a9c9ec"/><rect x="590.45" y="467.22" width="0.7" height="6.98" fill="#2f78c4"/><rect x="590.51" y="461.28" width="0.7" height="12.92" fill="#1f66b4"/><rect x="590.87" y="469.49" width="0.7" height="4.71" fill="#3a80cc"/><rect x="590.95" y="473.34" width="0.7" height="0.86" fill="#7db0e2"/><rect x="591.20" y="467.74" width="0.7" height="6.46" fill="#1f66b4"/><rect x="591.48" y="465.96" width="0.7" height="8.24" fill="#1f66b4"/><rect x="591.60" y="468.49" width="0.7" height="5.71" fill="#1f66b4"/><rect x="591.70" y="472.60" width="0.7" height="1.60" fill="#4a8fd4"/><rect x="591.99" y="468.35" width="0.7" height="5.85" fill="#1f66b4"/><rect x="592.27" y="473.86" width="0.7" height="0.34" fill="#a9c9ec"/><rect x="592.36" y="467.68" width="0.7" height="6.52" fill="#3a80cc"/><rect x="592.71" y="473.97" width="0.7" height="0.23" fill="#a9c9ec"/><rect x="592.83" y="469.21" width="0.7" height="4.99" fill="#4a8fd4"/><rect x="592.84" y="470.90" width="0.7" height="3.30" fill="#3a80cc"/><rect x="593.29" y="474.18" width="0.7" height="0.02" fill="#a9c9ec"/><rect x="593.45" y="473.37" width="0.7" height="0.83" fill="#a9c9ec"/><rect x="593.54" y="470.73" width="0.7" height="3.47" fill="#2f78c4"/><rect x="593.86" y="468.01" width="0.7" height="6.19" fill="#3a80cc"/><rect x="593.99" y="467.00" width="0.7" height="7.20" fill="#4a8fd4"/><rect x="594.04" y="473.51" width="0.7" height="0.69" fill="#4a8fd4"/><rect x="594.27" y="473.71" width="0.7" height="0.49" fill="#4a8fd4"/><rect x="594.45" y="471.97" width="0.7" height="2.23" fill="#1f66b4"/><rect x="594.60" y="473.25" width="0.7" height="0.95" fill="#1f66b4"/><rect x="594.92" y="473.87" width="0.7" height="0.33" fill="#7db0e2"/><rect x="595.09" y="460.99" width="0.7" height="13.21" fill="#1f66b4"/><rect x="595.39" y="473.14" width="0.7" height="1.06" fill="#a9c9ec"/><rect x="595.58" y="472.90" width="0.7" height="1.30" fill="#a9c9ec"/><rect x="595.73" y="472.88" width="0.7" height="1.32" fill="#7db0e2"/><rect x="595.76" y="465.63" width="0.7" height="8.57" fill="#4a8fd4"/><rect x="596.02" y="471.42" width="0.7" height="2.78" fill="#1f66b4"/><rect x="596.21" y="472.20" width="0.7" height="2.00" fill="#a9c9ec"/><rect x="596.41" y="468.85" width="0.7" height="5.35" fill="#4a8fd4"/><rect x="596.72" y="472.96" width="0.7" height="1.24" fill="#a9c9ec"/><rect x="596.78" y="473.94" width="0.7" height="0.26" fill="#7db0e2"/><rect x="596.95" y="472.46" width="0.7" height="1.74" fill="#2f78c4"/><rect x="597.19" y="466.85" width="0.7" height="7.35" fill="#1f66b4"/><rect x="597.35" y="460.23" width="0.7" height="13.97" fill="#3a80cc"/><rect x="597.49" y="473.61" width="0.7" height="0.59" fill="#2f78c4"/><rect x="597.66" y="459.21" width="0.7" height="14.99" fill="#7db0e2"/><rect x="597.85" y="472.70" width="0.7" height="1.50" fill="#2f78c4"/><rect x="598.00" y="472.09" width="0.7" height="2.11" fill="#a9c9ec"/><rect x="598.32" y="463.72" width="0.7" height="10.48" fill="#a9c9ec"/><rect x="598.48" y="466.20" width="0.7" height="8.00" fill="#1f66b4"/><rect x="598.78" y="472.24" width="0.7" height="1.96" fill="#1f66b4"/><rect x="598.84" y="473.97" width="0.7" height="0.23" fill="#4a8fd4"/><rect x="599.11" y="473.46" width="0.7" height="0.74" fill="#4a8fd4"/><rect x="599.25" y="471.20" width="0.7" height="3.00" fill="#1f66b4"/><rect x="599.55" y="470.25" width="0.7" height="3.95" fill="#1f66b4"/><rect x="599.62" y="467.18" width="0.7" height="7.02" fill="#3a80cc"/><rect x="599.84" y="462.67" width="0.7" height="11.53" fill="#7db0e2"/><rect x="600.08" y="470.96" width="0.7" height="3.24" fill="#4a8fd4"/><rect x="600.23" y="463.28" width="0.7" height="10.92" fill="#4a8fd4"/><rect x="600.34" y="471.69" width="0.7" height="2.51" fill="#1f66b4"/><rect x="600.56" y="473.97" width="0.7" height="0.23" fill="#2f78c4"/><rect x="600.92" y="470.62" width="0.7" height="3.58" fill="#2f78c4"/><rect x="601.13" y="454.02" width="0.7" height="20.18" fill="#7db0e2"/><rect x="601.28" y="473.82" width="0.7" height="0.38" fill="#4a8fd4"/><rect x="601.44" y="471.83" width="0.7" height="2.37" fill="#2f78c4"/><rect x="601.75" y="463.18" width="0.7" height="11.02" fill="#4a8fd4"/><rect x="601.89" y="472.57" width="0.7" height="1.63" fill="#a9c9ec"/><rect x="601.88" y="470.51" width="0.7" height="3.69" fill="#a9c9ec"/><rect x="602.16" y="472.04" width="0.7" height="2.16" fill="#a9c9ec"/><rect x="602.44" y="472.84" width="0.7" height="1.36" fill="#a9c9ec"/><rect x="602.49" y="462.85" width="0.7" height="11.35" fill="#7db0e2"/><rect x="602.82" y="472.07" width="0.7" height="2.13" fill="#2f78c4"/><rect x="603.03" y="455.72" width="0.7" height="18.48" fill="#4a8fd4"/><rect x="603.15" y="471.89" width="0.7" height="2.31" fill="#1f66b4"/><rect x="603.29" y="455.10" width="0.7" height="19.10" fill="#a9c9ec"/><rect x="603.42" y="455.54" width="0.7" height="18.66" fill="#a9c9ec"/><rect x="603.66" y="470.52" width="0.7" height="3.68" fill="#1f66b4"/><rect x="603.86" y="464.34" width="0.7" height="9.86" fill="#7db0e2"/><rect x="603.99" y="473.92" width="0.7" height="0.28" fill="#7db0e2"/><rect x="604.43" y="467.73" width="0.7" height="6.47" fill="#7db0e2"/><rect x="604.59" y="457.27" width="0.7" height="16.93" fill="#3a80cc"/><rect x="604.68" y="466.79" width="0.7" height="7.41" fill="#7db0e2"/><rect x="604.74" y="464.66" width="0.7" height="9.54" fill="#4a8fd4"/><rect x="605.16" y="466.54" width="0.7" height="7.66" fill="#1f66b4"/><rect x="605.28" y="466.83" width="0.7" height="7.37" fill="#2f78c4"/><rect x="605.40" y="460.46" width="0.7" height="13.74" fill="#a9c9ec"/><rect x="605.62" y="455.54" width="0.7" height="18.66" fill="#2f78c4"/><rect x="605.94" y="465.27" width="0.7" height="8.93" fill="#7db0e2"/><rect x="605.98" y="470.73" width="0.7" height="3.47" fill="#2f78c4"/><rect x="606.13" y="472.54" width="0.7" height="1.66" fill="#4a8fd4"/><rect x="606.35" y="472.27" width="0.7" height="1.93" fill="#1f66b4"/><rect x="606.47" y="468.11" width="0.7" height="6.09" fill="#a9c9ec"/><rect x="606.66" y="468.05" width="0.7" height="6.15" fill="#3a80cc"/><rect x="607.08" y="473.56" width="0.7" height="0.64" fill="#1f66b4"/><rect x="607.31" y="465.08" width="0.7" height="9.12" fill="#7db0e2"/><rect x="607.32" y="473.35" width="0.7" height="0.85" fill="#2f78c4"/><rect x="607.52" y="464.43" width="0.7" height="9.77" fill="#3a80cc"/><rect x="607.74" y="472.88" width="0.7" height="1.32" fill="#4a8fd4"/><rect x="608.06" y="472.85" width="0.7" height="1.35" fill="#1f66b4"/><rect x="608.21" y="461.51" width="0.7" height="12.69" fill="#7db0e2"/><rect x="608.31" y="471.59" width="0.7" height="2.61" fill="#3a80cc"/><rect x="608.59" y="468.84" width="0.7" height="5.36" fill="#3a80cc"/><rect x="608.66" y="471.15" width="0.7" height="3.05" fill="#4a8fd4"/><rect x="609.05" y="463.82" width="0.7" height="10.38" fill="#2f78c4"/><rect x="609.27" y="460.98" width="0.7" height="13.22" fill="#3a80cc"/><rect x="609.26" y="459.53" width="0.7" height="14.67" fill="#1f66b4"/><rect x="609.59" y="469.11" width="0.7" height="5.09" fill="#4a8fd4"/><rect x="609.73" y="470.07" width="0.7" height="4.13" fill="#a9c9ec"/><rect x="609.76" y="471.93" width="0.7" height="2.27" fill="#1f66b4"/><rect x="610.15" y="465.01" width="0.7" height="9.19" fill="#7db0e2"/><rect x="610.34" y="471.95" width="0.7" height="2.25" fill="#3a80cc"/><rect x="610.52" y="472.63" width="0.7" height="1.57" fill="#4a8fd4"/><rect x="610.76" y="460.51" width="0.7" height="13.69" fill="#1f66b4"/><rect x="611.00" y="466.24" width="0.7" height="7.96" fill="#4a8fd4"/><rect x="611.08" y="460.40" width="0.7" height="13.80" fill="#4a8fd4"/><rect x="611.13" y="470.53" width="0.7" height="3.67" fill="#3a80cc"/><rect x="611.37" y="466.01" width="0.7" height="8.19" fill="#2f78c4"/><rect x="611.61" y="465.01" width="0.7" height="9.19" fill="#4a8fd4"/><rect x="611.75" y="471.75" width="0.7" height="2.45" fill="#7db0e2"/><rect x="612.05" y="470.28" width="0.7" height="3.92" fill="#3a80cc"/><rect x="612.35" y="473.81" width="0.7" height="0.39" fill="#3a80cc"/><rect x="612.54" y="458.31" width="0.7" height="15.89" fill="#4a8fd4"/><rect x="612.52" y="464.00" width="0.7" height="10.20" fill="#2f78c4"/><rect x="612.75" y="455.95" width="0.7" height="18.25" fill="#1f66b4"/><rect x="613.08" y="472.74" width="0.7" height="1.46" fill="#2f78c4"/><rect x="613.11" y="461.69" width="0.7" height="12.51" fill="#3a80cc"/><rect x="613.29" y="470.34" width="0.7" height="3.86" fill="#1f66b4"/><rect x="613.52" y="473.01" width="0.7" height="1.19" fill="#1f66b4"/><rect x="613.71" y="465.01" width="0.7" height="9.19" fill="#1f66b4"/><rect x="613.87" y="458.56" width="0.7" height="15.64" fill="#a9c9ec"/><rect x="614.03" y="473.32" width="0.7" height="0.88" fill="#7db0e2"/><rect x="614.43" y="469.80" width="0.7" height="4.40" fill="#4a8fd4"/><rect x="614.46" y="474.05" width="0.7" height="0.15" fill="#1f66b4"/><rect x="614.72" y="471.72" width="0.7" height="2.48" fill="#a9c9ec"/><rect x="614.83" y="472.20" width="0.7" height="2.00" fill="#a9c9ec"/><rect x="615.00" y="467.98" width="0.7" height="6.22" fill="#1f66b4"/><rect x="615.15" y="473.68" width="0.7" height="0.52" fill="#7db0e2"/><rect x="615.52" y="474.17" width="0.7" height="0.03" fill="#7db0e2"/><rect x="615.66" y="470.66" width="0.7" height="3.54" fill="#a9c9ec"/><rect x="615.85" y="470.04" width="0.7" height="4.16" fill="#1f66b4"/><rect x="616.02" y="473.74" width="0.7" height="0.46" fill="#1f66b4"/><rect x="616.28" y="460.58" width="0.7" height="13.62" fill="#7db0e2"/><rect x="616.37" y="452.50" width="0.7" height="21.70" fill="#4a8fd4"/><rect x="616.78" y="469.65" width="0.7" height="4.55" fill="#3a80cc"/><rect x="616.68" y="459.09" width="0.7" height="15.11" fill="#4a8fd4"/><rect x="617.02" y="465.48" width="0.7" height="8.72" fill="#7db0e2"/><rect x="617.16" y="463.33" width="0.7" height="10.87" fill="#7db0e2"/><rect x="617.27" y="469.33" width="0.7" height="4.87" fill="#4a8fd4"/><rect x="617.46" y="470.68" width="0.7" height="3.52" fill="#1f66b4"/><rect x="617.71" y="472.02" width="0.7" height="2.18" fill="#3a80cc"/><rect x="617.97" y="471.34" width="0.7" height="2.86" fill="#1f66b4"/><rect x="618.27" y="462.87" width="0.7" height="11.33" fill="#2f78c4"/><rect x="618.49" y="469.09" width="0.7" height="5.11" fill="#3a80cc"/><rect x="618.53" y="456.40" width="0.7" height="17.80" fill="#1f66b4"/><rect x="618.60" y="467.52" width="0.7" height="6.68" fill="#4a8fd4"/><rect x="618.88" y="464.20" width="0.7" height="10.00" fill="#1f66b4"/><rect x="619.18" y="461.28" width="0.7" height="12.92" fill="#7db0e2"/><rect x="619.36" y="469.56" width="0.7" height="4.64" fill="#7db0e2"/><rect x="619.45" y="455.92" width="0.7" height="18.28" fill="#7db0e2"/><rect x="619.74" y="471.81" width="0.7" height="2.39" fill="#4a8fd4"/><rect x="619.97" y="472.36" width="0.7" height="1.84" fill="#3a80cc"/><rect x="619.98" y="471.38" width="0.7" height="2.82" fill="#4a8fd4"/><rect x="620.19" y="473.33" width="0.7" height="0.87" fill="#4a8fd4"/><rect x="620.44" y="472.64" width="0.7" height="1.56" fill="#2f78c4"/><rect x="620.52" y="468.78" width="0.7" height="5.42" fill="#a9c9ec"/><rect x="620.74" y="450.85" width="0.7" height="23.35" fill="#4a8fd4"/><rect x="620.91" y="472.71" width="0.7" height="1.49" fill="#2f78c4"/><rect x="621.32" y="473.31" width="0.7" height="0.89" fill="#7db0e2"/><rect x="621.42" y="448.68" width="0.7" height="25.52" fill="#4a8fd4"/><rect x="621.63" y="462.43" width="0.7" height="11.77" fill="#4a8fd4"/><rect x="621.92" y="473.64" width="0.7" height="0.56" fill="#a9c9ec"/><rect x="622.15" y="471.18" width="0.7" height="3.02" fill="#4a8fd4"/><rect x="622.29" y="468.42" width="0.7" height="5.78" fill="#2f78c4"/><rect x="622.30" y="466.38" width="0.7" height="7.82" fill="#a9c9ec"/><rect x="622.72" y="473.76" width="0.7" height="0.44" fill="#1f66b4"/><rect x="622.82" y="457.23" width="0.7" height="16.97" fill="#3a80cc"/><rect x="623.02" y="468.74" width="0.7" height="5.46" fill="#1f66b4"/><rect x="623.30" y="473.20" width="0.7" height="1.00" fill="#3a80cc"/><rect x="623.42" y="469.51" width="0.7" height="4.69" fill="#3a80cc"/><rect x="623.55" y="460.14" width="0.7" height="14.06" fill="#1f66b4"/><rect x="623.67" y="467.07" width="0.7" height="7.13" fill="#1f66b4"/><rect x="623.81" y="454.60" width="0.7" height="19.60" fill="#1f66b4"/><rect x="624.17" y="469.60" width="0.7" height="4.60" fill="#1f66b4"/><rect x="624.19" y="473.76" width="0.7" height="0.44" fill="#7db0e2"/><rect x="624.42" y="469.29" width="0.7" height="4.91" fill="#7db0e2"/><rect x="624.78" y="471.29" width="0.7" height="2.91" fill="#3a80cc"/><rect x="624.90" y="467.97" width="0.7" height="6.23" fill="#2f78c4"/><rect x="625.21" y="473.15" width="0.7" height="1.05" fill="#a9c9ec"/><rect x="625.17" y="472.59" width="0.7" height="1.61" fill="#3a80cc"/><rect x="625.57" y="473.01" width="0.7" height="1.19" fill="#2f78c4"/><rect x="625.76" y="468.64" width="0.7" height="5.56" fill="#7db0e2"/><rect x="625.74" y="458.36" width="0.7" height="15.84" fill="#3a80cc"/><rect x="626.01" y="468.54" width="0.7" height="5.66" fill="#7db0e2"/><rect x="626.24" y="468.23" width="0.7" height="5.97" fill="#a9c9ec"/><rect x="626.35" y="471.65" width="0.7" height="2.55" fill="#3a80cc"/><rect x="626.56" y="473.32" width="0.7" height="0.88" fill="#a9c9ec"/><rect x="626.92" y="468.96" width="0.7" height="5.24" fill="#4a8fd4"/><rect x="626.89" y="468.87" width="0.7" height="5.33" fill="#2f78c4"/><rect x="627.30" y="468.01" width="0.7" height="6.19" fill="#2f78c4"/><rect x="627.50" y="472.92" width="0.7" height="1.28" fill="#7db0e2"/><rect x="627.50" y="471.05" width="0.7" height="3.15" fill="#7db0e2"/><rect x="627.93" y="472.28" width="0.7" height="1.92" fill="#7db0e2"/><rect x="627.87" y="472.64" width="0.7" height="1.56" fill="#a9c9ec"/><rect x="628.04" y="465.31" width="0.7" height="8.89" fill="#a9c9ec"/><rect x="628.49" y="473.62" width="0.7" height="0.58" fill="#3a80cc"/><rect x="628.47" y="466.50" width="0.7" height="7.70" fill="#3a80cc"/><rect x="628.90" y="467.83" width="0.7" height="6.37" fill="#a9c9ec"/><rect x="628.91" y="461.04" width="0.7" height="13.16" fill="#3a80cc"/><rect x="629.08" y="466.49" width="0.7" height="7.71" fill="#7db0e2"/><rect x="629.38" y="472.38" width="0.7" height="1.82" fill="#4a8fd4"/><rect x="629.43" y="473.14" width="0.7" height="1.06" fill="#3a80cc"/><rect x="629.74" y="473.87" width="0.7" height="0.33" fill="#7db0e2"/><rect x="629.79" y="452.23" width="0.7" height="21.97" fill="#1f66b4"/><rect x="630.14" y="471.35" width="0.7" height="2.85" fill="#2f78c4"/><rect x="630.44" y="465.07" width="0.7" height="9.13" fill="#3a80cc"/><rect x="630.55" y="458.34" width="0.7" height="15.86" fill="#a9c9ec"/><rect x="630.59" y="473.62" width="0.7" height="0.58" fill="#7db0e2"/><rect x="630.85" y="460.88" width="0.7" height="13.32" fill="#a9c9ec"/><rect x="631.00" y="473.09" width="0.7" height="1.11" fill="#2f78c4"/><rect x="631.39" y="470.90" width="0.7" height="3.30" fill="#3a80cc"/><rect x="631.43" y="468.93" width="0.7" height="5.27" fill="#2f78c4"/><rect x="631.58" y="458.20" width="0.7" height="16.00" fill="#7db0e2"/><rect x="631.97" y="473.57" width="0.7" height="0.63" fill="#3a80cc"/><rect x="632.01" y="453.14" width="0.7" height="21.06" fill="#a9c9ec"/><rect x="632.13" y="470.05" width="0.7" height="4.15" fill="#4a8fd4"/><rect x="632.40" y="473.69" width="0.7" height="0.51" fill="#a9c9ec"/><rect x="632.55" y="467.39" width="0.7" height="6.81" fill="#3a80cc"/><rect x="632.93" y="471.51" width="0.7" height="2.69" fill="#3a80cc"/><rect x="632.84" y="466.88" width="0.7" height="7.32" fill="#2f78c4"/><rect x="633.16" y="473.10" width="0.7" height="1.10" fill="#7db0e2"/><rect x="633.34" y="471.67" width="0.7" height="2.53" fill="#2f78c4"/><rect x="633.66" y="459.46" width="0.7" height="14.74" fill="#1f66b4"/><rect x="633.64" y="465.88" width="0.7" height="8.32" fill="#a9c9ec"/><rect x="634.07" y="473.48" width="0.7" height="0.72" fill="#7db0e2"/><rect x="634.00" y="473.96" width="0.7" height="0.24" fill="#1f66b4"/><rect x="634.39" y="470.93" width="0.7" height="3.27" fill="#2f78c4"/><rect x="634.58" y="472.89" width="0.7" height="1.31" fill="#2f78c4"/><rect x="634.68" y="469.35" width="0.7" height="4.85" fill="#7db0e2"/><rect x="634.91" y="466.01" width="0.7" height="8.19" fill="#2f78c4"/><rect x="635.25" y="445.10" width="0.7" height="29.10" fill="#a9c9ec"/><rect x="635.28" y="472.17" width="0.7" height="2.03" fill="#1f66b4"/><rect x="635.55" y="473.03" width="0.7" height="1.17" fill="#a9c9ec"/><rect x="635.73" y="462.08" width="0.7" height="12.12" fill="#4a8fd4"/><rect x="635.88" y="467.39" width="0.7" height="6.81" fill="#a9c9ec"/><rect x="636.03" y="473.00" width="0.7" height="1.20" fill="#a9c9ec"/><rect x="636.14" y="461.91" width="0.7" height="12.29" fill="#2f78c4"/><rect x="636.36" y="466.07" width="0.7" height="8.13" fill="#1f66b4"/><rect x="636.73" y="455.84" width="0.7" height="18.36" fill="#3a80cc"/><rect x="636.93" y="464.01" width="0.7" height="10.19" fill="#2f78c4"/><rect x="637.01" y="472.89" width="0.7" height="1.31" fill="#7db0e2"/><rect x="637.33" y="451.75" width="0.7" height="22.45" fill="#2f78c4"/><rect x="637.30" y="470.07" width="0.7" height="4.13" fill="#1f66b4"/><rect x="637.62" y="473.28" width="0.7" height="0.92" fill="#2f78c4"/><rect x="637.74" y="468.71" width="0.7" height="5.49" fill="#2f78c4"/><rect x="637.87" y="472.09" width="0.7" height="2.11" fill="#3a80cc"/><rect x="638.06" y="468.63" width="0.7" height="5.57" fill="#7db0e2"/><rect x="638.34" y="472.01" width="0.7" height="2.19" fill="#1f66b4"/><rect x="638.55" y="473.77" width="0.7" height="0.43" fill="#4a8fd4"/><rect x="638.79" y="472.75" width="0.7" height="1.45" fill="#2f78c4"/><rect x="638.95" y="459.44" width="0.7" height="14.76" fill="#2f78c4"/><rect x="639.24" y="468.76" width="0.7" height="5.44" fill="#4a8fd4"/><rect x="639.48" y="468.42" width="0.7" height="5.78" fill="#a9c9ec"/><rect x="639.57" y="448.52" width="0.7" height="25.68" fill="#3a80cc"/><rect x="639.87" y="470.06" width="0.7" height="4.14" fill="#2f78c4"/><rect x="639.84" y="461.82" width="0.7" height="12.38" fill="#2f78c4"/><rect x="640.18" y="464.52" width="0.7" height="9.68" fill="#4a8fd4"/><rect x="640.24" y="466.72" width="0.7" height="7.48" fill="#a9c9ec"/><rect x="640.38" y="471.42" width="0.7" height="2.78" fill="#1f66b4"/><rect x="640.73" y="459.59" width="0.7" height="14.61" fill="#2f78c4"/><rect x="640.85" y="471.44" width="0.7" height="2.76" fill="#4a8fd4"/><rect x="641.00" y="473.28" width="0.7" height="0.92" fill="#a9c9ec"/><rect x="641.22" y="468.99" width="0.7" height="5.21" fill="#3a80cc"/><rect x="641.61" y="467.83" width="0.7" height="6.37" fill="#4a8fd4"/><rect x="641.67" y="468.80" width="0.7" height="5.40" fill="#2f78c4"/><rect x="641.81" y="471.44" width="0.7" height="2.76" fill="#3a80cc"/><rect x="642.07" y="472.27" width="0.7" height="1.93" fill="#2f78c4"/><rect x="642.21" y="469.17" width="0.7" height="5.03" fill="#7db0e2"/><rect x="642.47" y="471.05" width="0.7" height="3.15" fill="#2f78c4"/><rect x="642.48" y="460.18" width="0.7" height="14.02" fill="#2f78c4"/><rect x="642.71" y="470.46" width="0.7" height="3.74" fill="#7db0e2"/><rect x="642.97" y="472.24" width="0.7" height="1.96" fill="#2f78c4"/><rect x="643.26" y="473.94" width="0.7" height="0.26" fill="#7db0e2"/><rect x="643.38" y="472.17" width="0.7" height="2.03" fill="#3a80cc"/><rect x="643.59" y="463.95" width="0.7" height="10.25" fill="#7db0e2"/><rect x="643.74" y="447.88" width="0.7" height="26.32" fill="#2f78c4"/><rect x="644.02" y="470.77" width="0.7" height="3.43" fill="#4a8fd4"/><rect x="644.11" y="467.12" width="0.7" height="7.08" fill="#7db0e2"/><rect x="644.45" y="472.37" width="0.7" height="1.83" fill="#1f66b4"/><rect x="644.41" y="472.62" width="0.7" height="1.58" fill="#2f78c4"/><rect x="644.74" y="463.32" width="0.7" height="10.88" fill="#2f78c4"/><rect x="645.03" y="472.99" width="0.7" height="1.21" fill="#1f66b4"/><rect x="645.05" y="466.19" width="0.7" height="8.01" fill="#a9c9ec"/><rect x="645.35" y="471.84" width="0.7" height="2.36" fill="#2f78c4"/><rect x="645.44" y="468.45" width="0.7" height="5.75" fill="#2f78c4"/><rect x="645.66" y="472.91" width="0.7" height="1.29" fill="#7db0e2"/><rect x="645.84" y="472.27" width="0.7" height="1.93" fill="#4a8fd4"/><rect x="646.17" y="469.01" width="0.7" height="5.19" fill="#2f78c4"/><rect x="646.42" y="470.80" width="0.7" height="3.40" fill="#a9c9ec"/><rect x="646.50" y="470.15" width="0.7" height="4.05" fill="#7db0e2"/><rect x="646.70" y="474.09" width="0.7" height="0.11" fill="#3a80cc"/><rect x="646.93" y="469.83" width="0.7" height="4.37" fill="#2f78c4"/><rect x="647.14" y="470.91" width="0.7" height="3.29" fill="#7db0e2"/><rect x="647.29" y="453.43" width="0.7" height="20.77" fill="#2f78c4"/><rect x="647.33" y="473.76" width="0.7" height="0.44" fill="#3a80cc"/><rect x="647.70" y="471.81" width="0.7" height="2.39" fill="#a9c9ec"/><rect x="647.87" y="466.05" width="0.7" height="8.15" fill="#a9c9ec"/><rect x="647.95" y="467.51" width="0.7" height="6.69" fill="#2f78c4"/><rect x="648.30" y="458.37" width="0.7" height="15.83" fill="#7db0e2"/><rect x="648.44" y="470.19" width="0.7" height="4.01" fill="#2f78c4"/><rect x="648.64" y="471.65" width="0.7" height="2.55" fill="#3a80cc"/><rect x="648.91" y="470.06" width="0.7" height="4.14" fill="#4a8fd4"/><rect x="648.85" y="472.22" width="0.7" height="1.98" fill="#4a8fd4"/><rect x="649.26" y="473.54" width="0.7" height="0.66" fill="#7db0e2"/><rect x="649.34" y="474.04" width="0.7" height="0.16" fill="#a9c9ec"/><rect x="649.67" y="473.07" width="0.7" height="1.13" fill="#3a80cc"/><rect x="649.87" y="470.77" width="0.7" height="3.43" fill="#3a80cc"/><rect x="650.02" y="470.59" width="0.7" height="3.61" fill="#a9c9ec"/><rect x="650.00" y="467.36" width="0.7" height="6.84" fill="#4a8fd4"/><rect x="650.40" y="472.22" width="0.7" height="1.98" fill="#2f78c4"/><rect x="650.46" y="473.30" width="0.7" height="0.90" fill="#7db0e2"/><rect x="650.66" y="466.00" width="0.7" height="8.20" fill="#3a80cc"/><rect x="650.86" y="469.89" width="0.7" height="4.31" fill="#a9c9ec"/><rect x="651.04" y="469.78" width="0.7" height="4.42" fill="#a9c9ec"/><rect x="651.34" y="471.65" width="0.7" height="2.55" fill="#2f78c4"/><rect x="651.53" y="472.86" width="0.7" height="1.34" fill="#7db0e2"/><rect x="651.62" y="471.53" width="0.7" height="2.67" fill="#2f78c4"/><rect x="651.78" y="473.87" width="0.7" height="0.33" fill="#7db0e2"/><rect x="652.01" y="467.84" width="0.7" height="6.36" fill="#a9c9ec"/><rect x="652.36" y="473.86" width="0.7" height="0.34" fill="#4a8fd4"/><rect x="652.58" y="462.07" width="0.7" height="12.13" fill="#a9c9ec"/><rect x="652.59" y="473.57" width="0.7" height="0.63" fill="#4a8fd4"/><rect x="652.89" y="473.66" width="0.7" height="0.54" fill="#7db0e2"/><rect x="653.01" y="473.38" width="0.7" height="0.82" fill="#3a80cc"/><rect x="653.16" y="473.32" width="0.7" height="0.88" fill="#a9c9ec"/><rect x="653.34" y="473.37" width="0.7" height="0.83" fill="#7db0e2"/><rect x="653.68" y="473.68" width="0.7" height="0.52" fill="#4a8fd4"/><rect x="653.70" y="473.08" width="0.7" height="1.12" fill="#1f66b4"/><rect x="654.04" y="472.07" width="0.7" height="2.13" fill="#4a8fd4"/><rect x="654.24" y="469.79" width="0.7" height="4.41" fill="#7db0e2"/><rect x="654.41" y="471.92" width="0.7" height="2.28" fill="#3a80cc"/><rect x="654.64" y="469.47" width="0.7" height="4.73" fill="#3a80cc"/><rect x="654.89" y="473.61" width="0.7" height="0.59" fill="#7db0e2"/><rect x="654.79" y="470.31" width="0.7" height="3.89" fill="#7db0e2"/><rect x="655.18" y="472.50" width="0.7" height="1.70" fill="#1f66b4"/><rect x="655.21" y="470.85" width="0.7" height="3.35" fill="#7db0e2"/><rect x="655.37" y="466.24" width="0.7" height="7.96" fill="#1f66b4"/><rect x="655.60" y="471.71" width="0.7" height="2.49" fill="#1f66b4"/><rect x="656.00" y="469.46" width="0.7" height="4.74" fill="#1f66b4"/><rect x="656.18" y="473.30" width="0.7" height="0.90" fill="#3a80cc"/><rect x="656.34" y="469.71" width="0.7" height="4.49" fill="#3a80cc"/><rect x="656.40" y="473.92" width="0.7" height="0.28" fill="#7db0e2"/><rect x="656.71" y="470.25" width="0.7" height="3.95" fill="#a9c9ec"/><rect x="656.85" y="471.86" width="0.7" height="2.34" fill="#3a80cc"/><rect x="656.97" y="469.04" width="0.7" height="5.16" fill="#7db0e2"/><rect x="657.26" y="472.04" width="0.7" height="2.16" fill="#4a8fd4"/><rect x="657.31" y="470.17" width="0.7" height="4.03" fill="#1f66b4"/><rect x="657.76" y="468.80" width="0.7" height="5.40" fill="#2f78c4"/><rect x="657.76" y="474.19" width="0.7" height="0.01" fill="#1f66b4"/><rect x="658.15" y="473.10" width="0.7" height="1.10" fill="#7db0e2"/><rect x="658.15" y="463.82" width="0.7" height="10.38" fill="#2f78c4"/><rect x="658.53" y="468.69" width="0.7" height="5.51" fill="#4a8fd4"/><rect x="658.45" y="469.93" width="0.7" height="4.27" fill="#3a80cc"/><rect x="658.93" y="455.66" width="0.7" height="18.54" fill="#1f66b4"/><rect x="658.99" y="471.30" width="0.7" height="2.90" fill="#3a80cc"/><rect x="659.08" y="470.43" width="0.7" height="3.77" fill="#7db0e2"/><rect x="659.40" y="461.11" width="0.7" height="13.09" fill="#3a80cc"/><rect x="659.44" y="473.44" width="0.7" height="0.76" fill="#4a8fd4"/><rect x="659.62" y="470.83" width="0.7" height="3.37" fill="#1f66b4"/><rect x="660.07" y="462.65" width="0.7" height="11.55" fill="#2f78c4"/><rect x="660.02" y="472.40" width="0.7" height="1.80" fill="#7db0e2"/><rect x="660.24" y="472.59" width="0.7" height="1.61" fill="#4a8fd4"/><rect x="660.66" y="459.09" width="0.7" height="15.11" fill="#4a8fd4"/><rect x="660.82" y="460.41" width="0.7" height="13.79" fill="#2f78c4"/><rect x="660.94" y="466.19" width="0.7" height="8.01" fill="#3a80cc"/><rect x="661.12" y="462.67" width="0.7" height="11.53" fill="#7db0e2"/><rect x="661.42" y="473.74" width="0.7" height="0.46" fill="#1f66b4"/><rect x="661.38" y="461.88" width="0.7" height="12.32" fill="#2f78c4"/><rect x="661.56" y="463.94" width="0.7" height="10.26" fill="#2f78c4"/><rect x="661.84" y="473.39" width="0.7" height="0.81" fill="#4a8fd4"/><rect x="662.11" y="470.50" width="0.7" height="3.70" fill="#1f66b4"/><rect x="662.33" y="466.44" width="0.7" height="7.76" fill="#2f78c4"/><rect x="662.29" y="473.71" width="0.7" height="0.49" fill="#4a8fd4"/><rect x="662.78" y="461.68" width="0.7" height="12.52" fill="#a9c9ec"/><rect x="662.78" y="472.47" width="0.7" height="1.73" fill="#a9c9ec"/><rect x="662.87" y="463.93" width="0.7" height="10.27" fill="#7db0e2"/><rect x="663.08" y="470.98" width="0.7" height="3.22" fill="#3a80cc"/><rect x="663.36" y="466.35" width="0.7" height="7.85" fill="#a9c9ec"/><rect x="663.64" y="455.52" width="0.7" height="18.68" fill="#a9c9ec"/><rect x="663.69" y="473.06" width="0.7" height="1.14" fill="#7db0e2"/><rect x="663.97" y="472.46" width="0.7" height="1.74" fill="#7db0e2"/><rect x="664.08" y="466.28" width="0.7" height="7.92" fill="#1f66b4"/><rect x="664.30" y="469.03" width="0.7" height="5.17" fill="#7db0e2"/><rect x="664.58" y="474.04" width="0.7" height="0.16" fill="#7db0e2"/><rect x="664.67" y="471.69" width="0.7" height="2.51" fill="#7db0e2"/><rect x="665.02" y="472.60" width="0.7" height="1.60" fill="#2f78c4"/><rect x="665.22" y="468.77" width="0.7" height="5.43" fill="#2f78c4"/><rect x="665.39" y="469.31" width="0.7" height="4.89" fill="#a9c9ec"/><rect x="665.44" y="470.46" width="0.7" height="3.74" fill="#4a8fd4"/><rect x="665.68" y="471.12" width="0.7" height="3.08" fill="#2f78c4"/><rect x="666.05" y="470.78" width="0.7" height="3.42" fill="#4a8fd4"/><rect x="666.08" y="466.44" width="0.7" height="7.76" fill="#4a8fd4"/><rect x="666.24" y="463.28" width="0.7" height="10.92" fill="#a9c9ec"/><rect x="666.61" y="468.43" width="0.7" height="5.77" fill="#3a80cc"/><rect x="666.55" y="448.60" width="0.7" height="25.60" fill="#2f78c4"/><rect x="666.74" y="473.97" width="0.7" height="0.23" fill="#2f78c4"/><rect x="667.04" y="472.99" width="0.7" height="1.21" fill="#2f78c4"/><rect x="667.17" y="459.50" width="0.7" height="14.70" fill="#4a8fd4"/><rect x="667.58" y="471.28" width="0.7" height="2.92" fill="#4a8fd4"/><rect x="667.53" y="465.44" width="0.7" height="8.76" fill="#2f78c4"/><rect x="667.74" y="473.18" width="0.7" height="1.02" fill="#3a80cc"/><rect x="667.95" y="460.99" width="0.7" height="13.21" fill="#3a80cc"/><rect x="668.20" y="470.95" width="0.7" height="3.25" fill="#2f78c4"/><rect x="668.54" y="473.09" width="0.7" height="1.11" fill="#2f78c4"/><rect x="668.75" y="465.17" width="0.7" height="9.03" fill="#3a80cc"/><rect x="668.66" y="471.64" width="0.7" height="2.56" fill="#4a8fd4"/><rect x="669.01" y="471.96" width="0.7" height="2.24" fill="#1f66b4"/><rect x="669.19" y="468.34" width="0.7" height="5.86" fill="#1f66b4"/><rect x="669.30" y="473.52" width="0.7" height="0.68" fill="#3a80cc"/><rect x="669.48" y="473.64" width="0.7" height="0.56" fill="#7db0e2"/><rect x="669.90" y="455.20" width="0.7" height="19.00" fill="#3a80cc"/><rect x="669.95" y="472.98" width="0.7" height="1.22" fill="#7db0e2"/><rect x="670.18" y="473.43" width="0.7" height="0.77" fill="#a9c9ec"/><rect x="670.42" y="449.08" width="0.7" height="25.12" fill="#a9c9ec"/><rect x="670.48" y="465.64" width="0.7" height="8.56" fill="#2f78c4"/><rect x="670.63" y="454.05" width="0.7" height="20.15" fill="#3a80cc"/><rect x="670.77" y="464.15" width="0.7" height="10.05" fill="#a9c9ec"/><rect x="671.12" y="471.89" width="0.7" height="2.31" fill="#2f78c4"/><rect x="671.20" y="464.89" width="0.7" height="9.31" fill="#4a8fd4"/><rect x="671.63" y="474.03" width="0.7" height="0.17" fill="#a9c9ec"/><rect x="671.77" y="469.37" width="0.7" height="4.83" fill="#3a80cc"/><rect x="671.74" y="474.03" width="0.7" height="0.17" fill="#7db0e2"/><rect x="671.92" y="471.67" width="0.7" height="2.53" fill="#2f78c4"/><rect x="672.21" y="461.04" width="0.7" height="13.16" fill="#1f66b4"/><rect x="672.41" y="469.73" width="0.7" height="4.47" fill="#1f66b4"/><rect x="672.72" y="472.93" width="0.7" height="1.27" fill="#4a8fd4"/><rect x="672.95" y="468.12" width="0.7" height="6.08" fill="#a9c9ec"/><rect x="673.01" y="468.02" width="0.7" height="6.18" fill="#7db0e2"/></g>
<path d="M504.8 349.0 H674.2 V474.2" fill="none" stroke="#808080" stroke-width="1.3"/>
<path d="M504.8 349.0 V474.2 H674.2" fill="none" stroke="#111" stroke-width="1.1"/>
<line x1="502.3" y1="474.20" x2="504.8" y2="474.20" stroke="#111" stroke-width="1"/>
<text x="501.50" y="477.30" font-size="9.0" font-weight="bold" fill="#111" stroke="#111" stroke-width="0.2" text-anchor="end" >0</text>
<line x1="502.3" y1="449.16" x2="504.8" y2="449.16" stroke="#111" stroke-width="1"/>
<text x="501.50" y="452.26" font-size="9.0" font-weight="bold" fill="#111" stroke="#111" stroke-width="0.2" text-anchor="end" >0.02</text>
<line x1="502.3" y1="424.12" x2="504.8" y2="424.12" stroke="#111" stroke-width="1"/>
<text x="501.50" y="427.22" font-size="9.0" font-weight="bold" fill="#111" stroke="#111" stroke-width="0.2" text-anchor="end" >0.04</text>
<line x1="502.3" y1="399.08" x2="504.8" y2="399.08" stroke="#111" stroke-width="1"/>
<text x="501.50" y="402.18" font-size="9.0" font-weight="bold" fill="#111" stroke="#111" stroke-width="0.2" text-anchor="end" >0.06</text>
<line x1="502.3" y1="374.04" x2="504.8" y2="374.04" stroke="#111" stroke-width="1"/>
<text x="501.50" y="377.14" font-size="9.0" font-weight="bold" fill="#111" stroke="#111" stroke-width="0.2" text-anchor="end" >0.08</text>
<line x1="502.3" y1="349.00" x2="504.8" y2="349.00" stroke="#111" stroke-width="1"/>
<text x="500.00" y="352.10" font-size="9.0" font-weight="bold" fill="#111" stroke="#111" stroke-width="0.2" text-anchor="end" >0.1</text>
<line x1="504.8" y1="461.68" x2="507" y2="461.68" stroke="#111" stroke-width="0.8"/>
<line x1="504.8" y1="436.64" x2="507" y2="436.64" stroke="#111" stroke-width="0.8"/>
<line x1="504.8" y1="411.60" x2="507" y2="411.60" stroke="#111" stroke-width="0.8"/>
<line x1="504.8" y1="386.56" x2="507" y2="386.56" stroke="#111" stroke-width="0.8"/>
<line x1="504.8" y1="361.52" x2="507" y2="361.52" stroke="#111" stroke-width="0.8"/>
<line x1="508.60" y1="474.2" x2="508.60" y2="476.8" stroke="#111" stroke-width="0.9"/>
<line x1="516.30" y1="474.2" x2="516.30" y2="476.8" stroke="#111" stroke-width="0.9"/>
<line x1="524.00" y1="474.2" x2="524.00" y2="476.8" stroke="#111" stroke-width="0.9"/>
<line x1="531.70" y1="474.2" x2="531.70" y2="476.8" stroke="#111" stroke-width="0.9"/>
<line x1="539.40" y1="474.2" x2="539.40" y2="476.8" stroke="#111" stroke-width="0.9"/>
<line x1="547.10" y1="474.2" x2="547.10" y2="476.8" stroke="#111" stroke-width="0.9"/>
<line x1="554.80" y1="474.2" x2="554.80" y2="476.8" stroke="#111" stroke-width="0.9"/>
<line x1="562.50" y1="474.2" x2="562.50" y2="476.8" stroke="#111" stroke-width="0.9"/>
<line x1="570.20" y1="474.2" x2="570.20" y2="476.8" stroke="#111" stroke-width="0.9"/>
<line x1="577.90" y1="474.2" x2="577.90" y2="476.8" stroke="#111" stroke-width="0.9"/>
<line x1="585.60" y1="474.2" x2="585.60" y2="476.8" stroke="#111" stroke-width="0.9"/>
<line x1="593.30" y1="474.2" x2="593.30" y2="476.8" stroke="#111" stroke-width="0.9"/>
<line x1="601.00" y1="474.2" x2="601.00" y2="476.8" stroke="#111" stroke-width="0.9"/>
<line x1="608.70" y1="474.2" x2="608.70" y2="476.8" stroke="#111" stroke-width="0.9"/>
<line x1="616.40" y1="474.2" x2="616.40" y2="476.8" stroke="#111" stroke-width="0.9"/>
<line x1="624.10" y1="474.2" x2="624.10" y2="476.8" stroke="#111" stroke-width="0.9"/>
<line x1="631.80" y1="474.2" x2="631.80" y2="476.8" stroke="#111" stroke-width="0.9"/>
<line x1="639.50" y1="474.2" x2="639.50" y2="476.8" stroke="#111" stroke-width="0.9"/>
<line x1="647.20" y1="474.2" x2="647.20" y2="476.8" stroke="#111" stroke-width="0.9"/>
<line x1="654.90" y1="474.2" x2="654.90" y2="476.8" stroke="#111" stroke-width="0.9"/>
<line x1="662.60" y1="474.2" x2="662.60" y2="476.8" stroke="#111" stroke-width="0.9"/>
<line x1="670.30" y1="474.2" x2="670.30" y2="476.8" stroke="#111" stroke-width="0.9"/>
<text transform="translate(545.30,486.0) rotate(90) scale(0.85,1)" font-size="10.6" font-weight="bold" fill="#111" text-anchor="middle">100</text>
<text transform="translate(583.50,486.0) rotate(90) scale(0.85,1)" font-size="10.6" font-weight="bold" fill="#111" text-anchor="middle">200</text>
<text transform="translate(622.00,486.0) rotate(90) scale(0.85,1)" font-size="10.6" font-weight="bold" fill="#111" text-anchor="middle">300</text>
<text transform="translate(660.20,486.0) rotate(90) scale(0.85,1)" font-size="10.6" font-weight="bold" fill="#111" text-anchor="middle">400</text>
<text x="542.50" y="514.30" font-size="12.6" font-weight="bold" fill="#111" stroke="#111" stroke-width="0.3" text-anchor="start" >Residue number</text>
<text transform="translate(476.3,492.9) rotate(-90)" font-size="9.6" font-weight="bold" fill="#111">Chemical shift changes Δδ [ppm]</text>
</svg></body></html>
